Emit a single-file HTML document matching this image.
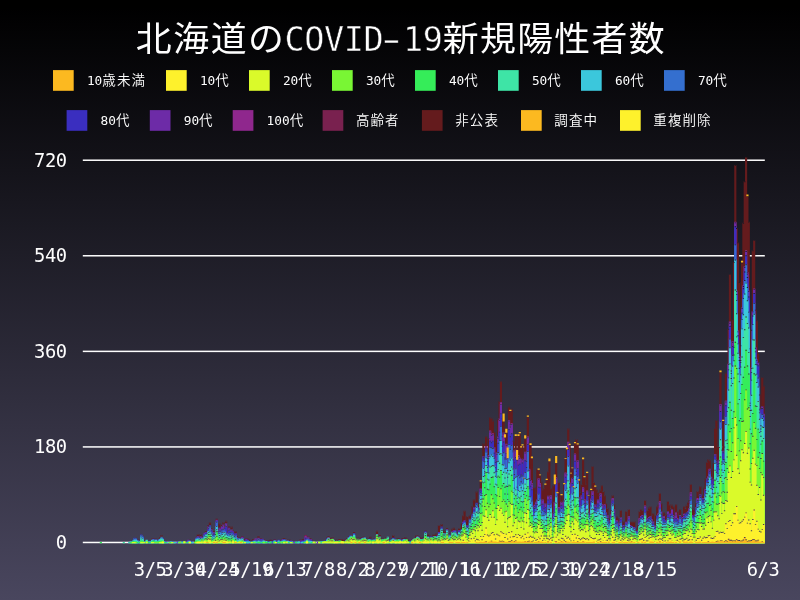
<!DOCTYPE html>
<html lang="ja"><head><meta charset="utf-8"><title>北海道のCOVID-19新規陽性者数</title>
<style>html,body{margin:0;padding:0;background:#000;}svg{display:block;will-change:transform;opacity:0.999}text{font-family:"DejaVu Sans Mono","Liberation Mono","Noto Sans CJK JP",monospace;fill:#fff}</style></head><body>
<svg width="800" height="600" viewBox="0 0 800 600">
<defs><linearGradient id="bg" x1="0" y1="0" x2="0" y2="1"><stop offset="0" stop-color="#000000"/><stop offset="1" stop-color="#4a475f"/></linearGradient><linearGradient id="bgu" gradientUnits="userSpaceOnUse" x1="0" y1="0" x2="0" y2="600"><stop offset="0" stop-color="#000000"/><stop offset="1" stop-color="#4a475f"/></linearGradient></defs>
<rect width="800" height="600" fill="url(#bg)"/>
<text transform="translate(135.8,50.8) scale(1.04,1)" font-size="34.5" letter-spacing="1.5">北海道の</text><text x="284.6" y="50.8" font-size="33.5" letter-spacing="-0.42" stroke="#070709" stroke-width="0.5">COVID</text><text transform="translate(375.4,51) scale(1.58,1)" font-size="33.5" stroke="#070709" stroke-width="0.3">-</text><text x="403.1" y="50.8" font-size="33.5" letter-spacing="-0.42" stroke="#070709" stroke-width="0.5">19</text><text transform="translate(442.7,50.8) scale(1.04,1)" font-size="34.5" letter-spacing="1.3">新規陽性者数</text>
<rect x="53" y="70.1" width="20.7" height="20.7" fill="#fdba21"/>
<text x="86.9" y="85.2"><tspan font-size="12.8">10</tspan><tspan font-size="13.5" font-weight="350" letter-spacing="1.1">歳未満</tspan></text>
<rect x="166" y="70.1" width="20.7" height="20.7" fill="#fff22d"/>
<text x="199.9" y="85.2"><tspan font-size="12.8">10</tspan><tspan font-size="13.5" font-weight="350" letter-spacing="1.1">代</tspan></text>
<rect x="249" y="70.1" width="20.7" height="20.7" fill="#dbfb2b"/>
<text x="282.9" y="85.2"><tspan font-size="12.8">20</tspan><tspan font-size="13.5" font-weight="350" letter-spacing="1.1">代</tspan></text>
<rect x="332" y="70.1" width="20.7" height="20.7" fill="#7af735"/>
<text x="365.9" y="85.2"><tspan font-size="12.8">30</tspan><tspan font-size="13.5" font-weight="350" letter-spacing="1.1">代</tspan></text>
<rect x="415" y="70.1" width="20.7" height="20.7" fill="#36ee5a"/>
<text x="448.9" y="85.2"><tspan font-size="12.8">40</tspan><tspan font-size="13.5" font-weight="350" letter-spacing="1.1">代</tspan></text>
<rect x="498" y="70.1" width="20.7" height="20.7" fill="#3fe5a7"/>
<text x="531.9" y="85.2"><tspan font-size="12.8">50</tspan><tspan font-size="13.5" font-weight="350" letter-spacing="1.1">代</tspan></text>
<rect x="581" y="70.1" width="20.7" height="20.7" fill="#3cc8dd"/>
<text x="614.9" y="85.2"><tspan font-size="12.8">60</tspan><tspan font-size="13.5" font-weight="350" letter-spacing="1.1">代</tspan></text>
<rect x="664" y="70.1" width="20.7" height="20.7" fill="#3570d0"/>
<text x="697.9" y="85.2"><tspan font-size="12.8">70</tspan><tspan font-size="13.5" font-weight="350" letter-spacing="1.1">代</tspan></text>
<rect x="66.6" y="110.1" width="20.7" height="20.7" fill="#3b2fc0"/>
<text x="100.5" y="125.2"><tspan font-size="12.8">80</tspan><tspan font-size="13.5" font-weight="350" letter-spacing="1.1">代</tspan></text>
<rect x="149.8" y="110.1" width="20.7" height="20.7" fill="#6e2ca8"/>
<text x="183.70000000000002" y="125.2"><tspan font-size="12.8">90</tspan><tspan font-size="13.5" font-weight="350" letter-spacing="1.1">代</tspan></text>
<rect x="232.7" y="110.1" width="20.7" height="20.7" fill="#90288e"/>
<text x="266.59999999999997" y="125.2"><tspan font-size="12.8">100</tspan><tspan font-size="13.5" font-weight="350" letter-spacing="1.1">代</tspan></text>
<rect x="322.6" y="110.1" width="20.7" height="20.7" fill="#7a2250"/>
<text x="355.90000000000003" y="125.2"><tspan font-size="13.5" font-weight="350" letter-spacing="1.1">高齢者</tspan></text>
<rect x="421.9" y="110.1" width="20.7" height="20.7" fill="#651c1e"/>
<text x="455.2" y="125.2"><tspan font-size="13.5" font-weight="350" letter-spacing="1.1">非公表</tspan></text>
<rect x="521" y="110.1" width="20.7" height="20.7" fill="#fdba21"/>
<text x="554.3" y="125.2"><tspan font-size="13.5" font-weight="350" letter-spacing="1.1">調査中</tspan></text>
<rect x="620" y="110.1" width="20.7" height="20.7" fill="#fff22d"/>
<text x="653.3" y="125.2"><tspan font-size="13.5" font-weight="350" letter-spacing="1.1">重複削除</tspan></text>
<rect x="82.8" y="159.47" width="682" height="1.5" fill="#fff"/>
<text x="66.6" y="166.55" font-size="18.8" letter-spacing="-0.48" text-anchor="end">720</text>
<rect x="82.8" y="255.02" width="682" height="1.5" fill="#fff"/>
<text x="66.6" y="262.1" font-size="18.8" letter-spacing="-0.48" text-anchor="end">540</text>
<rect x="82.8" y="350.62" width="682" height="1.5" fill="#fff"/>
<text x="66.6" y="357.7" font-size="18.8" letter-spacing="-0.48" text-anchor="end">360</text>
<rect x="82.8" y="446.17" width="682" height="1.5" fill="#fff"/>
<text x="66.6" y="453.25" font-size="18.8" letter-spacing="-0.48" text-anchor="end">180</text>
<rect x="82.8" y="541.72" width="682" height="1.5" fill="#fff"/>
<text x="66.6" y="548.8" font-size="18.8" letter-spacing="-0.48" text-anchor="end">0</text>
<g>
<path fill="#651c1e" d="M137.52 543.2V539.85H139.66V543.2zM142.9 543.2V540.38H145.05V543.2zM150.99 543.2V538.79H152.33V538.26H154.48V543.2zM155.03 543.2V538.79H157.17V543.2zM157.72 543.2V538.79H159.07V537.2H160.41V535.08H162.56V543.2zM188.7 543.2V539.85H190.85V543.2zM194.09 543.2V540.38H196.24V543.2zM196.78 543.2V534.55H198.93V543.2zM199.48 543.2V534.02H201.62V536.67H202.97V539.85H204.32V543.2zM204.87 543.2V531.36H207.01V533.48H207.56V525H208.91V522.35H211.05V528.18H212.4V533.48H212.95V531.36H214.29V530.83H215.64V518.64H217.79V530.3H218.34V523.41H220.48V528.18H221.03V525H222.38V522.35H224.52V525H225.07V520.76H227.22V530.83H227.77V526.59H229.91V543.2zM230.46 543.2V526.59H232.61V530.83H233.95V534.55H234.5V531.36H236.65V536.14H237.99V537.73H239.34V537.73H240.69V538.26H241.23V536.14H243.38V539.32H244.73V539.85H245.28V538.26H247.42V538.79H248.77V539.32H250.12V543.2zM250.66 543.2V540.38H252.01V539.32H254.16V543.2zM257.4 543.2V536.14H259.55V539.32H260.09V538.26H262.24V543.2zM262.79 543.2V539.85H264.93V543.2zM265.48 543.2V540.38H267.63V543.2zM268.18 543.2V540.38H269.52V539.85H271.67V543.2zM272.22 543.2V540.38H273.56V539.32H275.71V543.2zM278.95 543.2V540.38H281.1V543.2zM281.65 543.2V538.79H282.99V538.26H285.14V538.79H286.49V539.85H287.83V543.2zM288.38 543.2V539.85H290.53V543.2zM299.16 543.2V539.85H301.3V543.2zM301.85 543.2V539.32H304V543.2zM304.54 543.2V535.08H306.69V538.26H307.24V536.14H309.38V538.26H310.73V538.79H312.08V543.2zM326.1 543.2V537.73H327.44V536.14H329.59V539.32H330.14V537.73H331.48V537.2H333.63V543.2zM334.18 543.2V539.85H336.32V539.85H337.67V540.38H338.22V539.32H340.37V539.85H340.91V539.32H343.06V540.38H343.61V539.85H344.95V539.32H346.3V538.26H347.65V536.67H349.79V543.2zM350.34 543.2V535.08H352.49V536.67H353.04V531.89H355.18V537.73H356.53V538.79H357.08V537.73H359.22V538.26H359.77V537.73H361.12V537.2H362.47V536.67H364.61V543.2zM367.85 543.2V538.79H369.2V536.67H371.35V539.32H372.69V539.32H373.24V538.79H375.39V543.2zM375.94 543.2V530.83H378.08V535.61H378.63V535.08H380.78V537.73H382.12V543.2zM382.67 543.2V538.79H384.82V543.2zM385.36 543.2V537.2H387.51V543.2zM388.06 543.2V539.32H390.2V543.2zM390.75 543.2V538.79H392.1V535.08H394.25V543.2zM396.14 543.2V538.79H397.49V538.26H399.63V543.2zM400.18 543.2V539.85H401.53V538.26H403.67V538.79H404.22V537.2H406.37V538.79H407.72V539.85H409.06V543.2zM410.96 543.2V539.32H412.3V538.79H414.45V543.2zM415 543.2V535.61H417.14V535.61H418.49V536.67H419.84V537.73H420.39V537.2H422.53V537.73H423.88V543.2zM424.43 543.2V530.83H426.57V543.2zM427.12 543.2V534.55H429.27V535.61H430.61V543.2zM431.16 543.2V536.14H432.51V534.55H434.66V535.61H435.2V533.48H436.55V532.95H437.9V525H440.04V536.14H440.59V523.94H442.74V529.77H444.08V530.83H445.43V532.95H445.98V528.18H448.13V533.48H449.47V534.02H450.82V534.55H451.37V528.71H452.71V527.65H454.86V529.77H456.21V532.42H457.55V534.02H458.1V528.18H460.25V531.89H460.8V522.88H462.14V515.45H463.49V510.68H465.64V520.76H466.18V515.99H468.33V528.18H468.88V515.45H470.23V514.39H471.57V505.91H472.92V499.55H475.07V505.91H475.61V491.59H477.76V504.85H478.31V502.73H479.65V481.52H481V481.51H482.35V443.34H484.49V461.36H485.04V436.45H487.19V454.47H487.74V438.03H489.08V417.35H491.23V417.89H492.58V420.53H493.92V431.66H495.27V442.27H495.82V438.03H497.17V418.93H498.51V400.92H499.86V381.29H502.01V418.41H503.35V421.6H504.7V437.5H505.25V432.73H507.39V458.19H507.94V406.75H510.09V410.99H510.63V408.86H512.78V440.68H514.13V462.42H514.68V435.9H516.82V459.77H517.37V435.9H518.72V433.25H520.86V447.57H521.41V445.46H523.56V478.33H524.11V438.57H525.45V438.03H526.8V416.82H528.95V442.8H530.29V444.92H531.64V458.19H532.99V487.35H534.33V487.35H535.68V492.65H536.23V468.79H538.38V469.84H539.72V475.16H541.07V481.52H542.42V489.47H542.96V487.88H544.31V484.7H545.66V479.92H547V471.45H548.35V461.36H550.5V488.41H551.85V501.67H552.39V485.23H553.74V484.17H555.09V462.95H557.23V493.18H557.78V482.05H559.93V505.38H560.47V495.3H562.62V500.61H563.17V484.17H564.51V458.7H565.86V449.16H567.21V428.49H569.36V444.92H570.7V473.56H571.25V468.26H573.4V487.35H573.94V443.33H575.29V439.09H577.44V444.4H578.78V480.45H580.13V492.12H580.68V484.17H582.03V459.24H584.17V477.27H585.52V483.64H586.07V473.03H588.21V495.83H589.56V497.42H590.11V490.01H591.46V466.13H593.6V482.05H594.95V486.82H596.3V489.47H597.64V492.13H598.99V494.77H599.54V489.48H600.88V485.23H603.03V491.06H604.38V495.3H605.73V503.26H607.07V508.03H608.42V518.11H609.77V521.82H610.31V510.15H611.66V495.3H613.81V504.32H615.15V522.88H615.7V516.52H617.85V521.82H618.4V518.11H619.74V510.15H621.89V527.12H622.44V521.29H624.58V526.06H625.13V511.21H627.28V527.12H627.82V509.09H629.97V521.29H631.32V521.29H632.66V521.29H634.01V521.29H635.36V529.77H635.91V528.71H637.25V525H638.6V511.21H639.95V509.09H642.09V510.15H643.44V518.11H643.99V500.08H646.13V511.21H646.68V510.15H648.03V507.5H649.38V506.44H651.52V514.92H652.07V513.33H654.22V522.88H654.76V514.92H656.11V506.44H657.46V504.85H658.81V493.18H660.95V503.26H662.3V513.86H662.85V512.27H664.99V514.92H665.54V513.86H666.89V501.14H669.03V504.32H670.38V508.03H670.93V504.85H673.08V506.44H674.42V514.92H674.97V504.32H677.12V511.21H678.46V514.92H679.01V509.09H681.16V514.92H682.5V514.92H683.05V506.44H685.2V508.03H685.75V504.85H687.09V502.2H688.44V500.08H689.79V484.17H691.93V508.03H693.28V509.09H694.63V512.27H695.17V503.26H696.52V491.07H698.67V495.31H699.22V486.29H701.36V496.89H701.91V495.31H703.26V487.87H704.6V478.33H705.95V461.91H707.3V459.24H709.44V460.3H710.79V469.85H712.14V478.33H712.69V462.94H714.03V427.96H715.38V420H717.53V445.98H718.87V447.05H719.42V372.27H721.57V449.7H722.11V421.06H724.26V446.51H724.81V372.81H726.96V410.97H727.5V328.79H728.85V274.17H731V325.6H731.54V319.24H732.89V261.97H734.24V164.93H736.38V228.03H737.73V242.35H739.08V282.12H740.42V345.23H740.97V262.5H742.32V222.73H743.67V181.37H745.01V156.97H747.16V196.21H748.51V221.66H749.85V348.41H750.4V329.86H751.75V250.3H753.1V240.22H755.24V309.69H756.59V320.29H757.94V353.19H759.28V394.55H760.63V408.33H761.18V377.05H763.32V385.53H764.67V543.2z"/>
<path fill="#90288e" d="M146.94 543.2V541.44H149.09V543.2zM184.66 543.2V540.91H186.81V540.91H188.16V543.2zM200.82 543.2V537.2H202.97V543.2zM210.25 543.2V529.24H212.4V543.2zM216.99 543.2V530.83H219.14V543.2zM235.85 543.2V537.2H237.99V543.2zM254.71 543.2V538.26H256.85V543.2zM264.13 543.2V540.38H266.28V543.2zM299.16 543.2V540.38H301.3V543.2zM304.54 543.2V535.61H306.69V543.2zM309.93 543.2V539.32H312.08V543.2zM444.63 543.2V533.48H446.78V543.2zM479.65 543.2V488.41H481.8V493.18H483.15V543.2zM483.69 543.2V470.37H485.04V445.99H487.19V457.65H487.74V455H489.08V430.61H491.23V434.33H491.78V433.25H493.92V447.04H495.27V543.2zM495.82 543.2V452.35H497.17V436.43H498.51V418.42H499.86V401.97H502.01V435.38H502.55V432.2H504.7V457.12H505.25V443.87H507.39V469.32H507.94V420.01H510.09V424.24H510.63V423.18H512.78V450.23H514.13V473.03H514.68V449.69H516.82V475.15H517.37V455H519.52V457.65H520.86V474.09H521.41V458.71H523.56V487.35H524.11V451.82H526.25V459.77H526.8V436.44H528.95V468.79H530.29V479.92H531.64V483.12H532.99V543.2zM533.53 543.2V504.85H535.68V543.2zM536.23 543.2V499.55H537.58V478.33H539.72V483.11H541.07V543.2zM541.62 543.2V499.55H543.76V543.2zM549.7 543.2V495.3H551.85V543.2zM553.74 543.2V501.67H555.09V477.27H557.23V517.05H557.78V506.97H559.93V543.2zM560.47 543.2V501.67H562.62V511.74H563.97V543.2zM564.51 543.2V472.49H566.66V473.56H567.21V441.74H569.36V482.58H570.7V543.2zM571.25 543.2V477.81H573.4V492.12H573.94V453.41H576.09V470.38H576.64V460.31H578.78V497.42H580.13V543.2zM580.68 543.2V495.31H582.03V487.34H584.17V499.02H585.52V543.2zM586.07 543.2V490.53H588.21V543.2zM590.11 543.2V498.49H591.46V491.05H593.6V504.85H594.95V543.2zM595.5 543.2V506.44H597.64V543.2zM598.19 543.2V503.26H599.54V493.19H601.68V504.32H603.03V508.03H603.58V504.32H605.73V543.2zM606.27 543.2V514.92H608.42V543.2zM610.31 543.2V513.86H611.66V497.95H613.81V509.09H615.15V543.2zM615.7 543.2V520.23H617.85V525H618.4V521.82H620.54V543.2zM623.78 543.2V529.24H625.93V543.2zM627.82 543.2V515.99H629.97V543.2zM631.87 543.2V527.12H634.01V543.2zM638.6 543.2V518.11H639.95V515.99H642.09V543.2zM642.64 543.2V520.76H643.99V505.38H646.13V518.11H647.48V518.11H648.03V517.05H650.18V543.2zM650.72 543.2V519.17H652.87V543.2zM653.42 543.2V527.12H655.56V543.2zM657.46 543.2V513.33H658.81V501.14H660.95V543.2zM662.85 543.2V515.99H664.99V543.2zM669.58 543.2V513.86H671.73V543.2zM672.28 543.2V514.92H674.42V543.2zM674.97 543.2V512.27H677.12V518.11H678.46V519.17H679.01V514.92H681.16V543.2zM683.05 543.2V513.86H685.2V543.2zM687.09 543.2V511.21H688.44V508.03H689.79V492.12H691.93V543.2zM692.48 543.2V518.11H693.83V514.39H695.97V543.2zM696.52 543.2V497.96H698.67V500.08H700.01V543.2zM701.91 543.2V497.96H704.06V499.01H704.6V488.93H706.75V543.2zM707.3 543.2V476.21H708.64V468.79H710.79V476.75H712.14V487.87H712.69V478.85H714.03V453.95H716.18V543.2zM716.73 543.2V463.48H718.07V459.77H719.42V404.09H721.57V461.36H722.11V450.75H724.26V458.71H724.81V400.38H726.96V439.08H727.5V363.79H728.85V321.36H731V370.15H731.54V340.98H733.69V345.22H734.24V221.67H736.38V290.6H737.73V330.38H739.08V355.83H740.42V359.55H740.97V307.57H742.32V285.31H743.67V266.22H745.01V250.3H747.16V272.04H748.51V290.6H749.85V402.5H750.4V367.51H751.75V311.29H753.1V288.48H755.24V347.34H756.59V359.54H757.94V543.2zM758.48 543.2V407.8H760.63V543.2zM762.52 543.2V413.63H764.67V543.2z"/>
<path fill="#6e2ca8" d="M138.86 543.2V540.91H141.01V543.2zM164.46 543.2V540.91H166.6V543.2zM177.93 543.2V540.91H180.07V543.2zM184.66 543.2V541.44H186.81V541.44H187.35V539.85H189.5V543.2zM195.44 543.2V537.73H196.78V536.14H198.93V543.2zM199.48 543.2V536.14H201.62V543.2zM202.17 543.2V540.38H203.52V532.95H204.87V531.89H207.01V535.08H207.56V526.06H209.71V543.2zM210.25 543.2V529.77H212.4V534.02H212.95V531.89H215.09V532.42H215.64V519.7H217.79V531.36H218.34V527.65H220.48V528.71H221.03V526.06H222.38V524.47H224.52V527.65H225.07V522.88H227.22V532.42H227.77V527.65H229.91V529.24H231.26V529.24H232.61V531.36H233.95V535.61H234.5V532.95H236.65V537.73H237.99V543.2zM238.54 543.2V538.26H240.69V538.79H241.23V536.67H243.38V543.2zM243.93 543.2V540.38H245.28V538.79H247.42V543.2zM253.36 543.2V539.85H254.71V538.79H256.05V538.26H257.4V537.73H259.55V543.2zM260.09 543.2V538.79H262.24V538.79H263.59V543.2zM274.91 543.2V540.38H277.06V540.91H278.4V543.2zM280.3 543.2V540.38H281.65V539.32H283.79V543.2zM285.69 543.2V540.38H287.83V543.2zM289.73 543.2V540.38H291.87V543.2zM292.42 543.2V540.91H294.57V541.44H295.91V543.2zM296.46 543.2V540.91H298.61V543.2zM299.16 543.2V540.91H300.5V540.38H302.65V543.2zM303.2 543.2V540.38H304.54V536.67H306.69V538.79H307.24V536.67H309.38V543.2zM311.28 543.2V540.91H313.43V543.2zM316.67 543.2V541.97H318.81V543.2zM327.44 543.2V537.2H329.59V543.2zM344.95 543.2V539.85H347.1V543.2zM375.94 543.2V534.02H378.08V543.2zM393.45 543.2V538.79H395.59V543.2zM400.18 543.2V540.38H401.53V539.32H403.67V543.2zM416.35 543.2V536.14H418.49V537.2H419.84V538.79H421.19V543.2zM425.77 543.2V537.2H427.92V543.2zM428.47 543.2V537.2H430.61V543.2zM436.55 543.2V535.61H437.9V531.89H440.04V543.2zM445.98 543.2V529.24H448.13V543.2zM451.37 543.2V531.36H452.71V530.3H454.86V530.3H456.21V543.2zM458.1 543.2V530.3H460.25V535.61H461.6V543.2zM462.14 543.2V521.82H463.49V520.23H465.64V543.2zM466.18 543.2V525H468.33V543.2zM468.88 543.2V518.64H471.02V521.82H471.57V513.86H472.92V506.97H475.07V513.33H476.41V543.2zM476.96 543.2V509.62H478.31V506.97H479.65V488.77H481.8V493.35H482.35V456.07H484.49V471.26H485.04V446.7H487.19V458.01H487.74V455.88H489.08V431.49H491.23V435.22H491.78V434.31H493.92V447.39H495.27V461.89H495.82V453.76H497.17V437.67H498.51V420.18H499.86V403.92H502.01V436.44H502.55V433.62H504.7V458.53H505.25V444.76H507.39V470.03H507.94V420.54H510.09V426.54H510.63V423.88H512.78V451.46H514.13V474.09H514.68V450.4H516.82V476.21H517.37V455.88H519.52V458H520.86V475.5H521.41V459.24H523.56V487.7H524.11V452.53H526.25V460.83H526.8V437.15H528.95V469.85H530.29V480.1H531.64V483.82H532.99V505.91H534.33V505.91H534.88V501.67H536.23V499.72H537.58V478.86H539.72V483.64H541.07V504.32H541.62V499.72H543.76V508.03H544.31V503.26H546.46V515.99H547V495.84H549.15V503.79H549.7V495.83H551.85V528.71H552.39V512.8H553.74V502.2H555.09V478.16H557.23V517.58H557.78V508.03H559.93V515.45H560.47V502.2H562.62V512.8H563.17V500.61H564.51V473.38H566.66V474.44H567.21V443.33H569.36V483.28H570.7V501.67H571.25V477.98H573.4V492.3H573.94V453.94H576.09V470.73H576.64V460.84H578.78V497.6H580.13V511.74H580.68V495.48H582.03V487.7H584.17V499.72H585.52V502.73H586.07V491.42H588.21V511.74H589.56V513.86H590.11V498.67H591.46V491.41H593.6V505.38H594.15V504.32H596.3V507.5H596.84V499.55H598.99V504.32H599.54V493.89H601.68V504.85H603.03V508.56H603.58V504.85H605.73V512.27H607.07V515.45H608.42V520.23H609.77V530.83H610.31V514.92H611.66V498.84H613.81V509.62H615.15V528.18H615.7V520.76H617.85V525.53H618.4V522.35H619.74V517.05H621.89V543.2zM622.44 543.2V525H624.58V529.77H625.13V521.82H627.28V530.3H627.82V516.52H629.97V525H631.32V543.2zM631.87 543.2V527.65H633.21V527.12H635.36V543.2zM635.91 543.2V530.83H637.25V530.3H638.6V518.64H639.95V516.52H641.29V514.92H643.44V521.29H643.99V505.91H646.13V519.7H646.68V518.64H648.03V517.58H649.38V515.99H651.52V520.23H652.87V521.29H654.22V543.2zM654.76 543.2V525H656.91V543.2zM657.46 543.2V513.86H658.81V502.2H660.95V511.21H662.3V521.82H662.85V516.52H664.99V520.23H665.54V519.7H666.89V511.21H669.03V513.33H670.38V514.39H670.93V509.09H673.08V515.99H674.42V525H674.97V514.39H677.12V518.64H678.46V519.7H679.01V515.45H681.16V522.35H681.7V517.05H683.05V514.92H685.2V543.2zM687.09 543.2V511.74H688.44V508.56H689.79V493.36H691.93V514.92H693.28V519.17H694.63V543.2zM695.17 543.2V506.97H696.52V499.02H698.67V500.61H699.22V494.25H701.36V505.38H701.91V498.14H704.06V499.37H704.6V489.11H705.95V478.34H707.3V476.38H708.64V469.32H710.79V476.92H712.14V488.23H712.69V479.03H714.03V454.12H716.18V460.3H717.53V463.84H718.07V460.3H719.42V404.79H721.57V461.54H722.11V450.93H724.26V459.06H724.81V401.62H726.96V439.44H727.5V364.14H728.85V322.78H731V370.5H731.54V341.87H733.69V345.75H734.24V222.38H736.38V290.96H737.73V331.44H739.08V356.89H740.42V360.08H740.97V307.93H742.32V286.02H743.67V266.75H745.01V251H747.16V273.63H748.51V290.96H749.85V402.68H750.4V368.22H751.75V311.46H753.1V289.19H755.24V347.87H756.59V359.89H757.94V362.2H759.28V408.16H760.63V425.3H761.18V406.22H763.32V414.16H764.67V543.2z"/>
<path fill="#3b2fc0" d="M130.78 543.2V540.91H132.93V543.2zM133.47 543.2V537.73H135.62V538.26H136.97V539.85H138.32V543.2zM140.21 543.2V534.55H142.36V536.14H143.7V540.91H145.05V543.2zM152.33 543.2V538.79H154.48V540.91H155.03V539.32H157.17V543.2zM161.76 543.2V538.26H163.91V543.2zM176.58 543.2V541.44H178.73V543.2zM187.35 543.2V540.38H189.5V543.2zM190.05 543.2V540.91H192.2V543.2zM196.78 543.2V536.67H198.93V537.73H200.28V537.73H201.62V543.2zM203.52 543.2V534.02H204.87V532.42H207.01V543.2zM207.56 543.2V528.18H208.91V525H211.05V530.3H212.4V534.55H212.95V533.48H215.09V543.2zM215.64 543.2V520.76H217.79V533.48H218.34V530.3H219.68V529.77H221.03V529.24H222.38V528.71H223.72V528.18H225.07V526.06H227.22V534.02H227.77V529.77H229.91V531.89H230.46V531.36H232.61V532.42H233.95V536.14H234.5V533.48H236.65V538.79H237.99V543.2zM241.23 543.2V537.73H243.38V540.38H244.73V543.2zM245.28 543.2V539.85H247.42V539.85H248.77V543.2zM250.66 543.2V540.91H252.01V540.38H254.16V543.2zM256.05 543.2V539.85H258.2V543.2zM260.09 543.2V539.32H262.24V539.32H263.59V543.2zM264.13 543.2V540.91H266.28V543.2zM266.83 543.2V540.91H268.97V543.2zM270.87 543.2V540.91H273.02V540.91H273.56V539.85H275.71V540.91H277.06V543.2zM277.6 543.2V539.85H279.75V541.44H281.1V543.2zM282.99 543.2V539.32H285.14V543.2zM289.73 543.2V540.91H291.87V543.2zM295.12 543.2V540.91H297.26V543.2zM299.16 543.2V541.44H301.3V543.2zM301.85 543.2V540.38H304V540.91H304.54V537.73H306.69V539.32H308.04V543.2zM308.59 543.2V539.32H310.73V539.85H312.08V543.2zM323.4 543.2V540.38H325.55V540.38H326.1V538.26H328.24V543.2zM349 543.2V535.61H351.14V543.2zM353.04 543.2V532.95H355.18V543.2zM361.12 543.2V537.73H363.26V543.2zM369.2 543.2V538.79H371.35V543.2zM373.24 543.2V539.32H374.59V538.26H376.73V543.2zM378.63 543.2V536.14H380.78V543.2zM389.41 543.2V539.85H391.55V543.2zM392.1 543.2V537.73H394.25V543.2zM398.83 543.2V539.32H400.98V543.2zM404.22 543.2V538.79H406.37V543.2zM410.96 543.2V539.85H413.1V543.2zM415 543.2V537.73H417.14V543.2zM423.08 543.2V538.26H424.43V531.36H426.57V538.26H427.12V536.14H429.27V537.73H429.81V536.14H431.96V543.2zM435.2 543.2V536.14H437.35V543.2zM437.9 543.2V532.42H440.04V536.67H440.59V526.59H442.74V543.2zM444.63 543.2V534.02H446.78V543.2zM450.02 543.2V535.61H452.17V543.2zM452.71 543.2V531.36H454.06V530.83H456.21V543.2zM456.75 543.2V535.61H458.1V530.83H460.25V543.2zM460.8 543.2V529.24H462.14V522.88H463.49V521.29H465.64V543.2zM466.18 543.2V525.53H468.33V531.89H469.68V543.2zM471.57 543.2V514.39H472.92V509.62H475.07V513.86H475.61V502.73H477.76V510.15H478.31V507.5H479.65V490.54H481.8V494.94H482.35V457.3H484.49V473.56H485.04V448.29H487.19V461.19H487.74V458.18H489.08V440.68H491.23V442.28H491.78V440.68H493.92V452.69H495.27V467.37H495.82V461.36H497.17V442.8H498.51V431.67H499.86V413.46H502.01V445.63H502.55V441.57H504.7V467.9H505.25V452.88H507.39V476.75H507.94V429.2H510.09V436.26H510.63V433.25H512.78V459.42H514.13V477.8H514.68V457.12H516.82V486.64H517.37V464.72H518.72V463.66H520.86V481.34H521.41V462.6H523.56V494.07H524.11V460.31H526.25V467.02H526.8V444.04H528.95V477.98H530.29V485.76H531.64V489.3H532.99V507.5H534.33V508.03H534.88V504.32H536.23V503.96H537.58V486.81H539.72V487.35H541.07V506.44H541.62V503.79H543.76V511.21H544.31V506.97H546.46V517.05H547V499.55H549.15V509.09H549.7V499.19H551.85V529.77H552.39V517.05H553.74V506.44H555.09V483.46H557.23V520.23H557.78V509.62H559.93V517.05H560.47V504.85H562.62V515.45H563.17V506.44H564.51V476.73H566.66V480.45H567.21V448.99H569.36V486.82H570.7V504.85H571.25V483.11H573.4V496.54H573.94V460.83H576.09V474.45H576.64V467.91H578.78V500.61H580.13V513.86H580.68V499.2H582.03V492.12H584.17V502.9H585.52V504.85H586.07V494.77H588.21V513.86H589.56V516.52H590.11V501.32H591.46V495.12H593.6V509.09H594.15V506.97H596.3V510.68H596.84V503.62H598.99V505.38H599.54V496.72H601.68V508.03H603.03V511.74H603.58V505.38H605.73V513.86H607.07V518.11H608.42V521.82H609.77V531.36H610.31V515.99H611.66V500.43H613.81V513.33H615.15V529.77H615.7V521.82H617.85V526.59H618.4V525H619.74V519.17H621.89V529.24H622.44V526.06H624.58V530.3H625.13V523.41H627.28V530.83H627.82V519.17H629.97V526.06H631.32V526.06H632.66V528.71H633.21V527.65H635.36V532.42H635.91V531.36H638.05V531.36H638.6V520.76H639.95V517.05H641.29V515.99H643.44V522.35H643.99V508.56H646.13V521.29H646.68V520.23H648.03V518.11H649.38V517.58H651.52V523.41H652.87V523.41H654.22V543.2zM654.76 543.2V527.12H656.11V514.92H658.26V516.52H658.81V507.5H660.95V513.86H662.3V522.88H662.85V518.11H664.99V521.29H666.34V521.82H666.89V514.39H669.03V517.58H669.58V514.92H670.93V513.86H673.08V518.11H674.42V526.06H674.97V518.11H677.12V519.7H678.46V521.29H679.01V515.99H681.16V523.41H681.7V518.11H683.05V517.05H684.4V513.33H685.75V512.27H687.89V512.8H688.44V510.15H689.79V496.36H691.93V516.52H693.28V520.23H693.83V514.92H695.17V508.56H696.52V500.08H698.67V502.03H699.22V494.78H701.36V506.44H701.91V499.37H704.06V501.66H704.6V489.99H705.95V479.58H707.3V478.86H708.64V470.73H710.79V478.87H712.14V489.11H712.69V480.44H714.03V455.54H716.18V462.42H717.53V465.96H718.07V462.95H719.42V410.98H721.57V463.84H722.11V452.34H724.26V460.65H724.81V405.33H726.96V442.97H727.5V369.45H728.85V325.96H731V373.15H731.54V345.93H733.69V347.17H734.24V226.27H736.38V293.96H737.73V335.33H739.08V360.08H740.42V362.2H740.97V312.7H742.32V288.31H743.67V271.52H745.01V255.25H747.16V276.99H748.51V296.62H749.85V404.97H750.4V371.93H751.75V315.53H753.1V293.07H755.24V351.41H756.59V364.31H757.94V365.39H759.28V409.39H760.63V428.48H761.18V407.98H763.32V415.75H764.67V543.2z"/>
<path fill="#3570d0" d="M133.47 543.2V538.26H135.62V538.79H136.97V543.2zM137.52 543.2V540.38H139.66V543.2zM140.21 543.2V535.08H142.36V536.67H143.7V543.2zM144.25 543.2V541.44H146.4V543.2zM148.29 543.2V540.91H150.44V543.2zM152.33 543.2V539.32H154.48V543.2zM156.37 543.2V540.91H157.72V539.32H159.07V538.79H160.41V536.67H162.56V538.79H163.91V543.2zM164.46 543.2V541.44H166.6V543.2zM168.5 543.2V541.44H169.84V540.91H171.99V541.44H173.34V541.44H174.69V543.2zM176.58 543.2V541.97H178.73V543.2zM180.62 543.2V540.91H182.77V541.44H184.11V543.2zM187.35 543.2V540.91H188.7V540.38H190.85V541.44H192.2V541.44H193.54V543.2zM195.44 543.2V538.26H196.78V537.2H198.93V538.26H200.28V543.2zM200.82 543.2V537.73H202.97V543.2zM203.52 543.2V535.08H204.87V534.02H207.01V535.61H207.56V530.83H208.91V526.59H211.05V531.89H212.4V536.67H212.95V535.61H214.29V534.02H215.64V521.82H217.79V535.08H218.34V530.83H220.48V530.83H221.83V531.89H222.38V529.24H224.52V530.83H225.87V532.95H227.22V535.08H227.77V532.95H229.91V534.02H230.46V532.42H232.61V534.02H233.95V543.2zM234.5 543.2V535.08H236.65V539.85H237.19V538.26H239.34V543.2zM243.93 543.2V540.91H246.08V540.91H246.62V540.38H248.77V540.91H250.12V541.44H251.46V543.2zM253.36 543.2V540.38H255.51V540.38H256.85V541.44H257.4V538.79H259.55V540.38H260.89V540.38H261.44V539.85H263.59V543.2zM268.18 543.2V541.44H269.52V540.91H271.67V541.44H273.02V541.44H274.36V543.2zM276.26 543.2V541.44H278.4V543.2zM281.65 543.2V539.85H283.79V539.85H284.34V539.32H286.49V540.91H287.03V540.38H289.18V540.91H290.53V543.2zM293.77 543.2V541.97H295.91V543.2zM296.46 543.2V541.44H297.81V540.91H299.96V543.2zM300.5 543.2V541.44H302.65V543.2zM304.54 543.2V539.85H306.69V543.2zM307.24 543.2V538.79H309.38V540.38H310.73V543.2zM319.36 543.2V540.91H321.51V543.2zM326.1 543.2V539.32H328.24V543.2zM328.79 543.2V539.85H330.94V543.2zM332.83 543.2V539.85H334.98V543.2zM335.53 543.2V540.38H337.67V543.2zM347.65 543.2V537.2H349V536.14H350.34V535.61H352.49V537.2H353.04V533.48H355.18V543.2zM355.73 543.2V540.38H357.88V543.2zM359.77 543.2V538.79H361.12V538.26H363.26V543.2zM363.81 543.2V537.2H365.96V543.2zM366.51 543.2V539.85H368.65V543.2zM369.2 543.2V539.32H371.35V539.85H372.69V543.2zM374.59 543.2V539.32H376.73V543.2zM377.28 543.2V537.73H379.43V543.2zM385.36 543.2V538.79H387.51V543.2zM388.06 543.2V541.44H390.2V543.2zM390.75 543.2V539.32H392.1V538.26H394.25V539.32H395.59V543.2zM400.18 543.2V540.91H401.53V539.85H403.67V543.2zM404.22 543.2V539.32H406.37V543.2zM408.26 543.2V541.44H409.61V540.91H411.76V543.2zM415 543.2V538.26H417.14V543.2zM421.73 543.2V538.79H423.88V543.2zM428.47 543.2V539.32H430.61V543.2zM432.51 543.2V536.14H434.66V543.2zM437.9 543.2V532.95H440.04V543.2zM441.94 543.2V533.48H444.08V543.2zM444.63 543.2V535.08H445.98V529.77H448.13V543.2zM448.67 543.2V534.55H450.82V543.2zM452.71 543.2V532.42H454.06V531.36H456.21V533.48H457.55V543.2zM462.14 543.2V523.94H463.49V522.35H465.64V528.18H466.98V543.2zM467.53 543.2V532.95H468.88V519.17H471.02V522.35H471.57V515.45H472.92V511.74H475.07V514.39H475.61V503.79H477.76V510.68H478.31V508.56H479.65V492.3H481.8V498.48H482.35V460.66H484.49V475.32H485.04V451.64H487.19V467.02H487.74V465.6H489.08V446.87H491.23V447.23H492.58V448.1H493.92V457.82H495.27V471.43H495.82V470.91H497.17V451.99H498.51V439.8H499.86V426.19H502.01V454.82H502.55V452.35H504.7V477.62H505.25V458.72H507.39V486.12H507.94V444.04H510.09V448.81H510.63V444.92H512.78V468.61H514.13V487.7H514.68V468.43H516.82V493.71H517.37V474.97H519.52V477.27H520.86V487.34H521.41V475.5H523.56V501.14H524.11V471.98H526.25V479.04H526.8V451.11H528.95V488.41H530.29V496.36H531.64V500.61H532.99V514.92H533.53V511.74H534.88V507.5H537.03V509.09H537.58V493.71H539.72V498.49H541.07V512.27H541.62V509.8H543.76V514.92H544.31V512.27H546.46V520.23H547V503.79H549.15V514.92H549.7V503.61H551.85V531.89H552.39V518.11H553.74V511.74H555.09V491.42H557.23V521.82H557.78V511.74H559.93V519.7H560.47V508.03H562.62V517.05H563.17V509.62H564.51V483.1H566.66V487.7H567.21V456.06H569.36V494.07H570.7V506.97H571.25V486.47H573.4V499.55H573.94V468.43H576.09V478.86H576.64V475.86H578.78V506.08H580.13V515.99H580.68V505.2H582.03V499.37H584.17V506.97H585.52V509.62H586.07V499.9H588.21V515.45H589.56V518.11H590.11V505.56H591.46V499.72H593.6V512.27H594.15V510.15H596.3V511.74H596.84V507.51H598.19V507.5H599.54V502.2H601.68V509.09H603.03V514.92H603.58V508.56H605.73V515.45H607.07V520.23H608.42V523.41H609.77V533.48H610.31V517.58H611.66V503.25H613.81V515.45H615.15V531.36H615.7V523.41H617.85V527.65H619.2V529.77H619.74V521.82H621.89V531.36H622.44V528.18H624.58V530.83H625.13V524.47H627.28V531.89H627.82V520.23H629.97V527.65H630.52V526.59H632.66V530.83H633.21V528.18H635.36V532.95H635.91V532.42H638.05V543.2zM638.6 543.2V522.88H639.95V518.11H642.09V518.11H643.44V525.53H643.99V512.27H646.13V524.47H647.48V543.2zM648.03 543.2V520.76H649.38V519.17H651.52V525.53H652.07V525H654.22V528.18H655.56V528.71H656.11V518.64H657.46V517.58H658.81V508.56H660.95V516.52H662.3V523.94H662.85V521.82H664.99V522.35H666.34V522.35H666.89V517.05H669.03V521.29H669.58V517.58H670.93V514.92H673.08V521.29H674.42V526.59H674.97V521.29H677.12V523.94H677.66V522.35H679.01V518.11H681.16V525H681.7V522.35H683.05V518.11H685.2V518.11H685.75V514.92H687.89V515.45H688.44V510.68H689.79V499.55H691.93V517.58H693.28V520.76H693.83V515.99H695.17V513.33H696.52V502.56H698.67V503.97H699.22V497.07H701.36V508.56H701.91V502.55H704.06V505.2H704.6V492.82H705.95V481.88H708.1V482.04H708.64V473.39H710.79V483.64H712.14V492.83H712.69V483.98H714.03V458.89H716.18V471.79H717.53V472.85H718.07V468.79H719.42V421.23H721.57V469.49H722.11V459.06H724.26V464.19H724.81V415.94H726.96V449.16H727.5V377.4H728.85V338.51H731V378.1H731.54V354.77H732.89V354.59H734.24V244.47H736.38V300.15H737.73V343.46H739.08V367.86H739.62V366.62H740.97V318.89H742.32V298.21H743.67V280.01H745.01V264.26H747.16V287.07H748.51V311.64H749.85V410.1H750.4V379.71H751.75V324.19H753.1V302.97H755.24V357.6H756.59V373.68H757.94V377.58H759.28V412.4H760.63V430.96H761.18V414.17H763.32V419.82H764.67V543.2z"/>
<path fill="#3cc8dd" d="M128.09 543.2V541.97H129.43V541.44H131.58V543.2zM132.13 543.2V540.38H133.47V539.85H135.62V539.85H136.97V540.38H138.32V540.91H139.66V543.2zM140.21 543.2V536.67H142.36V538.26H143.7V541.44H145.05V543.2zM145.6 543.2V539.85H147.75V543.2zM148.29 543.2V541.44H150.44V541.44H150.99V539.85H153.13V539.85H154.48V543.2zM155.03 543.2V539.85H157.17V543.2zM157.72 543.2V540.38H159.07V539.32H160.41V537.73H162.56V539.32H163.91V541.44H165.26V543.2zM165.8 543.2V541.97H167.95V543.2zM173.88 543.2V541.97H176.03V543.2zM180.62 543.2V541.97H182.77V543.2zM186.01 543.2V541.97H187.35V541.44H188.7V540.91H190.85V543.2zM191.4 543.2V541.97H193.54V543.2zM195.44 543.2V539.32H196.78V538.79H198.93V538.79H199.48V538.26H201.62V543.2zM203.52 543.2V536.67H204.87V534.55H207.01V536.14H207.56V531.36H209.71V531.36H211.05V533.48H212.4V537.73H212.95V536.67H215.09V536.67H215.64V526.06H217.79V536.14H218.34V532.95H220.48V535.08H221.03V534.02H222.38V532.42H223.72V531.89H225.87V534.55H227.22V535.61H228.57V536.14H229.91V536.14H230.46V535.08H232.61V535.61H233.95V538.26H234.5V536.67H236.65V540.91H237.19V539.32H238.54V538.79H240.69V539.85H241.23V538.26H243.38V540.91H244.73V543.2zM245.28 543.2V541.44H247.42V541.44H248.77V541.44H250.12V541.97H251.46V543.2zM252.01 543.2V541.44H254.16V543.2zM258.75 543.2V541.44H260.89V541.97H261.44V541.44H262.79V540.38H264.93V541.44H266.28V543.2zM273.56 543.2V540.38H275.71V543.2zM277.6 543.2V540.38H279.75V541.97H280.3V540.91H282.44V543.2zM282.99 543.2V540.38H285.14V543.2zM287.03 543.2V540.91H289.18V541.44H290.53V541.44H291.87V541.44H293.22V543.2zM296.46 543.2V541.97H298.61V543.2zM300.5 543.2V541.97H301.85V541.44H304V541.44H305.34V543.2zM305.89 543.2V539.85H308.04V540.38H309.38V540.91H310.73V540.91H312.08V541.44H313.43V543.2zM320.71 543.2V541.44H322.06V540.91H324.2V543.2zM326.1 543.2V539.85H327.44V537.73H329.59V543.2zM331.48 543.2V538.79H333.63V543.2zM338.22 543.2V540.38H340.37V543.2zM344.95 543.2V540.38H347.1V543.2zM347.65 543.2V537.73H349.79V543.2zM353.04 543.2V535.08H355.18V543.2zM357.08 543.2V538.79H359.22V543.2zM362.47 543.2V537.73H364.61V538.26H365.96V543.2zM367.85 543.2V539.32H370V543.2zM370.55 543.2V540.91H372.69V543.2zM373.24 543.2V539.85H375.39V543.2zM377.28 543.2V538.79H379.43V543.2zM379.98 543.2V539.85H382.12V543.2zM386.71 543.2V536.67H388.86V543.2zM389.41 543.2V540.38H391.55V543.2zM393.45 543.2V540.38H395.59V543.2zM397.49 543.2V539.32H399.63V543.2zM401.53 543.2V540.38H402.88V539.32H405.02V543.2zM412.3 543.2V539.32H414.45V543.2zM416.35 543.2V536.67H418.49V537.73H419.84V543.2zM420.39 543.2V539.32H422.53V543.2zM423.08 543.2V538.79H424.43V532.42H426.57V543.2zM428.47 543.2V539.85H430.61V543.2zM432.51 543.2V536.67H434.66V543.2zM435.2 543.2V537.2H436.55V536.14H437.9V534.02H440.04V537.2H440.59V528.71H442.74V534.02H443.29V532.95H445.43V536.14H445.98V530.3H448.13V537.2H448.67V536.14H450.82V536.14H452.17V543.2zM452.71 543.2V533.48H454.86V543.2zM455.41 543.2V534.55H457.55V536.14H458.1V531.89H460.25V543.2zM460.8 543.2V529.77H462.14V525H463.49V523.41H465.64V543.2zM466.18 543.2V527.12H468.33V533.48H468.88V522.35H471.02V522.88H471.57V517.58H472.92V512.8H475.07V519.7H475.61V506.97H477.76V512.8H478.31V510.68H479.65V494.78H481.8V501.49H482.35V467.91H484.49V481.69H485.04V457.3H487.19V472.15H488.54V472.5H489.08V456.42H490.43V454.48H492.58V456.06H493.92V465.6H495.27V475.85H496.62V476.74H497.17V460.83H498.51V453.76H499.86V440.15H502.01V464.37H503.35V464.55H504.7V486.81H505.25V467.73H507.39V493.72H507.94V462.25H509.29V459.59H510.63V457.65H512.78V480.1H514.13V493.71H514.68V476.74H516.82V497.95H517.37V490.18H518.72V484.87H520.86V495.83H521.41V483.46H523.56V506.97H524.11V478.16H526.25V487.88H526.8V470.55H528.95V496.36H530.29V502.73H531.64V505.91H532.99V521.29H533.53V514.92H534.88V511.21H537.03V514.92H537.58V500.07H539.72V505.03H541.07V515.45H541.62V515.27H543.76V521.82H544.31V514.39H546.46V525H547V508.74H549.15V520.23H549.7V507.32H551.85V533.48H552.39V520.23H553.74V515.99H555.09V496.36H557.23V523.94H557.78V514.39H559.93V521.29H560.47V511.74H562.62V543.2zM563.17 543.2V512.8H564.51V489.81H566.66V492.3H567.21V465.61H569.36V498.49H570.7V509.62H571.25V493.54H573.4V504.49H573.94V475.15H576.09V486.99H576.64V482.76H578.78V510.5H580.13V519.17H580.68V507.68H582.03V504.14H584.17V510.68H585.52V512.8H586.07V503.79H588.21V516.52H589.56V521.82H590.11V508.92H591.46V502.19H593.6V517.58H594.15V512.27H596.3V512.8H596.84V510.86H598.99V513.33H599.54V506.26H601.68V511.21H603.03V519.17H603.58V514.92H605.73V517.58H607.07V523.94H608.42V525.53H609.77V543.2zM610.31 543.2V519.17H611.66V505.37H613.81V517.58H615.15V532.42H616.5V543.2zM617.05 543.2V530.3H619.2V530.83H619.74V525.53H621.89V543.2zM622.44 543.2V529.24H624.58V532.42H625.13V526.06H627.28V532.42H627.82V523.41H629.97V530.3H630.52V527.12H632.66V531.89H633.21V529.77H635.36V533.48H635.91V532.95H637.25V532.42H638.6V524.47H639.95V521.82H641.29V519.17H643.44V528.71H643.99V514.92H646.13V526.59H646.68V522.35H648.83V523.41H649.38V521.82H651.52V526.06H652.87V526.06H654.22V530.83H654.76V529.77H656.11V520.76H658.26V520.76H658.81V512.8H660.95V520.23H662.3V527.12H662.85V523.94H664.99V523.94H665.54V523.41H667.69V543.2zM668.23 543.2V523.41H669.58V521.29H670.93V517.58H673.08V522.88H674.42V529.24H674.97V524.47H677.12V526.06H677.66V524.47H679.01V522.88H681.16V526.06H681.7V524.47H683.05V519.7H685.2V521.29H685.75V517.58H687.09V516.52H688.44V513.86H689.79V504.14H691.93V518.64H693.28V523.94H693.83V521.82H695.17V514.92H696.52V506.98H697.87V506.27H699.22V499.73H701.36V510.15H701.91V503.79H704.06V508.21H704.6V496.36H705.95V485.23H708.1V486.64H708.64V476.57H710.79V488.06H712.14V496.54H712.69V486.99H714.03V462.78H716.18V478.51H716.73V475.86H718.07V474.98H719.42V428.48H721.57V475.15H722.11V462.77H724.26V470.02H724.81V424.07H726.96V456.59H727.5V389.6H728.85V347.35H731V385.35H731.54V365.55H732.89V360.25H734.24V259.49H736.38V313.24H737.73V352.83H739.08V381.29H739.62V374.39H740.97V328.43H742.32V314.3H743.67V293.62H745.01V282.65H747.16V300.32H748.51V327.55H749.85V416.11H750.4V394.73H751.75V339.4H753.1V313.76H755.24V364.14H756.59V381.99H757.94V386.6H759.28V418.77H760.63V435.73H761.18V418.06H763.32V427.07H764.67V543.2z"/>
<path fill="#3fe5a7" d="M122.7 543.2V541.97H124.85V543.2zM130.78 543.2V541.44H132.93V543.2zM133.47 543.2V540.91H135.62V540.91H136.97V541.44H138.32V543.2zM138.86 543.2V541.44H140.21V538.79H142.36V539.85H143.7V543.2zM145.6 543.2V540.38H147.75V543.2zM149.64 543.2V541.97H150.99V540.91H153.13V543.2zM153.68 543.2V541.44H155.03V540.91H157.17V543.2zM159.07 543.2V540.38H160.41V539.32H162.56V539.85H163.91V541.97H165.26V543.2zM169.84 543.2V541.44H171.99V543.2zM172.54 543.2V541.97H174.69V543.2zM177.93 543.2V541.44H180.07V543.2zM181.97 543.2V541.97H184.11V543.2zM190.05 543.2V541.97H192.2V543.2zM195.44 543.2V539.85H196.78V539.32H198.93V539.32H200.28V540.38H200.82V538.79H202.97V543.2zM203.52 543.2V538.26H204.87V536.14H207.01V536.67H207.56V531.89H209.71V534.02H211.05V536.14H212.4V539.32H212.95V538.26H214.29V537.2H215.64V529.24H217.79V537.73H218.34V535.08H220.48V535.61H221.83V536.67H222.38V535.08H223.72V534.55H225.87V536.14H227.22V537.2H227.77V536.67H229.91V537.73H230.46V535.61H232.61V537.2H233.95V539.32H235.3V543.2zM235.85 543.2V541.44H237.19V540.91H238.54V539.85H240.69V543.2zM241.23 543.2V539.85H243.38V541.44H244.73V541.44H246.08V543.2zM246.62 543.2V541.97H248.77V543.2zM253.36 543.2V540.91H255.51V541.44H256.85V541.97H257.4V540.91H259.55V543.2zM262.79 543.2V540.91H264.93V543.2zM265.48 543.2V540.91H267.63V543.2zM268.18 543.2V541.97H270.32V543.2zM273.56 543.2V540.91H275.71V543.2zM277.6 543.2V541.44H279.75V543.2zM281.65 543.2V540.91H283.79V540.91H285.14V543.2zM287.03 543.2V541.97H289.18V543.2zM297.81 543.2V541.44H299.96V543.2zM304.54 543.2V541.44H306.69V543.2zM308.59 543.2V541.44H310.73V541.97H312.08V543.2zM319.36 543.2V541.44H321.51V541.97H322.85V543.2zM332.83 543.2V540.38H334.98V543.2zM343.61 543.2V541.44H345.75V543.2zM347.65 543.2V538.79H349V537.2H350.34V536.14H352.49V537.73H353.04V535.61H355.18V543.2zM361.12 543.2V538.79H362.47V538.26H364.61V543.2zM367.85 543.2V539.85H370V543.2zM371.89 543.2V539.85H374.04V543.2zM374.59 543.2V539.85H375.94V534.55H378.08V543.2zM379.98 543.2V540.38H381.32V539.32H383.47V539.32H384.82V543.2zM385.36 543.2V539.32H386.71V537.2H388.86V543.2zM390.75 543.2V539.85H392.1V539.32H394.25V543.2zM394.79 543.2V539.85H396.94V543.2zM397.49 543.2V539.85H399.63V539.85H400.98V543.2zM409.61 543.2V541.97H411.76V543.2zM413.65 543.2V538.26H415.8V539.32H416.35V537.2H418.49V538.26H419.84V539.32H421.19V543.2zM423.08 543.2V539.32H424.43V532.95H426.57V538.79H427.12V536.67H429.27V540.38H429.81V537.2H431.96V538.26H433.31V543.2zM433.86 543.2V536.14H436V537.73H436.55V537.2H437.9V535.08H440.04V538.26H440.59V529.77H442.74V534.55H444.08V543.2zM445.98 543.2V531.89H448.13V538.26H448.67V537.2H450.02V536.67H451.37V531.89H453.51V534.55H454.06V532.42H456.21V535.61H457.55V536.67H458.1V533.48H460.25V543.2zM460.8 543.2V530.83H462.14V526.59H463.49V524.47H465.64V530.3H466.98V530.83H468.33V534.02H468.88V525.53H470.23V524.47H471.57V519.17H472.92V517.58H475.07V523.94H475.61V511.74H477.76V516.52H478.31V512.27H479.65V499.2H481.8V505.55H482.35V476.04H484.49V487.34H485.04V465.08H487.19V478.69H488.54V479.56H489.08V466.67H490.43V465.79H491.78V465.07H493.92V472.32H495.27V483.63H496.62V484.52H497.17V468.96H498.51V462.78H499.86V453.23H502.01V473.91H502.55V471.8H504.7V493.53H505.25V472.51H507.39V499.2H507.94V473.56H509.29V470.02H510.63V466.49H512.78V491.94H514.13V498.31H514.68V489.46H516.82V501.49H517.37V496.71H518.72V490.88H520.86V501.13H521.41V490.35H523.56V512.45H524.11V483.64H526.25V495.3H526.8V478.86H528.95V498.84H530.29V507.86H531.64V510.69H532.99V523.94H533.53V518.64H534.88V518.11H537.03V519.17H537.58V505.73H539.72V510.51H541.07V519.17H542.42V519.87H543.76V525.53H544.31V519.7H546.46V528.18H547V511.92H549.15V523.41H549.7V512.45H551.85V534.55H552.39V525H553.74V518.64H555.09V502.73H557.23V526.06H557.78V521.82H559.93V524.47H560.47V517.05H562.62V521.29H563.17V517.58H564.51V498.83H566.66V501.14H567.21V480.45H569.36V506.26H570.7V515.99H571.25V500.26H573.4V512.45H573.94V488.23H576.09V497.42H576.64V497.25H578.78V515.8H580.13V521.82H580.68V512.81H582.03V512.27H584.17V514.75H585.52V515.99H586.07V508.74H588.21V519.7H589.56V522.35H590.11V513.69H591.46V508.56H593.6V519.7H594.15V515.99H596.3V515.99H596.84V515.46H598.99V519.7H599.54V514.04H601.68V514.39H603.03V522.88H603.58V517.05H605.73V522.35H607.07V527.65H608.42V527.65H609.77V537.2H610.31V523.41H611.66V511.21H613.81V523.94H615.15V534.02H615.7V526.59H617.85V533.48H618.4V532.42H619.74V526.59H621.89V532.95H622.44V531.36H624.58V534.55H625.13V526.59H627.28V534.02H627.82V527.65H629.97V532.42H630.52V530.3H632.66V535.08H633.21V530.3H635.36V534.02H636.71V535.08H637.25V534.55H638.6V526.59H639.95V523.41H641.29V522.88H643.44V530.83H643.99V515.45H646.13V529.24H646.68V523.41H648.83V527.12H649.38V524.47H651.52V528.18H652.87V528.71H654.22V531.89H654.76V531.36H656.11V522.88H658.26V523.41H658.81V517.05H660.95V522.88H662.3V529.24H662.85V526.59H664.99V526.59H665.54V525.53H666.89V519.17H669.03V523.94H670.38V525H670.93V522.35H673.08V527.12H674.42V530.83H674.97V526.59H677.12V527.65H677.66V526.59H679.01V525.53H681.16V528.18H681.7V527.65H683.05V520.76H685.2V524.47H685.75V520.23H687.09V518.11H688.44V516.52H689.79V506.79H691.93V519.7H693.28V527.12H693.83V525H695.17V516.52H696.52V510.86H698.67V511.75H699.22V504.67H701.36V516.52H701.91V508.21H704.06V511.56H704.6V500.6H705.95V493.36H707.3V490.71H708.64V484.88H710.79V496.9H712.14V501.31H712.69V493.35H714.03V469.85H716.18V486.82H716.73V481.16H718.87V483.11H719.42V439.26H721.57V481.16H722.11V471.96H724.26V477.8H724.81V440.33H726.96V468.08H727.5V407.27H728.85V363.44H731V409.74H731.54V382.88H732.89V377.58H734.24V289.55H736.38V336.39H737.73V373.51H739.08V398.96H739.62V393.13H740.97V356.54H742.32V336.92H743.67V329.32H745.01V316.59H747.16V323.13H748.51V351.94H749.85V428.66H750.4V409.76H751.75V367.68H753.1V339.56H755.24V374.57H756.59V406.21H757.14V400.92H759.28V432.2H760.63V443.68H761.18V426.54H763.32V438.21H764.67V543.2z"/>
<path fill="#36ee5a" d="M99.8 543.2V541.97H101.95V543.2zM129.43 543.2V541.97H131.58V543.2zM132.13 543.2V540.91H134.28V541.44H135.62V541.44H136.97V541.97H138.32V543.2zM138.86 543.2V541.97H140.21V540.38H142.36V540.91H143.7V543.2zM144.25 543.2V541.97H145.6V540.91H147.75V541.97H149.09V541.97H150.44V543.2zM150.99 543.2V541.44H152.33V540.38H154.48V541.97H155.03V541.44H157.17V541.44H157.72V540.91H159.87V541.44H160.41V540.38H162.56V543.2zM164.46 543.2V541.97H166.6V543.2zM169.84 543.2V541.97H171.99V543.2zM184.66 543.2V541.97H186.81V543.2zM187.35 543.2V541.97H189.5V543.2zM194.09 543.2V541.44H195.44V540.38H197.58V540.38H198.93V543.2zM200.82 543.2V539.32H202.97V543.2zM203.52 543.2V538.79H205.67V543.2zM206.21 543.2V538.79H207.56V534.02H209.71V534.55H211.05V538.79H212.4V543.2zM212.95 543.2V539.85H214.29V538.79H215.64V531.36H217.79V538.79H218.34V537.2H220.48V538.26H221.03V537.2H222.38V536.14H224.52V537.2H225.87V537.2H227.22V538.79H227.77V538.26H229.91V538.79H230.46V537.73H232.61V538.79H233.95V540.38H234.5V538.79H236.65V543.2zM242.58 543.2V541.97H244.73V543.2zM250.66 543.2V541.44H252.81V543.2zM257.4 543.2V541.97H259.55V541.97H260.89V543.2zM261.44 543.2V541.97H263.59V543.2zM264.13 543.2V541.97H266.28V541.97H267.63V543.2zM269.52 543.2V541.44H271.67V543.2zM273.56 543.2V541.44H275.71V543.2zM277.6 543.2V541.97H279.75V543.2zM280.3 543.2V541.44H282.44V541.97H283.79V543.2zM284.34 543.2V540.91H286.49V543.2zM288.38 543.2V541.97H290.53V543.2zM295.12 543.2V541.44H297.26V543.2zM303.2 543.2V541.97H305.34V543.2zM311.28 543.2V541.97H313.43V543.2zM328.79 543.2V540.38H330.14V539.32H332.28V543.2zM332.83 543.2V540.91H334.98V540.91H336.32V540.91H337.67V543.2zM338.22 543.2V540.91H339.57V540.38H341.71V543.2zM346.3 543.2V539.32H348.45V539.32H349V538.26H350.34V536.67H352.49V543.2zM353.04 543.2V536.67H355.18V538.26H356.53V540.91H357.88V543.2zM359.77 543.2V539.85H361.12V539.32H363.26V543.2zM365.16 543.2V539.32H367.31V540.38H368.65V540.91H369.2V539.85H371.35V543.2zM371.89 543.2V540.38H374.04V540.38H375.39V543.2zM375.94 543.2V535.08H378.08V539.32H378.63V536.67H380.78V543.2zM381.32 543.2V539.85H383.47V539.85H384.02V538.79H386.16V543.2zM386.71 543.2V538.79H388.86V543.2zM389.41 543.2V540.91H390.75V540.38H392.9V543.2zM393.45 543.2V540.91H395.59V543.2zM396.14 543.2V539.32H398.29V540.38H399.63V543.2zM402.88 543.2V539.85H405.02V539.85H405.57V539.32H407.72V540.91H409.06V543.2zM415 543.2V539.85H416.35V537.73H418.49V543.2zM419.04 543.2V540.38H421.19V540.38H421.73V539.32H423.88V543.2zM424.43 543.2V535.08H426.57V539.32H427.12V538.26H429.27V540.91H430.61V543.2zM431.16 543.2V539.32H432.51V537.2H433.86V536.67H436V538.26H436.55V537.73H437.9V537.2H440.04V539.32H440.59V531.89H442.74V536.67H443.29V534.55H445.43V537.73H445.98V534.02H448.13V543.2zM448.67 543.2V537.73H450.02V537.2H451.37V534.55H453.51V536.67H454.06V535.61H456.21V536.14H457.55V537.2H458.1V534.02H460.25V537.2H460.8V531.36H462.14V527.12H463.49V526.59H465.64V531.36H466.98V534.02H468.33V535.08H468.88V527.65H470.23V526.06H471.57V522.88H472.92V520.23H475.07V526.06H475.61V517.58H477.76V520.23H478.31V518.64H479.65V503.61H481.8V512.45H482.35V482.4H484.49V495.12H485.04V472.15H487.19V488.76H488.54V489.46H489.08V483.64H490.43V477.1H491.78V476.56H493.92V486.28H495.27V493.88H496.62V495.3H497.17V475.68H499.31V476.74H499.86V470.03H502.01V485.4H502.55V483.11H504.7V500.96H505.25V485.76H507.39V505.73H507.94V484.7H510.09V485.4H510.63V474.8H512.78V503.78H514.13V508.39H514.68V495.3H516.82V507.68H517.37V503.08H518.72V497.6H520.86V506.79H521.41V501.49H523.56V517.22H524.11V491.07H526.25V503.96H526.8V486.29H528.95V509.8H530.29V512.27H531.64V515.29H532.99V526.06H533.53V522.35H535.68V522.35H537.03V522.88H537.58V511.39H539.72V514.39H541.07V521.82H542.42V523.94H543.76V526.59H544.31V525H546.46V531.89H547V516.87H549.15V526.59H549.7V517.75H551.85V536.14H552.39V526.59H553.74V523.41H555.09V508.39H557.23V528.71H557.78V524.47H559.93V528.18H560.47V520.76H562.62V526.06H563.17V522.35H564.51V506.61H566.66V508.03H567.21V490.53H569.36V514.22H570.7V522.88H571.25V508.92H573.4V516.52H573.94V497.25H576.09V505.55H576.64V503.97H578.78V519.34H580.13V523.94H580.68V517.76H582.03V517.4H584.17V517.93H585.52V520.76H586.07V513.51H588.21V521.29H589.56V526.06H590.11V516.34H591.46V513.15H593.6V522.88H594.15V520.23H596.3V525.53H596.84V522H598.99V525H599.54V520.41H600.88V517.58H603.03V527.12H603.58V523.94H605.73V526.06H607.07V529.77H608.42V530.3H609.77V538.26H610.31V525H611.66V515.98H613.81V527.12H615.15V534.55H615.7V529.24H617.85V534.55H618.4V534.02H619.74V529.77H621.89V536.14H622.44V531.89H624.58V535.61H625.13V528.71H627.28V536.14H627.82V532.95H629.97V533.48H630.52V531.36H632.66V535.61H633.21V532.42H635.36V535.08H636.71V536.67H637.25V535.08H638.6V527.65H639.95V527.12H641.29V524.47H643.44V532.95H643.99V522.35H646.13V532.42H646.68V525.53H648.83V530.3H649.38V527.65H651.52V532.42H652.07V531.36H654.22V534.55H654.76V532.42H656.11V526.59H658.26V528.18H658.81V522.35H660.95V526.59H662.3V531.89H663.65V531.89H664.19V529.77H665.54V526.59H666.89V523.94H669.03V525H670.38V526.06H670.93V525H673.08V529.24H674.42V535.08H674.97V530.83H677.12V531.89H677.66V528.18H679.81V528.18H681.16V531.89H681.7V529.77H683.05V527.12H684.4V526.59H685.75V525H687.09V523.94H688.44V521.82H689.79V511.39H691.93V522.35H693.28V531.36H693.83V529.24H695.17V522.35H696.52V515.1H698.67V517.94H699.22V509.09H701.36V519.17H701.91V514.21H704.06V518.81H704.6V506.79H705.95V502.91H707.3V502.73H708.64V495.48H710.79V504.15H712.14V508.38H712.69V501.66H714.03V479.75H716.18V496.54H716.73V492.65H718.87V494.95H719.42V456.59H721.57V492.47H722.11V482.93H724.26V491.77H724.81V462.07H726.96V479.21H727.5V424.42H728.85V401.8H731V427.95H731.54V417.88H732.89V411.34H734.24V341.87H736.38V368.21H737.73V403.38H739.08V420.35H739.62V417.88H740.97V383.94H742.32V376.87H743.67V366.8H745.01V349.82H747.16V365.55H748.51V373.51H749.85V443.33H750.4V433.26H751.75V412.93H753.1V373.33H755.24V405.5H756.59V438.91H757.14V428.67H759.28V452.35H760.63V458H761.18V440.51H763.32V460.65H764.67V543.2z"/>
<path fill="#7af735" d="M130.78 543.2V541.97H132.93V543.2zM134.82 543.2V541.97H136.97V543.2zM140.21 543.2V541.44H142.36V541.44H143.7V543.2zM155.03 543.2V541.97H157.17V541.97H158.52V541.97H159.87V543.2zM160.41 543.2V541.44H161.76V540.91H163.91V543.2zM168.5 543.2V541.97H170.64V543.2zM177.93 543.2V541.97H179.27V541.44H181.42V543.2zM183.31 543.2V540.91H185.46V543.2zM194.09 543.2V541.97H195.44V541.44H197.58V543.2zM198.13 543.2V540.91H200.28V541.44H200.82V539.85H202.97V541.44H204.32V543.2zM204.87 543.2V538.26H207.01V540.91H207.56V536.67H208.91V536.14H211.05V540.38H212.4V540.91H212.95V540.38H214.29V539.32H215.64V536.14H217.79V539.32H219.14V539.85H219.68V538.79H221.83V538.79H223.18V538.79H223.72V538.26H225.87V539.32H227.22V540.38H228.57V543.2zM229.11 543.2V540.38H231.26V540.38H231.81V539.85H233.95V541.44H235.3V543.2zM235.85 543.2V541.97H237.99V543.2zM238.54 543.2V540.91H240.69V540.91H241.23V540.38H243.38V543.2zM253.36 543.2V541.97H255.51V543.2zM262.79 543.2V541.97H264.93V543.2zM273.56 543.2V541.97H275.71V543.2zM280.3 543.2V541.97H282.44V543.2zM282.99 543.2V541.44H285.14V541.97H286.49V543.2zM291.07 543.2V541.97H293.22V543.2zM304.54 543.2V541.97H305.89V540.38H308.04V541.97H309.38V543.2zM313.97 543.2V541.97H316.12V543.2zM318.01 543.2V541.44H320.16V541.97H321.51V543.2zM322.06 543.2V541.44H323.4V540.91H325.55V540.91H326.9V540.91H327.44V538.79H329.59V543.2zM330.14 543.2V539.85H331.48V539.32H333.63V541.44H334.98V543.2zM336.87 543.2V540.91H339.02V543.2zM342.26 543.2V540.91H344.41V541.97H345.75V543.2zM346.3 543.2V539.85H348.45V539.85H349V539.32H350.34V537.2H352.49V538.26H353.04V537.73H355.18V539.32H356.53V541.44H357.08V539.32H359.22V539.85H360.57V540.38H361.12V539.85H362.47V538.79H364.61V538.79H365.96V539.85H367.31V541.44H368.65V541.44H369.2V540.38H371.35V541.44H371.89V540.91H374.04V543.2zM374.59 543.2V540.38H375.94V536.14H378.08V539.85H378.63V537.73H380.78V541.44H381.32V540.91H382.67V540.38H384.02V539.85H386.16V539.85H387.51V543.2zM388.06 543.2V541.97H390.2V543.2zM390.75 543.2V540.91H392.9V543.2zM394.79 543.2V540.91H396.94V540.91H398.29V540.91H398.83V540.38H400.98V543.2zM401.53 543.2V540.91H403.67V540.91H405.02V543.2zM405.57 543.2V539.85H407.72V541.44H409.06V541.97H410.41V543.2zM410.96 543.2V540.38H412.3V539.85H413.65V538.79H415.8V540.91H416.35V538.26H418.49V538.79H419.84V540.91H421.19V540.91H421.73V540.38H423.88V543.2zM424.43 543.2V537.2H426.57V540.91H427.12V538.79H429.27V543.2zM429.81 543.2V537.73H431.96V539.85H432.51V539.32H433.86V538.26H436V540.38H436.55V538.79H438.7V539.32H440.04V539.85H440.59V536.14H442.74V538.79H443.29V538.26H445.43V538.26H445.98V534.55H448.13V538.79H449.47V538.79H450.82V543.2zM451.37 543.2V535.61H453.51V537.73H454.06V536.14H456.21V537.2H457.55V538.26H458.1V535.61H460.25V538.26H460.8V534.02H462.14V532.42H463.49V528.71H465.64V533.48H466.98V539.32H467.53V537.2H468.88V531.89H470.23V529.24H471.57V528.71H472.92V526.59H475.07V530.3H475.61V524.47H477.76V525H478.31V521.82H479.65V513.16H481.8V521.99H482.35V498.49H484.49V506.08H485.04V494.07H487.19V502.73H488.54V506.26H489.08V503.79H490.43V494.25H492.58V498.3H493.92V502.55H495.27V507.67H496.62V508.03H497.17V487.17H499.31V496.19H499.86V488.23H502.01V501.14H502.55V499.38H504.7V511.39H505.25V503.62H507.39V518.29H507.94V501.14H510.09V502.73H510.63V490.71H512.78V514.39H514.13V514.75H514.68V505.37H516.82V516.87H517.37V511.92H518.72V509.27H520.86V517.57H521.41V510.68H523.56V521.46H524.11V497.96H526.25V512.98H526.8V499.72H528.95V518.29H530.29V521.99H531.64V522.88H532.99V531.36H533.53V526.06H535.68V528.18H536.23V526.59H537.58V519.87H539.72V520.4H541.07V525H542.42V528.01H543.76V530.83H545.11V531.36H546.46V535.61H547V524.29H549.15V528.18H549.7V521.99H551.85V537.2H552.39V530.83H553.74V526.06H555.09V515.99H557.23V530.83H557.78V527.65H559.93V530.3H560.47V524.47H562.62V530.3H563.17V525.53H564.51V515.45H565.86V514.75H567.21V504.49H569.36V520.41H570.7V526.59H571.25V516.52H573.4V523.58H573.94V506.62H576.09V511.74H577.44V513.34H578.78V525.53H580.13V527.12H580.68V523.23H582.83V524.82H583.37V523.76H585.52V523.94H586.07V519.17H588.21V524.47H589.56V528.71H590.11V520.76H591.46V518.81H593.6V527.65H594.95V528.18H596.3V530.83H596.84V525.89H598.99V530.3H599.54V525.71H600.88V524.47H603.03V532.95H603.58V526.06H605.73V528.18H607.07V533.48H608.42V534.55H609.77V543.2zM610.31 543.2V530.83H611.66V523.93H613.81V529.77H615.15V537.2H615.7V531.36H617.85V536.14H619.2V536.67H619.74V533.48H621.89V538.26H622.44V534.55H624.58V536.67H625.13V532.42H627.28V537.2H627.82V536.67H629.17V536.14H630.52V534.02H632.66V538.26H633.21V535.61H635.36V536.67H636.71V539.32H637.25V536.14H638.6V531.36H639.95V529.24H641.29V527.65H643.44V533.48H643.99V525.53H646.13V534.55H646.68V531.36H648.83V533.48H649.38V530.3H651.52V534.55H652.07V534.02H654.22V536.14H655.56V536.14H656.11V530.3H658.26V531.89H658.81V527.65H660.95V529.24H662.3V536.14H662.85V535.08H664.19V532.42H665.54V530.3H666.89V529.77H668.23V527.12H670.38V530.83H670.93V529.77H673.08V532.95H674.42V536.14H675.77V536.14H676.32V532.95H677.66V530.3H679.81V531.36H681.16V536.67H681.7V534.02H683.05V529.24H685.2V529.77H685.75V528.18H687.89V529.24H688.44V525.53H689.79V520.41H691.93V529.24H693.28V532.95H694.63V532.95H695.17V526.59H696.52V522H698.67V522.35H699.22V515.1H701.36V522.35H702.71V523.05H703.26V522.52H704.6V512.27H705.95V511.39H708.1V515.99H708.64V505.03H710.79V510.16H712.14V516.16H712.69V511.56H714.03V492.48H716.18V503.61H717.53V504.14H718.07V503.08H719.42V477.09H721.57V501.84H722.11V490.88H724.26V502.73H724.81V477.1H726.96V491.77H727.5V449.52H728.85V431.32H731V451.11H731.54V442.27H732.89V427.42H734.24V365.56H736.38V424.6H737.73V438.21H739.08V450.4H739.62V440.33H740.97V421.06H742.32V420.53H743.67V399.32H745.01V389.42H747.16V408.5H747.71V407.27H749.85V468.61H750.4V463.14H751.75V435.73H753.1V421.94H755.24V427.77H756.59V464.9H757.14V456.77H759.28V467.9H760.63V472.15H761.18V453.06H763.32V476.92H764.67V543.2z"/>
<path fill="#dbfb2b" d="M132.13 543.2V541.97H134.28V541.97H135.62V543.2zM140.21 543.2V541.97H142.36V541.97H143.7V541.97H145.05V543.2zM145.6 543.2V541.44H147.75V543.2zM150.99 543.2V541.97H153.13V541.97H154.48V543.2zM159.07 543.2V541.97H161.22V541.97H161.76V541.44H163.91V543.2zM171.19 543.2V541.97H173.34V543.2zM183.31 543.2V541.44H185.46V543.2zM188.7 543.2V541.44H190.85V543.2zM195.44 543.2V541.97H196.78V541.44H198.93V541.44H200.28V543.2zM200.82 543.2V541.44H202.97V541.97H203.52V540.38H205.67V541.44H207.01V543.2zM207.56 543.2V538.26H209.71V538.79H211.05V541.97H211.6V541.44H213.75V543.2zM214.29 543.2V539.85H216.44V540.38H217.79V540.91H218.34V540.38H219.68V539.32H221.83V540.91H222.38V539.85H224.52V539.85H225.87V539.85H227.22V541.44H227.77V540.91H229.91V541.44H231.26V543.2zM231.81 543.2V540.38H233.95V543.2zM234.5 543.2V540.91H236.65V543.2zM237.19 543.2V541.97H238.54V541.44H240.69V543.2zM241.23 543.2V541.97H243.38V543.2zM243.93 543.2V541.97H246.08V543.2zM250.66 543.2V541.97H252.81V543.2zM274.91 543.2V541.97H277.06V543.2zM282.99 543.2V541.97H285.14V543.2zM285.69 543.2V541.44H287.83V543.2zM289.73 543.2V541.97H291.87V543.2zM305.89 543.2V540.91H308.04V543.2zM312.63 543.2V541.44H314.77V543.2zM318.01 543.2V541.97H320.16V543.2zM322.06 543.2V541.97H323.4V541.44H325.55V541.44H326.9V541.97H327.44V540.91H329.59V541.97H330.14V540.38H332.28V540.38H333.63V541.97H334.18V541.44H336.32V541.44H337.67V541.97H339.02V541.97H339.57V541.44H340.91V540.91H343.06V541.44H344.41V543.2zM344.95 543.2V540.91H347.1V541.44H347.65V540.38H349.79V540.91H350.34V538.26H352.49V539.32H353.04V538.79H355.18V539.85H356.53V543.2zM357.08 543.2V541.44H358.42V540.91H360.57V540.91H361.12V540.38H363.26V540.38H363.81V539.85H365.96V540.38H367.31V541.97H368.65V541.97H369.2V541.44H371.35V543.2zM371.89 543.2V541.44H373.24V540.91H375.39V541.97H375.94V538.26H378.08V540.91H378.63V539.32H380.78V541.97H381.32V541.44H382.67V540.91H384.02V540.38H386.16V540.38H386.71V539.85H388.86V543.2zM390.75 543.2V541.44H392.1V539.85H394.25V541.44H395.59V541.44H396.94V541.44H398.29V543.2zM398.83 543.2V540.91H400.98V543.2zM401.53 543.2V541.44H403.67V541.97H404.22V540.38H406.37V540.91H407.72V541.97H409.06V543.2zM410.96 543.2V541.44H412.3V540.91H413.65V540.38H415.8V541.44H416.35V538.79H418.49V540.38H419.84V541.44H421.19V541.44H421.73V540.91H423.08V540.38H424.43V538.26H426.57V541.44H427.12V540.38H429.27V541.44H429.81V539.32H431.96V540.91H433.31V541.44H433.86V540.38H436V540.91H436.55V540.38H438.7V541.44H439.24V540.38H440.59V538.79H442.74V539.32H444.08V540.91H444.63V538.79H445.98V537.73H448.13V539.85H448.67V539.32H450.82V540.38H451.37V538.26H453.51V539.32H454.06V538.79H456.21V539.32H456.75V538.79H458.1V537.73H460.25V539.32H460.8V535.61H462.14V534.55H463.49V532.95H465.64V536.67H466.98V540.91H467.53V537.73H468.88V534.55H470.23V531.36H472.37V532.95H472.92V529.24H475.07V536.14H475.61V527.65H477.76V530.3H478.31V526.59H479.65V525H481.8V529.77H482.35V515.45H484.49V515.8H485.04V509.27H487.19V517.22H488.54V519.87H489.08V514.04H491.23V516.7H491.78V510.33H493.92V516.87H495.27V523.93H495.82V519.34H497.17V505.02H499.31V509.8H499.86V507.86H502.01V512.63H503.35V514.93H504.7V521.82H505.25V510.69H507.39V526.24H507.94V517.05H509.29V516.34H510.63V503.96H512.78V525.35H513.33V522.35H514.68V518.1H516.82V528.18H517.37V520.58H519.52V521.29H520.86V526.94H521.41V520.58H523.56V528.53H524.11V512.45H526.25V522.35H526.8V509.09H528.95V525.71H529.49V525.18H531.64V527.13H532.99V536.67H533.53V532.42H534.88V531.36H537.03V531.89H537.58V524.11H539.72V528.18H541.07V528.18H542.42V532.25H543.76V535.61H545.11V535.61H546.46V537.73H547V530.3H549.15V535.61H549.7V526.59H551.85V539.85H552.39V536.67H553.74V532.42H555.09V523.94H557.23V534.55H557.78V532.42H559.93V532.42H560.47V528.18H562.62V534.02H563.17V528.18H564.51V523.23H565.86V520.05H567.21V513.86H569.36V525.89H570.7V531.36H571.25V521.29H573.4V529.06H573.94V518.46H576.09V519.7H577.44V521.47H578.78V528.36H580.13V530.3H580.68V529.07H582.83V529.59H583.37V527.65H585.52V531.36H586.07V524.29H588.21V530.3H589.56V535.61H590.11V525H592.25V526.24H593.6V529.77H594.95V531.36H596.3V534.02H596.84V531.89H598.99V534.02H599.54V530.48H601.68V531.36H603.03V535.08H603.58V531.36H605.73V531.89H607.07V535.08H608.42V543.2zM608.97 543.2V540.38H610.31V534.55H611.66V528H613.81V532.42H615.15V539.32H615.7V535.61H617.85V538.26H619.2V539.85H619.74V534.55H621.89V540.38H622.44V536.67H624.58V537.73H625.13V536.67H627.28V538.79H627.82V538.26H629.97V539.32H630.52V535.61H632.66V538.79H633.21V537.73H635.36V538.26H636.71V540.91H638.05V540.91H638.6V534.02H639.95V532.95H641.29V531.36H643.44V534.55H643.99V528.71H646.13V536.14H646.68V535.08H648.83V537.73H649.38V534.02H651.52V536.67H652.07V536.14H654.22V536.67H655.56V538.79H656.11V535.61H657.46V535.08H658.81V532.42H660.95V534.55H662.3V537.73H662.85V537.2H664.99V537.2H665.54V535.08H666.89V534.55H668.23V530.83H670.38V532.95H671.73V534.55H672.28V533.48H674.42V537.2H675.77V537.2H676.32V535.61H678.46V536.14H679.01V535.08H681.16V538.26H681.7V537.73H683.05V532.95H685.2V532.95H685.75V530.3H687.89V535.08H688.44V531.36H689.79V528.54H691.93V532.95H693.28V536.67H694.63V536.67H695.17V531.36H696.52V528.89H698.67V529.25H699.22V522.52H701.36V526.06H702.71V528.71H703.26V528.53H704.6V524.82H705.95V517.4H708.1V521.99H708.64V515.28H710.79V521.47H712.14V527.83H712.69V519.69H714.03V511.39H715.38V511.39H717.53V515.28H718.87V518.28H719.42V495.65H721.57V513.15H722.11V503.08H724.26V510.33H724.81V500.08H726.96V500.78H727.5V471.79H728.85V465.43H731V477.09H731.54V471.08H732.89V459.42H734.24V417.17H736.38V454.83H737.73V468.26H739.08V472.85H739.62V460.3H740.97V449.34H743.12V452.35H743.67V442.98H745.01V431.14H747.16V452.87H747.71V447.58H749.85V481.7H751.2V484.52H751.75V457.83H753.1V449.87H755.24V463.66H756.59V484.87H757.94V494.07H758.48V486.99H760.63V499.55H761.18V474.27H763.32V494.77H764.67V543.2z"/>
<path fill="#fff22d" d="M161.76 543.2V541.97H163.91V543.2zM188.7 543.2V541.97H190.85V543.2zM196.78 543.2V541.97H198.93V541.97H200.28V541.97H201.62V543.2zM203.52 543.2V541.44H205.67V543.2zM208.91 543.2V541.97H211.05V543.2zM212.95 543.2V541.44H215.09V543.2zM222.38 543.2V541.44H224.52V541.44H225.87V541.97H227.22V541.97H228.57V543.2zM231.81 543.2V541.44H233.95V543.2zM305.89 543.2V541.97H308.04V543.2zM334.18 543.2V541.97H336.32V541.97H337.67V543.2zM340.91 543.2V541.97H343.06V541.97H344.41V543.2zM350.34 543.2V540.91H352.49V543.2zM354.38 543.2V541.44H356.53V543.2zM371.89 543.2V541.97H374.04V543.2zM377.28 543.2V541.97H379.43V543.2zM384.02 543.2V541.97H386.16V543.2zM389.41 543.2V541.97H391.55V543.2zM394.79 543.2V541.97H396.94V543.2zM397.49 543.2V541.97H399.63V541.97H400.18V541.44H402.33V541.97H403.67V543.2zM404.22 543.2V541.97H406.37V543.2zM412.3 543.2V541.97H414.45V543.2zM416.35 543.2V541.44H418.49V541.97H419.84V543.2zM423.08 543.2V541.97H425.23V541.97H426.57V541.97H427.92V541.97H429.27V543.2zM431.16 543.2V541.97H433.31V543.2zM433.86 543.2V541.44H436V541.44H437.35V543.2zM437.9 543.2V541.97H440.04V543.2zM440.59 543.2V540.38H442.74V541.44H444.08V541.97H444.63V541.44H446.78V541.44H448.13V541.97H449.47V543.2zM450.02 543.2V541.44H452.17V541.44H453.51V543.2zM454.06 543.2V541.44H455.41V540.38H457.55V540.91H458.9V540.91H460.25V541.97H461.6V543.2zM462.14 543.2V539.85H464.29V540.91H465.64V541.97H466.98V543.2zM467.53 543.2V540.38H469.68V540.91H470.23V538.26H472.37V541.97H472.92V537.73H475.07V540.38H475.61V538.79H477.76V539.32H479.11V540.38H479.65V535.96H481.8V539.32H482.35V535.96H483.69V534.19H485.04V527.48H487.19V534.55H488.54V535.61H489.08V534.72H490.43V532.78H491.78V532.07H493.92V534.37H495.27V538.61H495.82V533.83H497.96V534.72H499.31V535.43H499.86V531.36H502.01V532.42H503.35V533.13H504.7V537.02H505.25V533.67H507.39V538.61H507.94V532.07H510.09V536.67H510.63V531.36H512.78V536.31H513.33V535.96H514.68V534.37H516.82V537.2H517.37V534.19H519.52V535.08H520.86V537.37H521.41V535.78H523.56V538.43H524.11V533.84H526.25V537.2H526.8V532.42H528.95V536.85H529.49V535.78H531.64V536.85H532.99V540.38H533.53V537.73H535.68V539.85H536.23V539.14H537.58V536.67H539.72V538.26H540.27V535.61H542.42V540.2H542.96V538.26H545.11V540.38H546.46V543.2zM547 543.2V538.26H549.15V539.32H549.7V537.73H551.85V541.97H553.19V543.2zM553.74 543.2V540.91H555.09V536.67H557.23V541.97H557.78V539.32H559.93V540.38H560.47V537.73H562.62V538.26H563.97V539.85H564.51V535.78H566.66V537.73H567.21V536.84H569.36V538.61H570.7V540.38H571.25V534.19H573.4V540.02H573.94V533.84H576.09V537.55H576.64V534.9H578.78V538.08H580.13V539.32H580.68V538.26H582.03V537.37H584.17V538.08H585.52V538.79H586.07V537.91H588.21V539.32H589.56V540.91H590.11V537.02H592.25V537.9H593.6V538.26H594.15V537.73H596.3V540.91H596.84V539.67H598.19V539.32H599.54V538.61H601.68V540.91H602.23V540.38H603.58V537.2H605.73V540.38H606.27V539.85H607.62V538.26H609.77V541.97H610.31V541.44H611.66V536.84H613.81V539.85H615.15V541.44H615.7V540.91H617.85V541.97H618.4V540.91H619.74V539.85H621.89V540.91H622.44V539.32H624.58V543.2zM625.13 543.2V541.44H626.48V539.85H628.62V540.38H629.97V543.2zM630.52 543.2V540.38H632.66V541.44H634.01V541.44H635.36V541.44H636.71V543.2zM638.6 543.2V539.32H639.95V538.79H641.29V538.26H643.44V539.85H643.99V537.2H646.13V540.38H647.48V540.38H648.83V541.97H649.38V537.2H651.52V540.38H652.87V540.91H654.22V540.91H655.56V541.44H656.91V541.44H657.46V539.32H658.81V538.26H660.95V538.79H662.3V539.85H663.65V540.91H664.19V540.38H666.34V541.44H666.89V540.38H668.23V538.26H670.38V538.26H671.73V540.38H673.08V541.44H674.42V541.97H674.97V540.38H676.32V539.85H678.46V540.91H679.01V538.79H681.16V541.44H681.7V540.38H683.05V539.32H684.4V538.79H685.75V537.73H687.89V539.85H688.44V539.32H689.79V536.14H691.93V539.32H693.28V541.44H693.83V540.91H695.17V539.85H696.52V538.08H697.87V537.91H699.22V536.49H701.36V539.85H701.91V537.73H703.26V536.49H705.4V537.37H705.95V537.02H707.3V535.25H708.64V534.9H710.79V537.55H712.14V538.08H712.69V537.55H714.03V535.96H715.38V531.18H716.73V530.83H718.87V532.6H719.42V531.71H721.57V532.07H722.11V531.71H724.26V532.95H724.81V523.23H726.96V528.18H727.5V520.93H728.85V520.05H731V525.18H731.54V522.35H732.89V513.33H735.04V513.33H735.58V505.91H737.73V519.7H739.08V522.7H739.62V522.35H740.97V520.76H742.32V519.34H743.67V516.7H745.01V512.45H747.16V522.7H747.71V519.52H749.85V523.23H751.2V530.3H751.75V518.99H753.1V509.62H755.24V523.94H755.79V520.76H757.94V528.71H759.28V530.83H760.63V531.54H761.18V528.89H762.52V524.11H764.67V543.2z"/>
<path fill="#fdba21" d="M206.21 543.2V541.97H208.36V543.2zM212.95 543.2V541.97H215.09V543.2zM215.64 543.2V541.97H217.79V543.2zM222.38 543.2V541.97H224.52V541.97H225.87V543.2zM234.5 543.2V541.97H236.65V543.2zM239.89 543.2V541.97H242.03V543.2zM350.34 543.2V541.97H352.49V543.2zM354.38 543.2V541.97H356.53V543.2zM358.42 543.2V541.97H360.57V543.2zM363.81 543.2V541.97H365.96V543.2zM382.67 543.2V541.97H384.82V543.2zM410.96 543.2V541.97H413.1V543.2zM419.04 543.2V541.97H421.19V543.2zM440.59 543.2V541.97H442.74V541.97H444.08V543.2zM448.67 543.2V541.97H450.82V541.97H452.17V541.97H453.51V543.2zM455.41 543.2V541.97H457.55V541.97H458.9V541.97H460.25V543.2zM460.8 543.2V541.97H462.94V541.97H464.29V541.97H465.64V543.2zM466.18 543.2V541.97H468.33V543.2zM475.61 543.2V541.97H477.76V543.2zM478.31 543.2V541.97H479.65V541.79H481.8V542H482.35V541.97H483.69V541.44H485.04V541.26H487.19V543.2zM487.74 543.2V541.79H489.08V541.61H490.43V540.73H492.58V541.44H493.92V541.61H495.27V541.61H496.62V542H497.17V541.97H498.51V540.73H500.66V541.26H501.21V540.73H503.35V541.26H504.7V541.97H505.25V541.79H507.39V541.79H507.94V541.08H510.09V541.26H510.63V540.2H512.78V541.61H513.33V541.26H514.68V540.55H516.82V541.79H517.37V541.61H519.52V541.61H520.86V541.97H521.41V541.44H523.56V541.61H524.11V540.91H526.25V541.79H526.8V541.08H528.15V540.73H530.29V541.44H530.84V541.26H532.99V543.2zM533.53 543.2V541.97H535.68V541.97H536.23V541.79H537.58V540.91H539.72V541.97H540.27V541.44H542.42V542H543.76V543.2zM544.31 543.2V541.97H546.46V543.2zM547 543.2V540.91H549.15V543.2zM549.7 543.2V541.97H551.85V543.2zM555.09 543.2V541.08H557.23V543.2zM557.78 543.2V541.97H559.93V541.97H560.47V540.91H562.62V541.44H563.97V543.2zM564.51 543.2V541.08H566.66V541.61H568.01V541.61H569.36V541.97H570.7V543.2zM571.25 543.2V541.97H572.6V541.61H574.74V541.97H576.09V541.97H576.64V541.26H578.78V542H579.33V541.97H581.48V542H582.03V540.91H584.17V541.79H585.52V543.2zM586.07 543.2V542H587.41V541.97H589.56V541.97H590.91V541.97H592.25V541.97H592.8V541.44H594.95V543.2zM596.84 543.2V541.97H598.99V543.2zM599.54 543.2V541.26H601.68V541.97H603.03V541.97H604.38V541.97H605.73V541.97H607.07V543.2zM607.62 543.2V541.44H609.77V543.2zM611.66 543.2V542H613.01V541.97H615.15V543.2zM618.4 543.2V541.97H620.54V541.97H621.89V543.2zM622.44 543.2V541.97H624.58V541.97H625.93V541.97H627.28V541.97H628.62V543.2zM629.17 543.2V541.97H630.52V540.91H632.66V543.2zM633.21 543.2V541.97H635.36V543.2zM637.25 543.2V541.97H639.4V543.2zM641.29 543.2V541.44H643.44V543.2zM643.99 543.2V541.97H646.13V543.2zM649.38 543.2V541.44H651.52V541.44H652.87V541.97H654.22V543.2zM656.11 543.2V541.97H658.26V543.2zM658.81 543.2V540.91H660.95V543.2zM661.5 543.2V541.97H663.65V543.2zM665.54 543.2V541.97H667.69V543.2zM668.23 543.2V541.97H669.58V541.44H671.73V541.97H673.08V541.97H674.42V543.2zM674.97 543.2V541.97H677.12V543.2zM679.01 543.2V541.44H681.16V543.2zM683.05 543.2V541.44H685.2V541.97H685.75V541.44H687.89V543.2zM688.44 543.2V541.97H689.79V541.61H691.93V541.97H693.28V543.2zM695.17 543.2V541.97H697.32V541.97H697.87V541.79H699.22V541.61H701.36V543.2zM701.91 543.2V542H704.06V542H704.6V541.97H706.75V541.97H707.3V541.08H709.44V541.97H710.79V542H711.34V541.61H713.49V542H714.03V541.97H715.38V541.08H716.73V540.73H718.87V541.61H719.42V540.55H721.57V540.55H722.91V541.61H723.46V541.26H724.81V540.2H726.96V541.08H727.5V538.79H729.65V539.85H731V539.85H732.34V540.38H733.69V540.55H734.24V540.38H735.58V538.96H737.73V540.2H738.28V540.02H740.42V540.73H740.97V540.38H742.32V539.49H743.67V537.02H745.81V539.32H747.16V541.08H747.71V540.38H749.85V540.38H750.4V540.02H751.75V538.96H753.89V539.14H755.24V540.38H756.59V540.38H757.14V539.67H759.28V542H759.83V541.61H761.18V541.26H763.32V541.97H764.67V543.2z"/>
<path fill="url(#bgu)" d="M159.47 537.2h1.35v0.45h-1.35zM160.81 535.08h1.35v0.45h-1.35zM197.18 534.55h1.35v0.45h-1.35zM199.88 534.02h1.35v0.9h-1.35zM206.61 533.48h1.35v0.45h-1.35zM209.31 522.35h1.35v0.9h-1.35zM214.69 530.83h1.35v0.45h-1.35zM218.74 523.41h1.35v0.9h-1.35zM222.78 522.35h1.35v0.9h-1.35zM224.12 525h1.35v0.9h-1.35zM225.47 520.76h1.35v0.9h-1.35zM226.82 530.83h1.35v0.45h-1.35zM230.86 526.59h1.35v0.9h-1.35zM234.9 531.36h1.35v0.45h-1.35zM248.37 539.32h1.35v0.45h-1.35zM257.8 536.14h1.35v0.45h-1.35zM330.54 537.73h1.35v0.45h-1.35zM331.88 537.2h1.35v0.45h-1.35zM341.31 539.32h1.35v0.45h-1.35zM344.01 539.85h1.35v0.45h-1.35zM356.13 538.79h1.35v0.45h-1.35zM358.82 538.26h1.35v0.45h-1.35zM369.6 536.67h1.35v0.9h-1.35zM376.33 530.83h1.35v0.9h-1.35zM377.68 535.61h1.35v0.9h-1.35zM380.38 537.73h1.35v0.9h-1.35zM385.76 537.2h1.35v0.45h-1.35zM388.46 539.32h1.35v0.9h-1.35zM392.5 535.08h1.35v0.9h-1.35zM404.62 537.2h1.35v0.45h-1.35zM415.4 535.61h1.35v0.9h-1.35zM420.79 537.2h1.35v0.9h-1.35zM427.52 534.55h1.35v0.45h-1.35zM428.87 535.61h1.35v0.45h-1.35zM431.56 536.14h1.35v0.9h-1.35zM432.91 534.55h1.35v0.45h-1.35zM435.6 533.48h1.35v0.9h-1.35zM436.95 532.95h1.35v0.9h-1.35zM438.3 525h1.35v0.9h-1.35zM440.99 523.94h1.35v0.9h-1.35zM442.34 529.77h1.35v0.9h-1.35zM443.69 530.83h1.35v0.9h-1.35zM447.73 533.48h1.35v0.9h-1.35zM451.77 528.71h1.35v0.9h-1.35zM453.11 527.65h1.35v0.9h-1.35zM457.15 534.02h1.35v0.45h-1.35zM458.5 528.18h1.35v0.9h-1.35zM459.85 531.89h1.35v0.9h-1.35zM461.2 522.88h1.35v0.9h-1.35zM462.54 515.45h1.35v0.9h-1.35zM463.89 510.68h1.35v0.9h-1.35zM465.24 520.76h1.35v0.9h-1.35zM466.58 515.99h1.35v0.9h-1.35zM467.93 528.18h1.35v0.9h-1.35zM469.28 515.45h1.35v0.9h-1.35zM470.62 514.39h1.35v0.9h-1.35zM471.97 505.91h1.35v0.9h-1.35zM473.32 499.55h1.35v0.9h-1.35zM474.67 505.91h1.35v0.9h-1.35zM476.01 491.59h1.35v0.9h-1.35zM477.36 504.85h1.35v0.9h-1.35zM478.71 502.73h1.35v0.9h-1.35zM480.05 481.52h1.35v0.9h-1.35zM481.4 481.51h1.35v0.9h-1.35zM482.75 443.34h1.35v0.9h-1.35zM484.09 461.36h1.35v0.9h-1.35zM485.44 436.45h1.35v0.9h-1.35zM486.79 454.47h1.35v0.9h-1.35zM488.14 438.03h1.35v0.9h-1.35zM489.48 417.35h1.35v0.9h-1.35zM490.83 417.89h1.35v0.9h-1.35zM492.18 420.53h1.35v0.9h-1.35zM493.52 431.66h1.35v0.9h-1.35zM494.87 442.27h1.35v0.9h-1.35zM496.22 438.03h1.35v0.9h-1.35zM497.56 418.93h1.35v0.9h-1.35zM498.91 400.92h1.35v0.9h-1.35zM500.26 381.29h1.35v0.9h-1.35zM501.61 418.41h1.35v0.9h-1.35zM502.95 421.6h1.35v0.9h-1.35zM504.3 437.5h1.35v0.9h-1.35zM505.65 432.73h1.35v0.9h-1.35zM506.99 458.19h1.35v0.9h-1.35zM508.34 406.75h1.35v0.9h-1.35zM509.69 410.99h1.35v0.9h-1.35zM511.03 408.86h1.35v0.9h-1.35zM512.38 440.68h1.35v0.9h-1.35zM513.73 462.42h1.35v0.9h-1.35zM515.08 435.9h1.35v0.9h-1.35zM516.42 459.77h1.35v0.9h-1.35zM517.77 435.9h1.35v0.9h-1.35zM519.12 433.25h1.35v0.9h-1.35zM520.46 447.57h1.35v0.9h-1.35zM521.81 445.46h1.35v0.9h-1.35zM523.16 478.33h1.35v0.9h-1.35zM524.5 438.57h1.35v0.9h-1.35zM525.85 438.03h1.35v0.9h-1.35zM527.2 416.82h1.35v0.9h-1.35zM528.55 442.8h1.35v0.9h-1.35zM529.89 444.92h1.35v0.9h-1.35zM531.24 458.19h1.35v0.9h-1.35zM532.59 487.35h1.35v0.9h-1.35zM533.93 487.35h1.35v0.9h-1.35zM535.28 492.65h1.35v0.9h-1.35zM536.63 468.79h1.35v0.9h-1.35zM537.98 469.84h1.35v0.9h-1.35zM539.32 475.16h1.35v0.9h-1.35zM540.67 481.52h1.35v0.9h-1.35zM542.02 489.47h1.35v0.9h-1.35zM543.36 487.88h1.35v0.9h-1.35zM544.71 484.7h1.35v0.9h-1.35zM546.06 479.92h1.35v0.9h-1.35zM547.4 471.45h1.35v0.9h-1.35zM548.75 461.36h1.35v0.9h-1.35zM550.1 488.41h1.35v0.9h-1.35zM551.45 501.67h1.35v0.9h-1.35zM552.79 485.23h1.35v0.9h-1.35zM554.14 484.17h1.35v0.9h-1.35zM555.49 462.95h1.35v0.9h-1.35zM556.83 493.18h1.35v0.9h-1.35zM558.18 482.05h1.35v0.9h-1.35zM559.53 505.38h1.35v0.9h-1.35zM560.87 495.3h1.35v0.9h-1.35zM562.22 500.61h1.35v0.9h-1.35zM563.57 484.17h1.35v0.9h-1.35zM564.91 458.7h1.35v0.9h-1.35zM566.26 449.16h1.35v0.9h-1.35zM567.61 428.49h1.35v0.9h-1.35zM568.96 444.92h1.35v0.9h-1.35zM570.3 473.56h1.35v0.9h-1.35zM571.65 468.26h1.35v0.9h-1.35zM573 487.35h1.35v0.9h-1.35zM574.34 443.33h1.35v0.9h-1.35zM575.69 439.09h1.35v0.9h-1.35zM577.04 444.4h1.35v0.9h-1.35zM578.38 480.45h1.35v0.9h-1.35zM579.73 492.12h1.35v0.9h-1.35zM581.08 484.17h1.35v0.9h-1.35zM582.43 459.24h1.35v0.9h-1.35zM583.77 477.27h1.35v0.9h-1.35zM585.12 483.64h1.35v0.9h-1.35zM586.47 473.03h1.35v0.9h-1.35zM587.81 495.83h1.35v0.9h-1.35zM589.16 497.42h1.35v0.9h-1.35zM590.51 490.01h1.35v0.9h-1.35zM591.86 466.13h1.35v0.9h-1.35zM593.2 482.05h1.35v0.9h-1.35zM594.55 486.82h1.35v0.9h-1.35zM595.9 489.47h1.35v0.9h-1.35zM597.24 492.13h1.35v0.9h-1.35zM598.59 494.77h1.35v0.9h-1.35zM599.94 489.48h1.35v0.9h-1.35zM601.28 485.23h1.35v0.9h-1.35zM602.63 491.06h1.35v0.9h-1.35zM603.98 495.3h1.35v0.9h-1.35zM605.33 503.26h1.35v0.9h-1.35zM606.67 508.03h1.35v0.9h-1.35zM608.02 518.11h1.35v0.9h-1.35zM609.37 521.82h1.35v0.9h-1.35zM610.71 510.15h1.35v0.9h-1.35zM612.06 495.3h1.35v0.9h-1.35zM613.41 504.32h1.35v0.9h-1.35zM614.75 522.88h1.35v0.9h-1.35zM616.1 516.52h1.35v0.9h-1.35zM617.45 521.82h1.35v0.9h-1.35zM618.8 518.11h1.35v0.9h-1.35zM620.14 510.15h1.35v0.9h-1.35zM621.49 527.12h1.35v0.9h-1.35zM622.84 521.29h1.35v0.9h-1.35zM624.18 526.06h1.35v0.9h-1.35zM625.53 511.21h1.35v0.9h-1.35zM626.88 527.12h1.35v0.9h-1.35zM628.22 509.09h1.35v0.9h-1.35zM629.57 521.29h1.35v0.9h-1.35zM630.92 521.29h1.35v0.9h-1.35zM632.26 521.29h1.35v0.9h-1.35zM633.61 521.29h1.35v0.9h-1.35zM634.96 529.77h1.35v0.9h-1.35zM636.31 528.71h1.35v0.9h-1.35zM637.65 525h1.35v0.9h-1.35zM639 511.21h1.35v0.9h-1.35zM640.35 509.09h1.35v0.9h-1.35zM641.69 510.15h1.35v0.9h-1.35zM643.04 518.11h1.35v0.9h-1.35zM644.39 500.08h1.35v0.9h-1.35zM645.74 511.21h1.35v0.9h-1.35zM647.08 510.15h1.35v0.9h-1.35zM648.43 507.5h1.35v0.9h-1.35zM649.78 506.44h1.35v0.9h-1.35zM651.12 514.92h1.35v0.9h-1.35zM652.47 513.33h1.35v0.9h-1.35zM653.82 522.88h1.35v0.9h-1.35zM655.16 514.92h1.35v0.9h-1.35zM656.51 506.44h1.35v0.9h-1.35zM657.86 504.85h1.35v0.9h-1.35zM659.21 493.18h1.35v0.9h-1.35zM660.55 503.26h1.35v0.9h-1.35zM661.9 513.86h1.35v0.9h-1.35zM663.25 512.27h1.35v0.9h-1.35zM664.59 514.92h1.35v0.9h-1.35zM665.94 513.86h1.35v0.9h-1.35zM667.29 501.14h1.35v0.9h-1.35zM668.63 504.32h1.35v0.9h-1.35zM669.98 508.03h1.35v0.9h-1.35zM671.33 504.85h1.35v0.9h-1.35zM672.68 506.44h1.35v0.9h-1.35zM674.02 514.92h1.35v0.9h-1.35zM675.37 504.32h1.35v0.9h-1.35zM676.72 511.21h1.35v0.9h-1.35zM678.06 514.92h1.35v0.9h-1.35zM679.41 509.09h1.35v0.9h-1.35zM680.76 514.92h1.35v0.9h-1.35zM682.1 514.92h1.35v0.9h-1.35zM683.45 506.44h1.35v0.9h-1.35zM684.8 508.03h1.35v0.9h-1.35zM686.14 504.85h1.35v0.9h-1.35zM687.49 502.2h1.35v0.9h-1.35zM688.84 500.08h1.35v0.9h-1.35zM690.19 484.17h1.35v0.9h-1.35zM691.53 508.03h1.35v0.9h-1.35zM692.88 509.09h1.35v0.9h-1.35zM694.23 512.27h1.35v0.9h-1.35zM695.57 503.26h1.35v0.9h-1.35zM696.92 491.07h1.35v0.9h-1.35zM698.27 495.31h1.35v0.9h-1.35zM699.62 486.29h1.35v0.9h-1.35zM700.96 496.89h1.35v0.9h-1.35zM702.31 495.31h1.35v0.9h-1.35zM703.66 487.87h1.35v0.9h-1.35zM705 478.33h1.35v0.9h-1.35zM706.35 461.91h1.35v0.9h-1.35zM707.7 459.24h1.35v0.9h-1.35zM709.04 460.3h1.35v0.9h-1.35zM710.39 469.85h1.35v0.9h-1.35zM711.74 478.33h1.35v0.9h-1.35zM713.09 462.94h1.35v0.9h-1.35zM714.43 427.96h1.35v0.9h-1.35zM715.78 420h1.35v0.9h-1.35zM717.13 445.98h1.35v0.9h-1.35zM718.47 447.05h1.35v0.9h-1.35zM719.82 372.27h1.35v0.9h-1.35zM721.17 449.7h1.35v0.9h-1.35zM722.51 421.06h1.35v0.9h-1.35zM723.86 446.51h1.35v0.9h-1.35zM725.21 372.81h1.35v0.9h-1.35zM726.56 410.97h1.35v0.9h-1.35zM727.9 328.79h1.35v0.9h-1.35zM729.25 274.17h1.35v0.9h-1.35zM730.6 325.6h1.35v0.9h-1.35zM731.94 319.24h1.35v0.9h-1.35zM733.29 261.97h1.35v0.9h-1.35zM734.64 164.93h1.35v0.9h-1.35zM735.98 228.03h1.35v0.9h-1.35zM737.33 242.35h1.35v0.9h-1.35zM738.68 282.12h1.35v0.9h-1.35zM740.02 345.23h1.35v0.9h-1.35zM741.37 262.5h1.35v0.9h-1.35zM742.72 222.73h1.35v0.9h-1.35zM744.07 181.37h1.35v0.9h-1.35zM745.41 156.97h1.35v0.9h-1.35zM746.76 196.21h1.35v0.9h-1.35zM748.11 221.66h1.35v0.9h-1.35zM749.45 348.41h1.35v0.9h-1.35zM750.8 329.86h1.35v0.9h-1.35zM752.15 250.3h1.35v0.9h-1.35zM753.5 240.22h1.35v0.9h-1.35zM754.84 309.69h1.35v0.9h-1.35zM756.19 320.29h1.35v0.9h-1.35zM757.54 353.19h1.35v0.9h-1.35zM758.88 394.55h1.35v0.9h-1.35zM760.23 408.33h1.35v0.9h-1.35zM761.58 377.05h1.35v0.9h-1.35zM762.92 385.53h1.35v0.9h-1.35zM496.22 452.35h1.35v0.45h-1.35zM497.56 436.43h1.35v0.45h-1.35zM498.91 418.42h1.35v0.45h-1.35zM500.26 401.97h1.35v0.45h-1.35zM502.95 432.2h1.35v0.45h-1.35zM504.3 457.12h1.35v0.45h-1.35zM509.69 424.24h1.35v0.9h-1.35zM512.38 450.23h1.35v0.45h-1.35zM520.46 474.09h1.35v0.45h-1.35zM567.61 441.74h1.35v0.45h-1.35zM645.74 518.11h1.35v0.45h-1.35zM675.37 512.27h1.35v0.9h-1.35zM690.19 492.12h1.35v0.45h-1.35zM725.21 400.38h1.35v0.45h-1.35zM729.25 321.36h1.35v0.45h-1.35zM746.76 272.04h1.35v0.45h-1.35zM199.88 536.14h1.35v0.45h-1.35zM207.96 526.06h1.35v0.9h-1.35zM213.35 531.89h1.35v0.45h-1.35zM214.69 532.42h1.35v0.45h-1.35zM217.39 531.36h1.35v0.9h-1.35zM218.74 527.65h1.35v0.9h-1.35zM221.43 526.06h1.35v0.9h-1.35zM222.78 524.47h1.35v0.9h-1.35zM225.47 522.88h1.35v0.9h-1.35zM226.82 532.42h1.35v0.45h-1.35zM228.17 527.65h1.35v0.9h-1.35zM229.51 529.24h1.35v0.9h-1.35zM230.86 529.24h1.35v0.9h-1.35zM255.11 538.79h1.35v0.45h-1.35zM256.45 538.26h1.35v0.45h-1.35zM292.82 540.91h1.35v0.45h-1.35zM307.64 536.67h1.35v0.9h-1.35zM459.85 535.61h1.35v0.45h-1.35zM473.32 506.97h1.35v0.9h-1.35zM480.05 488.77h1.35v0.45h-1.35zM481.4 493.35h1.35v0.45h-1.35zM482.75 456.07h1.35v0.45h-1.35zM484.09 471.26h1.35v0.9h-1.35zM485.44 446.7h1.35v0.45h-1.35zM486.79 458.01h1.35v0.9h-1.35zM488.14 455.88h1.35v0.9h-1.35zM489.48 431.49h1.35v0.9h-1.35zM490.83 435.22h1.35v0.9h-1.35zM492.18 434.31h1.35v0.9h-1.35zM493.52 447.39h1.35v0.9h-1.35zM494.87 461.89h1.35v0.9h-1.35zM496.22 453.76h1.35v0.9h-1.35zM497.56 437.67h1.35v0.9h-1.35zM498.91 420.18h1.35v0.9h-1.35zM500.26 403.92h1.35v0.9h-1.35zM501.61 436.44h1.35v0.9h-1.35zM502.95 433.62h1.35v0.9h-1.35zM504.3 458.53h1.35v0.9h-1.35zM505.65 444.76h1.35v0.9h-1.35zM506.99 470.03h1.35v0.9h-1.35zM508.34 420.54h1.35v0.9h-1.35zM509.69 426.54h1.35v0.9h-1.35zM511.03 423.88h1.35v0.9h-1.35zM512.38 451.46h1.35v0.9h-1.35zM513.73 474.09h1.35v0.9h-1.35zM515.08 450.4h1.35v0.9h-1.35zM516.42 476.21h1.35v0.9h-1.35zM517.77 455.88h1.35v0.9h-1.35zM519.12 458h1.35v0.9h-1.35zM520.46 475.5h1.35v0.9h-1.35zM521.81 459.24h1.35v0.9h-1.35zM523.16 487.7h1.35v0.9h-1.35zM524.5 452.53h1.35v0.9h-1.35zM525.85 460.83h1.35v0.9h-1.35zM527.2 437.15h1.35v0.9h-1.35zM528.55 469.85h1.35v0.9h-1.35zM529.89 480.1h1.35v0.9h-1.35zM531.24 483.82h1.35v0.9h-1.35zM532.59 505.91h1.35v0.45h-1.35zM533.93 505.91h1.35v0.9h-1.35zM535.28 501.67h1.35v0.9h-1.35zM536.63 499.72h1.35v0.9h-1.35zM537.98 478.86h1.35v0.9h-1.35zM539.32 483.64h1.35v0.9h-1.35zM540.67 504.32h1.35v0.9h-1.35zM542.02 499.72h1.35v0.9h-1.35zM543.36 508.03h1.35v0.9h-1.35zM544.71 503.26h1.35v0.9h-1.35zM547.4 495.84h1.35v0.9h-1.35zM548.75 503.79h1.35v0.9h-1.35zM550.1 495.83h1.35v0.9h-1.35zM552.79 512.8h1.35v0.9h-1.35zM554.14 502.2h1.35v0.9h-1.35zM555.49 478.16h1.35v0.9h-1.35zM556.83 517.58h1.35v0.9h-1.35zM558.18 508.03h1.35v0.45h-1.35zM559.53 515.45h1.35v0.45h-1.35zM560.87 502.2h1.35v0.9h-1.35zM562.22 512.8h1.35v0.9h-1.35zM563.57 500.61h1.35v0.9h-1.35zM564.91 473.38h1.35v0.9h-1.35zM566.26 474.44h1.35v0.9h-1.35zM567.61 443.33h1.35v0.9h-1.35zM568.96 483.28h1.35v0.9h-1.35zM570.3 501.67h1.35v0.9h-1.35zM571.65 477.98h1.35v0.9h-1.35zM573 492.3h1.35v0.9h-1.35zM574.34 453.94h1.35v0.9h-1.35zM575.69 470.73h1.35v0.9h-1.35zM577.04 460.84h1.35v0.9h-1.35zM578.38 497.6h1.35v0.9h-1.35zM579.73 511.74h1.35v0.9h-1.35zM581.08 495.48h1.35v0.9h-1.35zM582.43 487.7h1.35v0.9h-1.35zM583.77 499.72h1.35v0.9h-1.35zM585.12 502.73h1.35v0.9h-1.35zM586.47 491.42h1.35v0.9h-1.35zM587.81 511.74h1.35v0.9h-1.35zM589.16 513.86h1.35v0.9h-1.35zM590.51 498.67h1.35v0.9h-1.35zM591.86 491.41h1.35v0.9h-1.35zM593.2 505.38h1.35v0.9h-1.35zM594.55 504.32h1.35v0.9h-1.35zM595.9 507.5h1.35v0.9h-1.35zM597.24 499.55h1.35v0.9h-1.35zM599.94 493.89h1.35v0.9h-1.35zM601.28 504.85h1.35v0.9h-1.35zM602.63 508.56h1.35v0.9h-1.35zM605.33 512.27h1.35v0.45h-1.35zM606.67 515.45h1.35v0.9h-1.35zM608.02 520.23h1.35v0.45h-1.35zM612.06 498.84h1.35v0.45h-1.35zM613.41 509.62h1.35v0.9h-1.35zM614.75 528.18h1.35v0.45h-1.35zM618.8 522.35h1.35v0.9h-1.35zM620.14 517.05h1.35v0.9h-1.35zM625.53 521.82h1.35v0.45h-1.35zM628.22 516.52h1.35v0.9h-1.35zM639 518.64h1.35v0.9h-1.35zM644.39 505.91h1.35v0.9h-1.35zM645.74 519.7h1.35v0.45h-1.35zM647.08 518.64h1.35v0.45h-1.35zM649.78 515.99h1.35v0.45h-1.35zM651.12 520.23h1.35v0.9h-1.35zM652.47 521.29h1.35v0.9h-1.35zM655.16 525h1.35v0.9h-1.35zM657.86 513.86h1.35v0.9h-1.35zM659.21 502.2h1.35v0.9h-1.35zM660.55 511.21h1.35v0.9h-1.35zM663.25 516.52h1.35v0.45h-1.35zM665.94 519.7h1.35v0.9h-1.35zM667.29 511.21h1.35v0.9h-1.35zM668.63 513.33h1.35v0.9h-1.35zM671.33 509.09h1.35v0.9h-1.35zM672.68 515.99h1.35v0.9h-1.35zM675.37 514.39h1.35v0.9h-1.35zM678.06 519.7h1.35v0.45h-1.35zM683.45 514.92h1.35v0.9h-1.35zM688.84 508.56h1.35v0.45h-1.35zM690.19 493.36h1.35v0.9h-1.35zM691.53 514.92h1.35v0.45h-1.35zM695.57 506.97h1.35v0.45h-1.35zM698.27 500.61h1.35v0.45h-1.35zM702.31 498.14h1.35v0.45h-1.35zM703.66 499.37h1.35v0.9h-1.35zM706.35 478.34h1.35v0.45h-1.35zM707.7 476.38h1.35v0.9h-1.35zM709.04 469.32h1.35v0.45h-1.35zM710.39 476.92h1.35v0.45h-1.35zM713.09 479.03h1.35v0.45h-1.35zM714.43 454.12h1.35v0.45h-1.35zM715.78 460.3h1.35v0.9h-1.35zM717.13 463.84h1.35v0.9h-1.35zM718.47 460.3h1.35v0.9h-1.35zM719.82 404.79h1.35v0.9h-1.35zM721.17 461.54h1.35v0.9h-1.35zM722.51 450.93h1.35v0.45h-1.35zM723.86 459.06h1.35v0.45h-1.35zM725.21 401.62h1.35v0.9h-1.35zM726.56 439.44h1.35v0.9h-1.35zM727.9 364.14h1.35v0.9h-1.35zM729.25 322.78h1.35v0.9h-1.35zM730.6 370.5h1.35v0.9h-1.35zM731.94 341.87h1.35v0.9h-1.35zM733.29 345.75h1.35v0.45h-1.35zM734.64 222.38h1.35v0.9h-1.35zM735.98 290.96h1.35v0.9h-1.35zM737.33 331.44h1.35v0.9h-1.35zM738.68 356.89h1.35v0.9h-1.35zM740.02 360.08h1.35v0.9h-1.35zM741.37 307.93h1.35v0.9h-1.35zM742.72 286.02h1.35v0.9h-1.35zM744.07 266.75h1.35v0.9h-1.35zM745.41 251h1.35v0.9h-1.35zM746.76 273.63h1.35v0.9h-1.35zM748.11 290.96h1.35v0.9h-1.35zM749.45 402.68h1.35v0.9h-1.35zM750.8 368.22h1.35v0.9h-1.35zM752.15 311.46h1.35v0.9h-1.35zM753.5 289.19h1.35v0.9h-1.35zM754.84 347.87h1.35v0.9h-1.35zM756.19 359.89h1.35v0.9h-1.35zM757.54 362.2h1.35v0.9h-1.35zM758.88 408.16h1.35v0.45h-1.35zM760.23 425.3h1.35v0.9h-1.35zM761.58 406.22h1.35v0.45h-1.35zM762.92 414.16h1.35v0.45h-1.35zM205.27 532.42h1.35v0.45h-1.35zM207.96 528.18h1.35v0.9h-1.35zM209.31 525h1.35v0.45h-1.35zM210.65 530.3h1.35v0.45h-1.35zM212 534.55h1.35v0.9h-1.35zM213.35 533.48h1.35v0.9h-1.35zM217.39 533.48h1.35v0.45h-1.35zM221.43 529.24h1.35v0.9h-1.35zM224.12 528.18h1.35v0.9h-1.35zM225.47 526.06h1.35v0.9h-1.35zM228.17 529.77h1.35v0.9h-1.35zM229.51 531.89h1.35v0.9h-1.35zM232.21 532.42h1.35v0.45h-1.35zM233.55 536.14h1.35v0.9h-1.35zM234.9 533.48h1.35v0.45h-1.35zM256.45 539.85h1.35v0.45h-1.35zM267.23 540.91h1.35v0.45h-1.35zM304.94 537.73h1.35v0.9h-1.35zM428.87 537.73h1.35v0.45h-1.35zM440.99 526.59h1.35v0.9h-1.35zM466.58 525.53h1.35v0.45h-1.35zM473.32 509.62h1.35v0.9h-1.35zM480.05 490.54h1.35v0.45h-1.35zM481.4 494.94h1.35v0.9h-1.35zM482.75 457.3h1.35v0.9h-1.35zM484.09 473.56h1.35v0.45h-1.35zM485.44 448.29h1.35v0.9h-1.35zM486.79 461.19h1.35v0.9h-1.35zM488.14 458.18h1.35v0.9h-1.35zM489.48 440.68h1.35v0.9h-1.35zM490.83 442.28h1.35v0.9h-1.35zM492.18 440.68h1.35v0.9h-1.35zM493.52 452.69h1.35v0.9h-1.35zM494.87 467.37h1.35v0.9h-1.35zM496.22 461.36h1.35v0.9h-1.35zM497.56 442.8h1.35v0.9h-1.35zM498.91 431.67h1.35v0.9h-1.35zM500.26 413.46h1.35v0.9h-1.35zM501.61 445.63h1.35v0.9h-1.35zM502.95 441.57h1.35v0.9h-1.35zM504.3 467.9h1.35v0.9h-1.35zM505.65 452.88h1.35v0.9h-1.35zM506.99 476.75h1.35v0.9h-1.35zM508.34 429.2h1.35v0.9h-1.35zM509.69 436.26h1.35v0.9h-1.35zM511.03 433.25h1.35v0.9h-1.35zM512.38 459.42h1.35v0.9h-1.35zM513.73 477.8h1.35v0.9h-1.35zM515.08 457.12h1.35v0.9h-1.35zM516.42 486.64h1.35v0.9h-1.35zM517.77 464.72h1.35v0.9h-1.35zM519.12 463.66h1.35v0.9h-1.35zM520.46 481.34h1.35v0.9h-1.35zM521.81 462.6h1.35v0.9h-1.35zM523.16 494.07h1.35v0.9h-1.35zM524.5 460.31h1.35v0.9h-1.35zM525.85 467.02h1.35v0.9h-1.35zM527.2 444.04h1.35v0.9h-1.35zM528.55 477.98h1.35v0.9h-1.35zM529.89 485.76h1.35v0.9h-1.35zM531.24 489.3h1.35v0.9h-1.35zM532.59 507.5h1.35v0.9h-1.35zM533.93 508.03h1.35v0.9h-1.35zM535.28 504.32h1.35v0.9h-1.35zM536.63 503.96h1.35v0.9h-1.35zM537.98 486.81h1.35v0.9h-1.35zM539.32 487.35h1.35v0.9h-1.35zM540.67 506.44h1.35v0.9h-1.35zM542.02 503.79h1.35v0.9h-1.35zM543.36 511.21h1.35v0.9h-1.35zM544.71 506.97h1.35v0.9h-1.35zM546.06 517.05h1.35v0.9h-1.35zM547.4 499.55h1.35v0.9h-1.35zM548.75 509.09h1.35v0.9h-1.35zM550.1 499.19h1.35v0.9h-1.35zM551.45 529.77h1.35v0.9h-1.35zM554.14 506.44h1.35v0.9h-1.35zM555.49 483.46h1.35v0.9h-1.35zM556.83 520.23h1.35v0.45h-1.35zM558.18 509.62h1.35v0.9h-1.35zM559.53 517.05h1.35v0.9h-1.35zM560.87 504.85h1.35v0.9h-1.35zM562.22 515.45h1.35v0.45h-1.35zM563.57 506.44h1.35v0.9h-1.35zM564.91 476.73h1.35v0.9h-1.35zM566.26 480.45h1.35v0.9h-1.35zM567.61 448.99h1.35v0.9h-1.35zM568.96 486.82h1.35v0.9h-1.35zM570.3 504.85h1.35v0.9h-1.35zM571.65 483.11h1.35v0.9h-1.35zM573 496.54h1.35v0.9h-1.35zM574.34 460.83h1.35v0.9h-1.35zM575.69 474.45h1.35v0.9h-1.35zM577.04 467.91h1.35v0.9h-1.35zM578.38 500.61h1.35v0.9h-1.35zM579.73 513.86h1.35v0.9h-1.35zM581.08 499.2h1.35v0.9h-1.35zM582.43 492.12h1.35v0.9h-1.35zM583.77 502.9h1.35v0.9h-1.35zM585.12 504.85h1.35v0.9h-1.35zM586.47 494.77h1.35v0.9h-1.35zM587.81 513.86h1.35v0.45h-1.35zM589.16 516.52h1.35v0.45h-1.35zM590.51 501.32h1.35v0.9h-1.35zM591.86 495.12h1.35v0.9h-1.35zM593.2 509.09h1.35v0.9h-1.35zM594.55 506.97h1.35v0.9h-1.35zM597.24 503.62h1.35v0.9h-1.35zM598.59 505.38h1.35v0.9h-1.35zM599.94 496.72h1.35v0.9h-1.35zM602.63 511.74h1.35v0.9h-1.35zM603.98 505.38h1.35v0.9h-1.35zM605.33 513.86h1.35v0.45h-1.35zM606.67 518.11h1.35v0.9h-1.35zM608.02 521.82h1.35v0.45h-1.35zM609.37 531.36h1.35v0.9h-1.35zM610.71 515.99h1.35v0.45h-1.35zM612.06 500.43h1.35v0.9h-1.35zM613.41 513.33h1.35v0.9h-1.35zM614.75 529.77h1.35v0.45h-1.35zM616.1 521.82h1.35v0.45h-1.35zM618.8 525h1.35v0.9h-1.35zM620.14 519.17h1.35v0.9h-1.35zM621.49 529.24h1.35v0.9h-1.35zM622.84 526.06h1.35v0.9h-1.35zM629.57 526.06h1.35v0.45h-1.35zM632.26 528.71h1.35v0.9h-1.35zM639 520.76h1.35v0.9h-1.35zM641.69 515.99h1.35v0.9h-1.35zM643.04 522.35h1.35v0.9h-1.35zM644.39 508.56h1.35v0.9h-1.35zM645.74 521.29h1.35v0.9h-1.35zM647.08 520.23h1.35v0.9h-1.35zM648.43 518.11h1.35v0.9h-1.35zM649.78 517.58h1.35v0.45h-1.35zM651.12 523.41h1.35v0.9h-1.35zM652.47 523.41h1.35v0.45h-1.35zM655.16 527.12h1.35v0.45h-1.35zM656.51 514.92h1.35v0.9h-1.35zM660.55 513.86h1.35v0.9h-1.35zM663.25 518.11h1.35v0.9h-1.35zM667.29 514.39h1.35v0.9h-1.35zM668.63 517.58h1.35v0.9h-1.35zM669.98 514.92h1.35v0.9h-1.35zM672.68 518.11h1.35v0.9h-1.35zM675.37 518.11h1.35v0.9h-1.35zM676.72 519.7h1.35v0.9h-1.35zM679.41 515.99h1.35v0.9h-1.35zM680.76 523.41h1.35v0.45h-1.35zM682.1 518.11h1.35v0.9h-1.35zM684.8 513.33h1.35v0.9h-1.35zM686.14 512.27h1.35v0.9h-1.35zM687.49 512.8h1.35v0.9h-1.35zM690.19 496.36h1.35v0.9h-1.35zM695.57 508.56h1.35v0.9h-1.35zM696.92 500.08h1.35v0.9h-1.35zM698.27 502.03h1.35v0.45h-1.35zM699.62 494.78h1.35v0.9h-1.35zM700.96 506.44h1.35v0.9h-1.35zM702.31 499.37h1.35v0.9h-1.35zM703.66 501.66h1.35v0.9h-1.35zM705 489.99h1.35v0.9h-1.35zM706.35 479.58h1.35v0.9h-1.35zM707.7 478.86h1.35v0.9h-1.35zM709.04 470.73h1.35v0.9h-1.35zM710.39 478.87h1.35v0.9h-1.35zM711.74 489.11h1.35v0.9h-1.35zM713.09 480.44h1.35v0.9h-1.35zM714.43 455.54h1.35v0.9h-1.35zM715.78 462.42h1.35v0.9h-1.35zM717.13 465.96h1.35v0.9h-1.35zM718.47 462.95h1.35v0.9h-1.35zM719.82 410.98h1.35v0.9h-1.35zM721.17 463.84h1.35v0.9h-1.35zM722.51 452.34h1.35v0.9h-1.35zM723.86 460.65h1.35v0.9h-1.35zM725.21 405.33h1.35v0.9h-1.35zM726.56 442.97h1.35v0.9h-1.35zM727.9 369.45h1.35v0.9h-1.35zM729.25 325.96h1.35v0.9h-1.35zM730.6 373.15h1.35v0.9h-1.35zM731.94 345.93h1.35v0.9h-1.35zM733.29 347.17h1.35v0.9h-1.35zM734.64 226.27h1.35v0.9h-1.35zM735.98 293.96h1.35v0.9h-1.35zM737.33 335.33h1.35v0.9h-1.35zM738.68 360.08h1.35v0.9h-1.35zM740.02 362.2h1.35v0.9h-1.35zM741.37 312.7h1.35v0.9h-1.35zM742.72 288.31h1.35v0.9h-1.35zM744.07 271.52h1.35v0.9h-1.35zM745.41 255.25h1.35v0.9h-1.35zM746.76 276.99h1.35v0.9h-1.35zM748.11 296.62h1.35v0.9h-1.35zM749.45 404.97h1.35v0.9h-1.35zM750.8 371.93h1.35v0.9h-1.35zM752.15 315.53h1.35v0.9h-1.35zM753.5 293.07h1.35v0.9h-1.35zM754.84 351.41h1.35v0.9h-1.35zM756.19 364.31h1.35v0.9h-1.35zM757.54 365.39h1.35v0.9h-1.35zM758.88 409.39h1.35v0.9h-1.35zM760.23 428.48h1.35v0.9h-1.35zM761.58 407.98h1.35v0.9h-1.35zM762.92 415.75h1.35v0.9h-1.35zM133.88 538.26h1.35v0.45h-1.35zM140.61 535.08h1.35v0.45h-1.35zM141.96 536.67h1.35v0.45h-1.35zM197.18 537.2h1.35v0.45h-1.35zM203.92 535.08h1.35v0.45h-1.35zM209.31 526.59h1.35v0.9h-1.35zM210.65 531.89h1.35v0.45h-1.35zM214.69 534.02h1.35v0.9h-1.35zM216.04 521.82h1.35v0.9h-1.35zM218.74 530.83h1.35v0.9h-1.35zM220.08 530.83h1.35v0.9h-1.35zM221.43 531.89h1.35v0.9h-1.35zM222.78 529.24h1.35v0.9h-1.35zM225.47 532.95h1.35v0.45h-1.35zM228.17 532.95h1.35v0.9h-1.35zM229.51 534.02h1.35v0.9h-1.35zM230.86 532.42h1.35v0.9h-1.35zM232.21 534.02h1.35v0.45h-1.35zM234.9 535.08h1.35v0.45h-1.35zM257.8 538.79h1.35v0.9h-1.35zM260.49 540.38h1.35v0.45h-1.35zM261.84 539.85h1.35v0.45h-1.35zM284.74 539.32h1.35v0.45h-1.35zM304.94 539.85h1.35v0.45h-1.35zM307.64 538.79h1.35v0.45h-1.35zM353.44 533.48h1.35v0.45h-1.35zM449.07 534.55h1.35v0.45h-1.35zM465.24 528.18h1.35v0.9h-1.35zM469.28 519.17h1.35v0.9h-1.35zM471.97 515.45h1.35v0.9h-1.35zM474.67 514.39h1.35v0.9h-1.35zM476.01 503.79h1.35v0.9h-1.35zM477.36 510.68h1.35v0.9h-1.35zM478.71 508.56h1.35v0.9h-1.35zM480.05 492.3h1.35v0.9h-1.35zM481.4 498.48h1.35v0.9h-1.35zM482.75 460.66h1.35v0.9h-1.35zM484.09 475.32h1.35v0.9h-1.35zM485.44 451.64h1.35v0.9h-1.35zM486.79 467.02h1.35v0.9h-1.35zM488.14 465.6h1.35v0.9h-1.35zM489.48 446.87h1.35v0.9h-1.35zM490.83 447.23h1.35v0.9h-1.35zM492.18 448.1h1.35v0.9h-1.35zM493.52 457.82h1.35v0.9h-1.35zM494.87 471.43h1.35v0.9h-1.35zM496.22 470.91h1.35v0.9h-1.35zM497.56 451.99h1.35v0.9h-1.35zM498.91 439.8h1.35v0.9h-1.35zM500.26 426.19h1.35v0.9h-1.35zM501.61 454.82h1.35v0.9h-1.35zM502.95 452.35h1.35v0.9h-1.35zM504.3 477.62h1.35v0.9h-1.35zM505.65 458.72h1.35v0.9h-1.35zM506.99 486.12h1.35v0.9h-1.35zM508.34 444.04h1.35v0.9h-1.35zM509.69 448.81h1.35v0.9h-1.35zM511.03 444.92h1.35v0.9h-1.35zM512.38 468.61h1.35v0.9h-1.35zM513.73 487.7h1.35v0.9h-1.35zM515.08 468.43h1.35v0.9h-1.35zM516.42 493.71h1.35v0.9h-1.35zM517.77 474.97h1.35v0.9h-1.35zM519.12 477.27h1.35v0.9h-1.35zM520.46 487.34h1.35v0.9h-1.35zM521.81 475.5h1.35v0.9h-1.35zM523.16 501.14h1.35v0.9h-1.35zM524.5 471.98h1.35v0.9h-1.35zM525.85 479.04h1.35v0.9h-1.35zM527.2 451.11h1.35v0.9h-1.35zM528.55 488.41h1.35v0.9h-1.35zM529.89 496.36h1.35v0.9h-1.35zM531.24 500.61h1.35v0.9h-1.35zM532.59 514.92h1.35v0.9h-1.35zM533.93 511.74h1.35v0.9h-1.35zM535.28 507.5h1.35v0.9h-1.35zM536.63 509.09h1.35v0.9h-1.35zM537.98 493.71h1.35v0.9h-1.35zM539.32 498.49h1.35v0.9h-1.35zM540.67 512.27h1.35v0.9h-1.35zM542.02 509.8h1.35v0.9h-1.35zM543.36 514.92h1.35v0.9h-1.35zM544.71 512.27h1.35v0.9h-1.35zM546.06 520.23h1.35v0.9h-1.35zM547.4 503.79h1.35v0.9h-1.35zM548.75 514.92h1.35v0.9h-1.35zM550.1 503.61h1.35v0.9h-1.35zM551.45 531.89h1.35v0.45h-1.35zM552.79 518.11h1.35v0.9h-1.35zM554.14 511.74h1.35v0.9h-1.35zM555.49 491.42h1.35v0.9h-1.35zM556.83 521.82h1.35v0.9h-1.35zM558.18 511.74h1.35v0.9h-1.35zM559.53 519.7h1.35v0.45h-1.35zM560.87 508.03h1.35v0.9h-1.35zM562.22 517.05h1.35v0.9h-1.35zM563.57 509.62h1.35v0.9h-1.35zM564.91 483.1h1.35v0.9h-1.35zM566.26 487.7h1.35v0.9h-1.35zM567.61 456.06h1.35v0.9h-1.35zM568.96 494.07h1.35v0.9h-1.35zM570.3 506.97h1.35v0.9h-1.35zM571.65 486.47h1.35v0.9h-1.35zM573 499.55h1.35v0.9h-1.35zM574.34 468.43h1.35v0.9h-1.35zM575.69 478.86h1.35v0.9h-1.35zM577.04 475.86h1.35v0.9h-1.35zM578.38 506.08h1.35v0.9h-1.35zM579.73 515.99h1.35v0.9h-1.35zM581.08 505.2h1.35v0.9h-1.35zM582.43 499.37h1.35v0.9h-1.35zM583.77 506.97h1.35v0.9h-1.35zM585.12 509.62h1.35v0.9h-1.35zM586.47 499.9h1.35v0.9h-1.35zM589.16 518.11h1.35v0.9h-1.35zM590.51 505.56h1.35v0.9h-1.35zM591.86 499.72h1.35v0.9h-1.35zM593.2 512.27h1.35v0.9h-1.35zM594.55 510.15h1.35v0.9h-1.35zM597.24 507.51h1.35v0.9h-1.35zM598.59 507.5h1.35v0.9h-1.35zM599.94 502.2h1.35v0.9h-1.35zM601.28 509.09h1.35v0.9h-1.35zM602.63 514.92h1.35v0.9h-1.35zM603.98 508.56h1.35v0.9h-1.35zM605.33 515.45h1.35v0.9h-1.35zM606.67 520.23h1.35v0.9h-1.35zM608.02 523.41h1.35v0.9h-1.35zM609.37 533.48h1.35v0.9h-1.35zM610.71 517.58h1.35v0.45h-1.35zM612.06 503.25h1.35v0.9h-1.35zM613.41 515.45h1.35v0.9h-1.35zM616.1 523.41h1.35v0.9h-1.35zM617.45 527.65h1.35v0.9h-1.35zM620.14 521.82h1.35v0.9h-1.35zM621.49 531.36h1.35v0.45h-1.35zM624.18 530.83h1.35v0.45h-1.35zM625.53 524.47h1.35v0.45h-1.35zM628.22 520.23h1.35v0.9h-1.35zM629.57 527.65h1.35v0.9h-1.35zM633.61 528.18h1.35v0.45h-1.35zM639 522.88h1.35v0.45h-1.35zM640.35 518.11h1.35v0.9h-1.35zM643.04 525.53h1.35v0.9h-1.35zM644.39 512.27h1.35v0.9h-1.35zM645.74 524.47h1.35v0.9h-1.35zM648.43 520.76h1.35v0.9h-1.35zM649.78 519.17h1.35v0.9h-1.35zM653.82 528.18h1.35v0.9h-1.35zM656.51 518.64h1.35v0.9h-1.35zM657.86 517.58h1.35v0.9h-1.35zM659.21 508.56h1.35v0.9h-1.35zM660.55 516.52h1.35v0.9h-1.35zM661.9 523.94h1.35v0.9h-1.35zM663.25 521.82h1.35v0.9h-1.35zM664.59 522.35h1.35v0.45h-1.35zM667.29 517.05h1.35v0.9h-1.35zM668.63 521.29h1.35v0.9h-1.35zM669.98 517.58h1.35v0.9h-1.35zM671.33 514.92h1.35v0.9h-1.35zM672.68 521.29h1.35v0.45h-1.35zM674.02 526.59h1.35v0.9h-1.35zM675.37 521.29h1.35v0.9h-1.35zM676.72 523.94h1.35v0.9h-1.35zM678.06 522.35h1.35v0.9h-1.35zM679.41 518.11h1.35v0.9h-1.35zM682.1 522.35h1.35v0.9h-1.35zM683.45 518.11h1.35v0.45h-1.35zM684.8 518.11h1.35v0.9h-1.35zM686.14 514.92h1.35v0.9h-1.35zM688.84 510.68h1.35v0.9h-1.35zM690.19 499.55h1.35v0.9h-1.35zM692.88 520.76h1.35v0.9h-1.35zM694.23 515.99h1.35v0.9h-1.35zM695.57 513.33h1.35v0.45h-1.35zM696.92 502.56h1.35v0.9h-1.35zM698.27 503.97h1.35v0.9h-1.35zM699.62 497.07h1.35v0.9h-1.35zM700.96 508.56h1.35v0.45h-1.35zM702.31 502.55h1.35v0.45h-1.35zM703.66 505.2h1.35v0.9h-1.35zM705 492.82h1.35v0.9h-1.35zM706.35 481.88h1.35v0.9h-1.35zM707.7 482.04h1.35v0.9h-1.35zM709.04 473.39h1.35v0.9h-1.35zM710.39 483.64h1.35v0.9h-1.35zM711.74 492.83h1.35v0.9h-1.35zM713.09 483.98h1.35v0.9h-1.35zM714.43 458.89h1.35v0.9h-1.35zM715.78 471.79h1.35v0.9h-1.35zM717.13 472.85h1.35v0.9h-1.35zM718.47 468.79h1.35v0.9h-1.35zM719.82 421.23h1.35v0.9h-1.35zM721.17 469.49h1.35v0.9h-1.35zM722.51 459.06h1.35v0.9h-1.35zM723.86 464.19h1.35v0.9h-1.35zM725.21 415.94h1.35v0.9h-1.35zM726.56 449.16h1.35v0.9h-1.35zM727.9 377.4h1.35v0.9h-1.35zM729.25 338.51h1.35v0.9h-1.35zM730.6 378.1h1.35v0.9h-1.35zM731.94 354.77h1.35v0.9h-1.35zM733.29 354.59h1.35v0.9h-1.35zM734.64 244.47h1.35v0.9h-1.35zM735.98 300.15h1.35v0.9h-1.35zM737.33 343.46h1.35v0.9h-1.35zM738.68 367.86h1.35v0.9h-1.35zM740.02 366.62h1.35v0.9h-1.35zM741.37 318.89h1.35v0.9h-1.35zM742.72 298.21h1.35v0.9h-1.35zM744.07 280.01h1.35v0.9h-1.35zM745.41 264.26h1.35v0.9h-1.35zM746.76 287.07h1.35v0.9h-1.35zM748.11 311.64h1.35v0.9h-1.35zM749.45 410.1h1.35v0.9h-1.35zM750.8 379.71h1.35v0.9h-1.35zM752.15 324.19h1.35v0.9h-1.35zM753.5 302.97h1.35v0.9h-1.35zM754.84 357.6h1.35v0.9h-1.35zM756.19 373.68h1.35v0.9h-1.35zM757.54 377.58h1.35v0.9h-1.35zM758.88 412.4h1.35v0.9h-1.35zM760.23 430.96h1.35v0.9h-1.35zM761.58 414.17h1.35v0.9h-1.35zM762.92 419.82h1.35v0.9h-1.35zM137.92 540.91h1.35v0.45h-1.35zM140.61 536.67h1.35v0.9h-1.35zM141.96 538.26h1.35v0.45h-1.35zM160.81 537.73h1.35v0.45h-1.35zM199.88 538.26h1.35v0.9h-1.35zM203.92 536.67h1.35v0.45h-1.35zM205.27 534.55h1.35v0.45h-1.35zM209.31 531.36h1.35v0.9h-1.35zM210.65 533.48h1.35v0.9h-1.35zM212 537.73h1.35v0.45h-1.35zM213.35 536.67h1.35v0.45h-1.35zM216.04 526.06h1.35v0.9h-1.35zM217.39 536.14h1.35v0.45h-1.35zM218.74 532.95h1.35v0.9h-1.35zM221.43 534.02h1.35v0.9h-1.35zM222.78 532.42h1.35v0.9h-1.35zM224.12 531.89h1.35v0.9h-1.35zM225.47 534.55h1.35v0.45h-1.35zM226.82 535.61h1.35v0.45h-1.35zM229.51 536.14h1.35v0.45h-1.35zM232.21 535.61h1.35v0.45h-1.35zM234.9 536.67h1.35v0.9h-1.35zM237.59 539.32h1.35v0.45h-1.35zM241.63 538.26h1.35v0.45h-1.35zM307.64 540.38h1.35v0.45h-1.35zM443.69 532.95h1.35v0.45h-1.35zM445.03 536.14h1.35v0.45h-1.35zM446.38 530.3h1.35v0.45h-1.35zM458.5 531.89h1.35v0.45h-1.35zM462.54 525h1.35v0.45h-1.35zM466.58 527.12h1.35v0.9h-1.35zM469.28 522.35h1.35v0.9h-1.35zM470.62 522.88h1.35v0.45h-1.35zM471.97 517.58h1.35v0.45h-1.35zM473.32 512.8h1.35v0.9h-1.35zM474.67 519.7h1.35v0.9h-1.35zM476.01 506.97h1.35v0.9h-1.35zM477.36 512.8h1.35v0.9h-1.35zM478.71 510.68h1.35v0.45h-1.35zM480.05 494.78h1.35v0.9h-1.35zM481.4 501.49h1.35v0.9h-1.35zM482.75 467.91h1.35v0.9h-1.35zM484.09 481.69h1.35v0.9h-1.35zM485.44 457.3h1.35v0.9h-1.35zM486.79 472.15h1.35v0.9h-1.35zM488.14 472.5h1.35v0.9h-1.35zM489.48 456.42h1.35v0.9h-1.35zM490.83 454.48h1.35v0.9h-1.35zM492.18 456.06h1.35v0.9h-1.35zM493.52 465.6h1.35v0.9h-1.35zM494.87 475.85h1.35v0.9h-1.35zM496.22 476.74h1.35v0.9h-1.35zM497.56 460.83h1.35v0.9h-1.35zM498.91 453.76h1.35v0.9h-1.35zM500.26 440.15h1.35v0.9h-1.35zM501.61 464.37h1.35v0.9h-1.35zM502.95 464.55h1.35v0.9h-1.35zM504.3 486.81h1.35v0.9h-1.35zM505.65 467.73h1.35v0.9h-1.35zM506.99 493.72h1.35v0.9h-1.35zM508.34 462.25h1.35v0.9h-1.35zM509.69 459.59h1.35v0.9h-1.35zM511.03 457.65h1.35v0.9h-1.35zM512.38 480.1h1.35v0.9h-1.35zM513.73 493.71h1.35v0.9h-1.35zM515.08 476.74h1.35v0.9h-1.35zM516.42 497.95h1.35v0.9h-1.35zM517.77 490.18h1.35v0.9h-1.35zM519.12 484.87h1.35v0.9h-1.35zM520.46 495.83h1.35v0.9h-1.35zM521.81 483.46h1.35v0.9h-1.35zM523.16 506.97h1.35v0.9h-1.35zM524.5 478.16h1.35v0.9h-1.35zM525.85 487.88h1.35v0.9h-1.35zM527.2 470.55h1.35v0.9h-1.35zM528.55 496.36h1.35v0.9h-1.35zM529.89 502.73h1.35v0.9h-1.35zM531.24 505.91h1.35v0.9h-1.35zM532.59 521.29h1.35v0.9h-1.35zM533.93 514.92h1.35v0.9h-1.35zM535.28 511.21h1.35v0.9h-1.35zM536.63 514.92h1.35v0.9h-1.35zM537.98 500.07h1.35v0.9h-1.35zM539.32 505.03h1.35v0.9h-1.35zM540.67 515.45h1.35v0.9h-1.35zM542.02 515.27h1.35v0.9h-1.35zM543.36 521.82h1.35v0.9h-1.35zM544.71 514.39h1.35v0.9h-1.35zM546.06 525h1.35v0.9h-1.35zM547.4 508.74h1.35v0.9h-1.35zM548.75 520.23h1.35v0.9h-1.35zM550.1 507.32h1.35v0.9h-1.35zM552.79 520.23h1.35v0.9h-1.35zM554.14 515.99h1.35v0.9h-1.35zM555.49 496.36h1.35v0.9h-1.35zM556.83 523.94h1.35v0.9h-1.35zM558.18 514.39h1.35v0.9h-1.35zM559.53 521.29h1.35v0.9h-1.35zM560.87 511.74h1.35v0.9h-1.35zM563.57 512.8h1.35v0.9h-1.35zM564.91 489.81h1.35v0.9h-1.35zM566.26 492.3h1.35v0.9h-1.35zM567.61 465.61h1.35v0.9h-1.35zM568.96 498.49h1.35v0.9h-1.35zM570.3 509.62h1.35v0.9h-1.35zM571.65 493.54h1.35v0.9h-1.35zM573 504.49h1.35v0.9h-1.35zM574.34 475.15h1.35v0.9h-1.35zM575.69 486.99h1.35v0.9h-1.35zM577.04 482.76h1.35v0.9h-1.35zM578.38 510.5h1.35v0.9h-1.35zM579.73 519.17h1.35v0.9h-1.35zM581.08 507.68h1.35v0.9h-1.35zM582.43 504.14h1.35v0.9h-1.35zM583.77 510.68h1.35v0.9h-1.35zM585.12 512.8h1.35v0.9h-1.35zM586.47 503.79h1.35v0.9h-1.35zM587.81 516.52h1.35v0.9h-1.35zM590.51 508.92h1.35v0.9h-1.35zM591.86 502.19h1.35v0.9h-1.35zM593.2 517.58h1.35v0.9h-1.35zM594.55 512.27h1.35v0.9h-1.35zM595.9 512.8h1.35v0.9h-1.35zM597.24 510.86h1.35v0.9h-1.35zM598.59 513.33h1.35v0.9h-1.35zM599.94 506.26h1.35v0.9h-1.35zM601.28 511.21h1.35v0.9h-1.35zM602.63 519.17h1.35v0.9h-1.35zM603.98 514.92h1.35v0.9h-1.35zM605.33 517.58h1.35v0.9h-1.35zM606.67 523.94h1.35v0.9h-1.35zM608.02 525.53h1.35v0.9h-1.35zM610.71 519.17h1.35v0.9h-1.35zM612.06 505.37h1.35v0.9h-1.35zM613.41 517.58h1.35v0.9h-1.35zM614.75 532.42h1.35v0.45h-1.35zM617.45 530.3h1.35v0.9h-1.35zM618.8 530.83h1.35v0.45h-1.35zM622.84 529.24h1.35v0.9h-1.35zM624.18 532.42h1.35v0.9h-1.35zM626.88 532.42h1.35v0.45h-1.35zM628.22 523.41h1.35v0.9h-1.35zM629.57 530.3h1.35v0.9h-1.35zM630.92 527.12h1.35v0.9h-1.35zM632.26 531.89h1.35v0.9h-1.35zM636.31 532.95h1.35v0.9h-1.35zM637.65 532.42h1.35v0.9h-1.35zM639 524.47h1.35v0.9h-1.35zM640.35 521.82h1.35v0.45h-1.35zM641.69 519.17h1.35v0.9h-1.35zM643.04 528.71h1.35v0.9h-1.35zM645.74 526.59h1.35v0.9h-1.35zM648.43 523.41h1.35v0.9h-1.35zM649.78 521.82h1.35v0.9h-1.35zM651.12 526.06h1.35v0.9h-1.35zM652.47 526.06h1.35v0.9h-1.35zM655.16 529.77h1.35v0.45h-1.35zM656.51 520.76h1.35v0.9h-1.35zM657.86 520.76h1.35v0.9h-1.35zM659.21 512.8h1.35v0.9h-1.35zM660.55 520.23h1.35v0.9h-1.35zM661.9 527.12h1.35v0.9h-1.35zM663.25 523.94h1.35v0.9h-1.35zM664.59 523.94h1.35v0.9h-1.35zM665.94 523.41h1.35v0.9h-1.35zM669.98 521.29h1.35v0.9h-1.35zM671.33 517.58h1.35v0.9h-1.35zM672.68 522.88h1.35v0.9h-1.35zM674.02 529.24h1.35v0.45h-1.35zM675.37 524.47h1.35v0.9h-1.35zM676.72 526.06h1.35v0.45h-1.35zM678.06 524.47h1.35v0.9h-1.35zM679.41 522.88h1.35v0.9h-1.35zM680.76 526.06h1.35v0.9h-1.35zM682.1 524.47h1.35v0.9h-1.35zM684.8 521.29h1.35v0.9h-1.35zM686.14 517.58h1.35v0.9h-1.35zM687.49 516.52h1.35v0.45h-1.35zM688.84 513.86h1.35v0.9h-1.35zM690.19 504.14h1.35v0.9h-1.35zM692.88 523.94h1.35v0.9h-1.35zM694.23 521.82h1.35v0.9h-1.35zM695.57 514.92h1.35v0.45h-1.35zM696.92 506.98h1.35v0.9h-1.35zM698.27 506.27h1.35v0.9h-1.35zM699.62 499.73h1.35v0.9h-1.35zM700.96 510.15h1.35v0.9h-1.35zM702.31 503.79h1.35v0.9h-1.35zM703.66 508.21h1.35v0.9h-1.35zM705 496.36h1.35v0.9h-1.35zM706.35 485.23h1.35v0.9h-1.35zM707.7 486.64h1.35v0.9h-1.35zM709.04 476.57h1.35v0.9h-1.35zM710.39 488.06h1.35v0.9h-1.35zM711.74 496.54h1.35v0.9h-1.35zM713.09 486.99h1.35v0.9h-1.35zM714.43 462.78h1.35v0.9h-1.35zM715.78 478.51h1.35v0.9h-1.35zM717.13 475.86h1.35v0.9h-1.35zM718.47 474.98h1.35v0.9h-1.35zM719.82 428.48h1.35v0.9h-1.35zM721.17 475.15h1.35v0.9h-1.35zM722.51 462.77h1.35v0.9h-1.35zM723.86 470.02h1.35v0.9h-1.35zM725.21 424.07h1.35v0.9h-1.35zM726.56 456.59h1.35v0.9h-1.35zM727.9 389.6h1.35v0.9h-1.35zM729.25 347.35h1.35v0.9h-1.35zM730.6 385.35h1.35v0.9h-1.35zM731.94 365.55h1.35v0.9h-1.35zM733.29 360.25h1.35v0.9h-1.35zM734.64 259.49h1.35v0.9h-1.35zM735.98 313.24h1.35v0.9h-1.35zM737.33 352.83h1.35v0.9h-1.35zM738.68 381.29h1.35v0.9h-1.35zM740.02 374.39h1.35v0.9h-1.35zM741.37 328.43h1.35v0.9h-1.35zM742.72 314.3h1.35v0.9h-1.35zM744.07 293.62h1.35v0.9h-1.35zM745.41 282.65h1.35v0.9h-1.35zM746.76 300.32h1.35v0.9h-1.35zM748.11 327.55h1.35v0.9h-1.35zM749.45 416.11h1.35v0.9h-1.35zM750.8 394.73h1.35v0.9h-1.35zM752.15 339.4h1.35v0.9h-1.35zM753.5 313.76h1.35v0.9h-1.35zM754.84 364.14h1.35v0.9h-1.35zM756.19 381.99h1.35v0.9h-1.35zM757.54 386.6h1.35v0.9h-1.35zM758.88 418.77h1.35v0.9h-1.35zM760.23 435.73h1.35v0.9h-1.35zM761.58 418.06h1.35v0.9h-1.35zM762.92 427.07h1.35v0.9h-1.35zM140.61 538.79h1.35v0.45h-1.35zM198.53 539.32h1.35v0.45h-1.35zM205.27 536.14h1.35v0.9h-1.35zM206.61 536.67h1.35v0.9h-1.35zM207.96 531.89h1.35v0.9h-1.35zM210.65 536.14h1.35v0.9h-1.35zM212 539.32h1.35v0.45h-1.35zM213.35 538.26h1.35v0.45h-1.35zM214.69 537.2h1.35v0.45h-1.35zM216.04 529.24h1.35v0.9h-1.35zM218.74 535.08h1.35v0.9h-1.35zM220.08 535.61h1.35v0.9h-1.35zM224.12 534.55h1.35v0.9h-1.35zM226.82 537.2h1.35v0.45h-1.35zM228.17 536.67h1.35v0.45h-1.35zM230.86 535.61h1.35v0.9h-1.35zM232.21 537.2h1.35v0.45h-1.35zM387.11 537.2h1.35v0.45h-1.35zM424.83 532.95h1.35v0.9h-1.35zM427.52 536.67h1.35v0.45h-1.35zM438.3 535.08h1.35v0.9h-1.35zM440.99 529.77h1.35v0.9h-1.35zM442.34 534.55h1.35v0.9h-1.35zM446.38 531.89h1.35v0.9h-1.35zM451.77 531.89h1.35v0.9h-1.35zM453.11 534.55h1.35v0.9h-1.35zM454.46 532.42h1.35v0.9h-1.35zM463.89 524.47h1.35v0.9h-1.35zM466.58 530.83h1.35v0.9h-1.35zM469.28 525.53h1.35v0.9h-1.35zM470.62 524.47h1.35v0.45h-1.35zM471.97 519.17h1.35v0.9h-1.35zM473.32 517.58h1.35v0.9h-1.35zM474.67 523.94h1.35v0.9h-1.35zM476.01 511.74h1.35v0.9h-1.35zM477.36 516.52h1.35v0.9h-1.35zM478.71 512.27h1.35v0.9h-1.35zM480.05 499.2h1.35v0.9h-1.35zM481.4 505.55h1.35v0.9h-1.35zM482.75 476.04h1.35v0.9h-1.35zM484.09 487.34h1.35v0.9h-1.35zM485.44 465.08h1.35v0.9h-1.35zM486.79 478.69h1.35v0.9h-1.35zM488.14 479.56h1.35v0.9h-1.35zM489.48 466.67h1.35v0.9h-1.35zM490.83 465.79h1.35v0.9h-1.35zM492.18 465.07h1.35v0.9h-1.35zM493.52 472.32h1.35v0.9h-1.35zM494.87 483.63h1.35v0.9h-1.35zM496.22 484.52h1.35v0.9h-1.35zM497.56 468.96h1.35v0.9h-1.35zM498.91 462.78h1.35v0.9h-1.35zM500.26 453.23h1.35v0.9h-1.35zM501.61 473.91h1.35v0.9h-1.35zM502.95 471.8h1.35v0.9h-1.35zM504.3 493.53h1.35v0.9h-1.35zM505.65 472.51h1.35v0.9h-1.35zM506.99 499.2h1.35v0.9h-1.35zM508.34 473.56h1.35v0.9h-1.35zM509.69 470.02h1.35v0.9h-1.35zM511.03 466.49h1.35v0.9h-1.35zM512.38 491.94h1.35v0.9h-1.35zM513.73 498.31h1.35v0.9h-1.35zM515.08 489.46h1.35v0.9h-1.35zM516.42 501.49h1.35v0.9h-1.35zM517.77 496.71h1.35v0.9h-1.35zM519.12 490.88h1.35v0.9h-1.35zM520.46 501.13h1.35v0.9h-1.35zM521.81 490.35h1.35v0.9h-1.35zM523.16 512.45h1.35v0.9h-1.35zM524.5 483.64h1.35v0.9h-1.35zM525.85 495.3h1.35v0.9h-1.35zM527.2 478.86h1.35v0.9h-1.35zM528.55 498.84h1.35v0.9h-1.35zM529.89 507.86h1.35v0.9h-1.35zM531.24 510.69h1.35v0.9h-1.35zM532.59 523.94h1.35v0.9h-1.35zM533.93 518.64h1.35v0.9h-1.35zM535.28 518.11h1.35v0.9h-1.35zM536.63 519.17h1.35v0.9h-1.35zM537.98 505.73h1.35v0.9h-1.35zM539.32 510.51h1.35v0.9h-1.35zM540.67 519.17h1.35v0.9h-1.35zM542.02 519.87h1.35v0.9h-1.35zM544.71 519.7h1.35v0.9h-1.35zM546.06 528.18h1.35v0.9h-1.35zM547.4 511.92h1.35v0.9h-1.35zM548.75 523.41h1.35v0.9h-1.35zM550.1 512.45h1.35v0.9h-1.35zM551.45 534.55h1.35v0.45h-1.35zM552.79 525h1.35v0.45h-1.35zM554.14 518.64h1.35v0.9h-1.35zM555.49 502.73h1.35v0.9h-1.35zM556.83 526.06h1.35v0.9h-1.35zM558.18 521.82h1.35v0.9h-1.35zM559.53 524.47h1.35v0.9h-1.35zM560.87 517.05h1.35v0.9h-1.35zM562.22 521.29h1.35v0.9h-1.35zM563.57 517.58h1.35v0.9h-1.35zM564.91 498.83h1.35v0.9h-1.35zM566.26 501.14h1.35v0.9h-1.35zM567.61 480.45h1.35v0.9h-1.35zM568.96 506.26h1.35v0.9h-1.35zM570.3 515.99h1.35v0.9h-1.35zM571.65 500.26h1.35v0.9h-1.35zM573 512.45h1.35v0.9h-1.35zM574.34 488.23h1.35v0.9h-1.35zM575.69 497.42h1.35v0.9h-1.35zM577.04 497.25h1.35v0.9h-1.35zM578.38 515.8h1.35v0.9h-1.35zM579.73 521.82h1.35v0.9h-1.35zM581.08 512.81h1.35v0.9h-1.35zM582.43 512.27h1.35v0.9h-1.35zM583.77 514.75h1.35v0.9h-1.35zM585.12 515.99h1.35v0.9h-1.35zM586.47 508.74h1.35v0.9h-1.35zM587.81 519.7h1.35v0.45h-1.35zM589.16 522.35h1.35v0.9h-1.35zM590.51 513.69h1.35v0.9h-1.35zM591.86 508.56h1.35v0.9h-1.35zM593.2 519.7h1.35v0.9h-1.35zM594.55 515.99h1.35v0.9h-1.35zM595.9 515.99h1.35v0.9h-1.35zM597.24 515.46h1.35v0.9h-1.35zM598.59 519.7h1.35v0.9h-1.35zM599.94 514.04h1.35v0.9h-1.35zM601.28 514.39h1.35v0.9h-1.35zM602.63 522.88h1.35v0.9h-1.35zM603.98 517.05h1.35v0.9h-1.35zM605.33 522.35h1.35v0.9h-1.35zM606.67 527.65h1.35v0.9h-1.35zM608.02 527.65h1.35v0.9h-1.35zM610.71 523.41h1.35v0.45h-1.35zM612.06 511.21h1.35v0.9h-1.35zM613.41 523.94h1.35v0.9h-1.35zM616.1 526.59h1.35v0.9h-1.35zM618.8 532.42h1.35v0.45h-1.35zM620.14 526.59h1.35v0.9h-1.35zM621.49 532.95h1.35v0.9h-1.35zM625.53 526.59h1.35v0.9h-1.35zM626.88 534.02h1.35v0.9h-1.35zM628.22 527.65h1.35v0.9h-1.35zM633.61 530.3h1.35v0.9h-1.35zM636.31 535.08h1.35v0.45h-1.35zM640.35 523.41h1.35v0.9h-1.35zM641.69 522.88h1.35v0.45h-1.35zM643.04 530.83h1.35v0.9h-1.35zM644.39 515.45h1.35v0.9h-1.35zM645.74 529.24h1.35v0.9h-1.35zM647.08 523.41h1.35v0.9h-1.35zM648.43 527.12h1.35v0.9h-1.35zM649.78 524.47h1.35v0.9h-1.35zM651.12 528.18h1.35v0.9h-1.35zM652.47 528.71h1.35v0.9h-1.35zM653.82 531.89h1.35v0.9h-1.35zM656.51 522.88h1.35v0.9h-1.35zM657.86 523.41h1.35v0.9h-1.35zM659.21 517.05h1.35v0.9h-1.35zM660.55 522.88h1.35v0.9h-1.35zM661.9 529.24h1.35v0.9h-1.35zM663.25 526.59h1.35v0.9h-1.35zM664.59 526.59h1.35v0.9h-1.35zM667.29 519.17h1.35v0.9h-1.35zM671.33 522.35h1.35v0.9h-1.35zM672.68 527.12h1.35v0.9h-1.35zM674.02 530.83h1.35v0.9h-1.35zM675.37 526.59h1.35v0.9h-1.35zM676.72 527.65h1.35v0.9h-1.35zM678.06 526.59h1.35v0.45h-1.35zM679.41 525.53h1.35v0.9h-1.35zM680.76 528.18h1.35v0.9h-1.35zM682.1 527.65h1.35v0.9h-1.35zM683.45 520.76h1.35v0.9h-1.35zM684.8 524.47h1.35v0.9h-1.35zM686.14 520.23h1.35v0.9h-1.35zM687.49 518.11h1.35v0.9h-1.35zM688.84 516.52h1.35v0.9h-1.35zM690.19 506.79h1.35v0.9h-1.35zM691.53 519.7h1.35v0.9h-1.35zM692.88 527.12h1.35v0.9h-1.35zM694.23 525h1.35v0.9h-1.35zM695.57 516.52h1.35v0.9h-1.35zM696.92 510.86h1.35v0.9h-1.35zM698.27 511.75h1.35v0.9h-1.35zM699.62 504.67h1.35v0.9h-1.35zM700.96 516.52h1.35v0.9h-1.35zM702.31 508.21h1.35v0.9h-1.35zM703.66 511.56h1.35v0.9h-1.35zM705 500.6h1.35v0.9h-1.35zM706.35 493.36h1.35v0.9h-1.35zM707.7 490.71h1.35v0.9h-1.35zM709.04 484.88h1.35v0.9h-1.35zM710.39 496.9h1.35v0.9h-1.35zM711.74 501.31h1.35v0.9h-1.35zM713.09 493.35h1.35v0.9h-1.35zM714.43 469.85h1.35v0.9h-1.35zM715.78 486.82h1.35v0.9h-1.35zM717.13 481.16h1.35v0.9h-1.35zM718.47 483.11h1.35v0.9h-1.35zM719.82 439.26h1.35v0.9h-1.35zM721.17 481.16h1.35v0.9h-1.35zM722.51 471.96h1.35v0.9h-1.35zM723.86 477.8h1.35v0.9h-1.35zM725.21 440.33h1.35v0.9h-1.35zM726.56 468.08h1.35v0.9h-1.35zM727.9 407.27h1.35v0.9h-1.35zM729.25 363.44h1.35v0.9h-1.35zM730.6 409.74h1.35v0.9h-1.35zM731.94 382.88h1.35v0.9h-1.35zM733.29 377.58h1.35v0.9h-1.35zM734.64 289.55h1.35v0.9h-1.35zM735.98 336.39h1.35v0.9h-1.35zM737.33 373.51h1.35v0.9h-1.35zM738.68 398.96h1.35v0.9h-1.35zM740.02 393.13h1.35v0.9h-1.35zM741.37 356.54h1.35v0.9h-1.35zM742.72 336.92h1.35v0.9h-1.35zM744.07 329.32h1.35v0.9h-1.35zM745.41 316.59h1.35v0.9h-1.35zM746.76 323.13h1.35v0.9h-1.35zM748.11 351.94h1.35v0.9h-1.35zM749.45 428.66h1.35v0.9h-1.35zM750.8 409.76h1.35v0.9h-1.35zM752.15 367.68h1.35v0.9h-1.35zM753.5 339.56h1.35v0.9h-1.35zM754.84 374.57h1.35v0.9h-1.35zM756.19 406.21h1.35v0.9h-1.35zM757.54 400.92h1.35v0.9h-1.35zM758.88 432.2h1.35v0.9h-1.35zM760.23 443.68h1.35v0.9h-1.35zM761.58 426.54h1.35v0.9h-1.35zM762.92 438.21h1.35v0.9h-1.35zM152.73 540.38h1.35v0.45h-1.35zM203.92 538.79h1.35v0.45h-1.35zM206.61 538.79h1.35v0.9h-1.35zM207.96 534.02h1.35v0.9h-1.35zM209.31 534.55h1.35v0.45h-1.35zM210.65 538.79h1.35v0.45h-1.35zM216.04 531.36h1.35v0.9h-1.35zM218.74 537.2h1.35v0.9h-1.35zM221.43 537.2h1.35v0.45h-1.35zM222.78 536.14h1.35v0.9h-1.35zM225.47 537.2h1.35v0.9h-1.35zM226.82 538.79h1.35v0.45h-1.35zM228.17 538.26h1.35v0.9h-1.35zM229.51 538.79h1.35v0.45h-1.35zM230.86 537.73h1.35v0.9h-1.35zM234.9 538.79h1.35v0.9h-1.35zM329.19 540.38h1.35v0.45h-1.35zM396.54 539.32h1.35v0.45h-1.35zM424.83 535.08h1.35v0.9h-1.35zM426.17 539.32h1.35v0.45h-1.35zM432.91 537.2h1.35v0.9h-1.35zM434.26 536.67h1.35v0.45h-1.35zM435.6 538.26h1.35v0.9h-1.35zM438.3 537.2h1.35v0.9h-1.35zM440.99 531.89h1.35v0.9h-1.35zM442.34 536.67h1.35v0.9h-1.35zM443.69 534.55h1.35v0.9h-1.35zM450.42 537.2h1.35v0.9h-1.35zM458.5 534.02h1.35v0.45h-1.35zM461.2 531.36h1.35v0.9h-1.35zM462.54 527.12h1.35v0.9h-1.35zM463.89 526.59h1.35v0.9h-1.35zM465.24 531.36h1.35v0.9h-1.35zM466.58 534.02h1.35v0.9h-1.35zM467.93 535.08h1.35v0.9h-1.35zM469.28 527.65h1.35v0.9h-1.35zM470.62 526.06h1.35v0.9h-1.35zM471.97 522.88h1.35v0.9h-1.35zM473.32 520.23h1.35v0.9h-1.35zM474.67 526.06h1.35v0.9h-1.35zM476.01 517.58h1.35v0.9h-1.35zM477.36 520.23h1.35v0.9h-1.35zM478.71 518.64h1.35v0.9h-1.35zM480.05 503.61h1.35v0.9h-1.35zM481.4 512.45h1.35v0.9h-1.35zM482.75 482.4h1.35v0.9h-1.35zM484.09 495.12h1.35v0.9h-1.35zM485.44 472.15h1.35v0.9h-1.35zM486.79 488.76h1.35v0.9h-1.35zM488.14 489.46h1.35v0.9h-1.35zM489.48 483.64h1.35v0.9h-1.35zM490.83 477.1h1.35v0.9h-1.35zM492.18 476.56h1.35v0.9h-1.35zM493.52 486.28h1.35v0.9h-1.35zM494.87 493.88h1.35v0.9h-1.35zM496.22 495.3h1.35v0.9h-1.35zM497.56 475.68h1.35v0.9h-1.35zM498.91 476.74h1.35v0.9h-1.35zM500.26 470.03h1.35v0.9h-1.35zM501.61 485.4h1.35v0.9h-1.35zM502.95 483.11h1.35v0.9h-1.35zM504.3 500.96h1.35v0.9h-1.35zM505.65 485.76h1.35v0.9h-1.35zM506.99 505.73h1.35v0.9h-1.35zM508.34 484.7h1.35v0.9h-1.35zM509.69 485.4h1.35v0.9h-1.35zM511.03 474.8h1.35v0.9h-1.35zM512.38 503.78h1.35v0.9h-1.35zM513.73 508.39h1.35v0.9h-1.35zM515.08 495.3h1.35v0.9h-1.35zM516.42 507.68h1.35v0.9h-1.35zM517.77 503.08h1.35v0.9h-1.35zM519.12 497.6h1.35v0.9h-1.35zM520.46 506.79h1.35v0.9h-1.35zM521.81 501.49h1.35v0.9h-1.35zM523.16 517.22h1.35v0.9h-1.35zM524.5 491.07h1.35v0.9h-1.35zM525.85 503.96h1.35v0.9h-1.35zM527.2 486.29h1.35v0.9h-1.35zM528.55 509.8h1.35v0.9h-1.35zM529.89 512.27h1.35v0.9h-1.35zM531.24 515.29h1.35v0.9h-1.35zM532.59 526.06h1.35v0.9h-1.35zM533.93 522.35h1.35v0.9h-1.35zM535.28 522.35h1.35v0.9h-1.35zM536.63 522.88h1.35v0.9h-1.35zM537.98 511.39h1.35v0.9h-1.35zM539.32 514.39h1.35v0.9h-1.35zM540.67 521.82h1.35v0.9h-1.35zM542.02 523.94h1.35v0.9h-1.35zM543.36 526.59h1.35v0.9h-1.35zM544.71 525h1.35v0.9h-1.35zM546.06 531.89h1.35v0.9h-1.35zM547.4 516.87h1.35v0.9h-1.35zM548.75 526.59h1.35v0.45h-1.35zM550.1 517.75h1.35v0.9h-1.35zM552.79 526.59h1.35v0.9h-1.35zM554.14 523.41h1.35v0.9h-1.35zM555.49 508.39h1.35v0.9h-1.35zM556.83 528.71h1.35v0.9h-1.35zM558.18 524.47h1.35v0.9h-1.35zM559.53 528.18h1.35v0.9h-1.35zM560.87 520.76h1.35v0.9h-1.35zM562.22 526.06h1.35v0.9h-1.35zM563.57 522.35h1.35v0.9h-1.35zM564.91 506.61h1.35v0.9h-1.35zM566.26 508.03h1.35v0.9h-1.35zM567.61 490.53h1.35v0.9h-1.35zM568.96 514.22h1.35v0.9h-1.35zM570.3 522.88h1.35v0.9h-1.35zM571.65 508.92h1.35v0.9h-1.35zM573 516.52h1.35v0.9h-1.35zM574.34 497.25h1.35v0.9h-1.35zM575.69 505.55h1.35v0.9h-1.35zM577.04 503.97h1.35v0.9h-1.35zM578.38 519.34h1.35v0.9h-1.35zM579.73 523.94h1.35v0.9h-1.35zM581.08 517.76h1.35v0.9h-1.35zM582.43 517.4h1.35v0.9h-1.35zM583.77 517.93h1.35v0.9h-1.35zM585.12 520.76h1.35v0.9h-1.35zM586.47 513.51h1.35v0.9h-1.35zM587.81 521.29h1.35v0.9h-1.35zM589.16 526.06h1.35v0.9h-1.35zM590.51 516.34h1.35v0.9h-1.35zM591.86 513.15h1.35v0.9h-1.35zM593.2 522.88h1.35v0.9h-1.35zM594.55 520.23h1.35v0.9h-1.35zM595.9 525.53h1.35v0.9h-1.35zM597.24 522h1.35v0.9h-1.35zM598.59 525h1.35v0.9h-1.35zM599.94 520.41h1.35v0.9h-1.35zM601.28 517.58h1.35v0.9h-1.35zM602.63 527.12h1.35v0.9h-1.35zM603.98 523.94h1.35v0.9h-1.35zM605.33 526.06h1.35v0.9h-1.35zM606.67 529.77h1.35v0.9h-1.35zM608.02 530.3h1.35v0.9h-1.35zM609.37 538.26h1.35v0.9h-1.35zM610.71 525h1.35v0.9h-1.35zM612.06 515.98h1.35v0.9h-1.35zM613.41 527.12h1.35v0.9h-1.35zM614.75 534.55h1.35v0.9h-1.35zM616.1 529.24h1.35v0.9h-1.35zM617.45 534.55h1.35v0.45h-1.35zM618.8 534.02h1.35v0.9h-1.35zM620.14 529.77h1.35v0.9h-1.35zM621.49 536.14h1.35v0.9h-1.35zM622.84 531.89h1.35v0.9h-1.35zM625.53 528.71h1.35v0.9h-1.35zM628.22 532.95h1.35v0.9h-1.35zM629.57 533.48h1.35v0.9h-1.35zM630.92 531.36h1.35v0.9h-1.35zM632.26 535.61h1.35v0.9h-1.35zM633.61 532.42h1.35v0.9h-1.35zM634.96 535.08h1.35v0.45h-1.35zM636.31 536.67h1.35v0.9h-1.35zM639 527.65h1.35v0.9h-1.35zM640.35 527.12h1.35v0.9h-1.35zM641.69 524.47h1.35v0.9h-1.35zM644.39 522.35h1.35v0.9h-1.35zM645.74 532.42h1.35v0.9h-1.35zM647.08 525.53h1.35v0.9h-1.35zM648.43 530.3h1.35v0.9h-1.35zM649.78 527.65h1.35v0.9h-1.35zM651.12 532.42h1.35v0.9h-1.35zM652.47 531.36h1.35v0.9h-1.35zM653.82 534.55h1.35v0.45h-1.35zM655.16 532.42h1.35v0.9h-1.35zM656.51 526.59h1.35v0.9h-1.35zM657.86 528.18h1.35v0.9h-1.35zM659.21 522.35h1.35v0.9h-1.35zM660.55 526.59h1.35v0.9h-1.35zM661.9 531.89h1.35v0.9h-1.35zM663.25 531.89h1.35v0.9h-1.35zM664.59 529.77h1.35v0.9h-1.35zM665.94 526.59h1.35v0.9h-1.35zM667.29 523.94h1.35v0.9h-1.35zM668.63 525h1.35v0.9h-1.35zM669.98 526.06h1.35v0.9h-1.35zM671.33 525h1.35v0.9h-1.35zM672.68 529.24h1.35v0.9h-1.35zM675.37 530.83h1.35v0.9h-1.35zM678.06 528.18h1.35v0.9h-1.35zM679.41 528.18h1.35v0.9h-1.35zM680.76 531.89h1.35v0.9h-1.35zM682.1 529.77h1.35v0.9h-1.35zM683.45 527.12h1.35v0.9h-1.35zM684.8 526.59h1.35v0.9h-1.35zM686.14 525h1.35v0.9h-1.35zM687.49 523.94h1.35v0.9h-1.35zM688.84 521.82h1.35v0.9h-1.35zM690.19 511.39h1.35v0.9h-1.35zM691.53 522.35h1.35v0.9h-1.35zM692.88 531.36h1.35v0.45h-1.35zM694.23 529.24h1.35v0.9h-1.35zM695.57 522.35h1.35v0.9h-1.35zM696.92 515.1h1.35v0.9h-1.35zM698.27 517.94h1.35v0.9h-1.35zM699.62 509.09h1.35v0.9h-1.35zM700.96 519.17h1.35v0.9h-1.35zM702.31 514.21h1.35v0.9h-1.35zM703.66 518.81h1.35v0.9h-1.35zM705 506.79h1.35v0.9h-1.35zM706.35 502.91h1.35v0.9h-1.35zM707.7 502.73h1.35v0.9h-1.35zM709.04 495.48h1.35v0.9h-1.35zM710.39 504.15h1.35v0.9h-1.35zM711.74 508.38h1.35v0.9h-1.35zM713.09 501.66h1.35v0.9h-1.35zM714.43 479.75h1.35v0.9h-1.35zM715.78 496.54h1.35v0.9h-1.35zM717.13 492.65h1.35v0.9h-1.35zM718.47 494.95h1.35v0.9h-1.35zM719.82 456.59h1.35v0.9h-1.35zM721.17 492.47h1.35v0.9h-1.35zM722.51 482.93h1.35v0.9h-1.35zM723.86 491.77h1.35v0.9h-1.35zM725.21 462.07h1.35v0.9h-1.35zM726.56 479.21h1.35v0.9h-1.35zM727.9 424.42h1.35v0.9h-1.35zM729.25 401.8h1.35v0.9h-1.35zM730.6 427.95h1.35v0.9h-1.35zM731.94 417.88h1.35v0.9h-1.35zM733.29 411.34h1.35v0.9h-1.35zM734.64 341.87h1.35v0.9h-1.35zM735.98 368.21h1.35v0.9h-1.35zM737.33 403.38h1.35v0.9h-1.35zM738.68 420.35h1.35v0.9h-1.35zM740.02 417.88h1.35v0.9h-1.35zM741.37 383.94h1.35v0.9h-1.35zM742.72 376.87h1.35v0.9h-1.35zM744.07 366.8h1.35v0.9h-1.35zM745.41 349.82h1.35v0.9h-1.35zM746.76 365.55h1.35v0.9h-1.35zM748.11 373.51h1.35v0.9h-1.35zM749.45 443.33h1.35v0.9h-1.35zM750.8 433.26h1.35v0.9h-1.35zM752.15 412.93h1.35v0.9h-1.35zM753.5 373.33h1.35v0.9h-1.35zM754.84 405.5h1.35v0.9h-1.35zM756.19 438.91h1.35v0.9h-1.35zM757.54 428.67h1.35v0.9h-1.35zM758.88 452.35h1.35v0.9h-1.35zM760.23 458h1.35v0.9h-1.35zM761.58 440.51h1.35v0.9h-1.35zM762.92 460.65h1.35v0.9h-1.35zM201.22 539.85h1.35v0.45h-1.35zM205.27 538.26h1.35v0.9h-1.35zM207.96 536.67h1.35v0.45h-1.35zM209.31 536.14h1.35v0.9h-1.35zM210.65 540.38h1.35v0.45h-1.35zM216.04 536.14h1.35v0.9h-1.35zM217.39 539.32h1.35v0.45h-1.35zM221.43 538.79h1.35v0.9h-1.35zM224.12 538.26h1.35v0.45h-1.35zM230.86 540.38h1.35v0.9h-1.35zM241.63 540.38h1.35v0.45h-1.35zM327.84 538.79h1.35v0.9h-1.35zM346.7 539.85h1.35v0.45h-1.35zM349.39 539.32h1.35v0.45h-1.35zM357.48 539.32h1.35v0.9h-1.35zM362.87 538.79h1.35v0.45h-1.35zM374.99 540.38h1.35v0.45h-1.35zM376.33 536.14h1.35v0.9h-1.35zM379.03 537.73h1.35v0.45h-1.35zM414.05 538.79h1.35v0.45h-1.35zM418.09 538.79h1.35v0.45h-1.35zM427.52 538.79h1.35v0.45h-1.35zM430.21 537.73h1.35v0.45h-1.35zM432.91 539.32h1.35v0.9h-1.35zM434.26 538.26h1.35v0.9h-1.35zM436.95 538.79h1.35v0.45h-1.35zM438.3 539.32h1.35v0.9h-1.35zM440.99 536.14h1.35v0.9h-1.35zM443.69 538.26h1.35v0.9h-1.35zM446.38 534.55h1.35v0.9h-1.35zM451.77 535.61h1.35v0.9h-1.35zM453.11 537.73h1.35v0.45h-1.35zM454.46 536.14h1.35v0.9h-1.35zM455.81 537.2h1.35v0.9h-1.35zM458.5 535.61h1.35v0.9h-1.35zM461.2 534.02h1.35v0.45h-1.35zM462.54 532.42h1.35v0.9h-1.35zM463.89 528.71h1.35v0.9h-1.35zM465.24 533.48h1.35v0.9h-1.35zM466.58 539.32h1.35v0.45h-1.35zM469.28 531.89h1.35v0.9h-1.35zM470.62 529.24h1.35v0.9h-1.35zM471.97 528.71h1.35v0.9h-1.35zM473.32 526.59h1.35v0.9h-1.35zM474.67 530.3h1.35v0.9h-1.35zM476.01 524.47h1.35v0.9h-1.35zM477.36 525h1.35v0.9h-1.35zM478.71 521.82h1.35v0.9h-1.35zM480.05 513.16h1.35v0.9h-1.35zM481.4 521.99h1.35v0.9h-1.35zM482.75 498.49h1.35v0.9h-1.35zM484.09 506.08h1.35v0.9h-1.35zM485.44 494.07h1.35v0.9h-1.35zM486.79 502.73h1.35v0.9h-1.35zM488.14 506.26h1.35v0.9h-1.35zM489.48 503.79h1.35v0.9h-1.35zM490.83 494.25h1.35v0.9h-1.35zM492.18 498.3h1.35v0.9h-1.35zM493.52 502.55h1.35v0.9h-1.35zM494.87 507.67h1.35v0.9h-1.35zM496.22 508.03h1.35v0.9h-1.35zM497.56 487.17h1.35v0.9h-1.35zM498.91 496.19h1.35v0.9h-1.35zM500.26 488.23h1.35v0.9h-1.35zM501.61 501.14h1.35v0.9h-1.35zM502.95 499.38h1.35v0.9h-1.35zM504.3 511.39h1.35v0.9h-1.35zM505.65 503.62h1.35v0.9h-1.35zM506.99 518.29h1.35v0.9h-1.35zM508.34 501.14h1.35v0.9h-1.35zM509.69 502.73h1.35v0.9h-1.35zM511.03 490.71h1.35v0.9h-1.35zM512.38 514.39h1.35v0.9h-1.35zM513.73 514.75h1.35v0.9h-1.35zM515.08 505.37h1.35v0.9h-1.35zM516.42 516.87h1.35v0.9h-1.35zM517.77 511.92h1.35v0.9h-1.35zM519.12 509.27h1.35v0.9h-1.35zM520.46 517.57h1.35v0.9h-1.35zM521.81 510.68h1.35v0.9h-1.35zM523.16 521.46h1.35v0.9h-1.35zM524.5 497.96h1.35v0.9h-1.35zM525.85 512.98h1.35v0.9h-1.35zM527.2 499.72h1.35v0.9h-1.35zM528.55 518.29h1.35v0.9h-1.35zM529.89 521.99h1.35v0.9h-1.35zM531.24 522.88h1.35v0.9h-1.35zM532.59 531.36h1.35v0.9h-1.35zM533.93 526.06h1.35v0.9h-1.35zM535.28 528.18h1.35v0.9h-1.35zM536.63 526.59h1.35v0.9h-1.35zM537.98 519.87h1.35v0.9h-1.35zM539.32 520.4h1.35v0.9h-1.35zM540.67 525h1.35v0.9h-1.35zM542.02 528.01h1.35v0.9h-1.35zM543.36 530.83h1.35v0.9h-1.35zM544.71 531.36h1.35v0.9h-1.35zM546.06 535.61h1.35v0.9h-1.35zM547.4 524.29h1.35v0.9h-1.35zM548.75 528.18h1.35v0.9h-1.35zM550.1 521.99h1.35v0.9h-1.35zM551.45 537.2h1.35v0.9h-1.35zM552.79 530.83h1.35v0.9h-1.35zM554.14 526.06h1.35v0.9h-1.35zM555.49 515.99h1.35v0.9h-1.35zM556.83 530.83h1.35v0.9h-1.35zM558.18 527.65h1.35v0.9h-1.35zM559.53 530.3h1.35v0.9h-1.35zM560.87 524.47h1.35v0.9h-1.35zM562.22 530.3h1.35v0.9h-1.35zM563.57 525.53h1.35v0.9h-1.35zM564.91 515.45h1.35v0.9h-1.35zM566.26 514.75h1.35v0.9h-1.35zM567.61 504.49h1.35v0.9h-1.35zM568.96 520.41h1.35v0.9h-1.35zM570.3 526.59h1.35v0.9h-1.35zM571.65 516.52h1.35v0.9h-1.35zM573 523.58h1.35v0.9h-1.35zM574.34 506.62h1.35v0.9h-1.35zM575.69 511.74h1.35v0.9h-1.35zM577.04 513.34h1.35v0.9h-1.35zM578.38 525.53h1.35v0.9h-1.35zM579.73 527.12h1.35v0.9h-1.35zM581.08 523.23h1.35v0.9h-1.35zM582.43 524.82h1.35v0.9h-1.35zM583.77 523.76h1.35v0.9h-1.35zM585.12 523.94h1.35v0.9h-1.35zM586.47 519.17h1.35v0.9h-1.35zM587.81 524.47h1.35v0.9h-1.35zM589.16 528.71h1.35v0.9h-1.35zM590.51 520.76h1.35v0.9h-1.35zM591.86 518.81h1.35v0.9h-1.35zM593.2 527.65h1.35v0.9h-1.35zM594.55 528.18h1.35v0.9h-1.35zM595.9 530.83h1.35v0.9h-1.35zM597.24 525.89h1.35v0.9h-1.35zM598.59 530.3h1.35v0.9h-1.35zM599.94 525.71h1.35v0.9h-1.35zM601.28 524.47h1.35v0.9h-1.35zM602.63 532.95h1.35v0.9h-1.35zM603.98 526.06h1.35v0.9h-1.35zM605.33 528.18h1.35v0.9h-1.35zM606.67 533.48h1.35v0.45h-1.35zM608.02 534.55h1.35v0.9h-1.35zM610.71 530.83h1.35v0.9h-1.35zM612.06 523.93h1.35v0.9h-1.35zM613.41 529.77h1.35v0.9h-1.35zM614.75 537.2h1.35v0.9h-1.35zM616.1 531.36h1.35v0.9h-1.35zM617.45 536.14h1.35v0.9h-1.35zM618.8 536.67h1.35v0.9h-1.35zM621.49 538.26h1.35v0.9h-1.35zM622.84 534.55h1.35v0.9h-1.35zM625.53 532.42h1.35v0.9h-1.35zM626.88 537.2h1.35v0.45h-1.35zM628.22 536.67h1.35v0.45h-1.35zM629.57 536.14h1.35v0.9h-1.35zM630.92 534.02h1.35v0.45h-1.35zM633.61 535.61h1.35v0.9h-1.35zM634.96 536.67h1.35v0.45h-1.35zM636.31 539.32h1.35v0.45h-1.35zM637.65 536.14h1.35v0.9h-1.35zM639 531.36h1.35v0.9h-1.35zM640.35 529.24h1.35v0.9h-1.35zM641.69 527.65h1.35v0.9h-1.35zM644.39 525.53h1.35v0.9h-1.35zM645.74 534.55h1.35v0.45h-1.35zM647.08 531.36h1.35v0.9h-1.35zM648.43 533.48h1.35v0.9h-1.35zM649.78 530.3h1.35v0.9h-1.35zM651.12 534.55h1.35v0.9h-1.35zM652.47 534.02h1.35v0.9h-1.35zM655.16 536.14h1.35v0.9h-1.35zM656.51 530.3h1.35v0.9h-1.35zM657.86 531.89h1.35v0.9h-1.35zM659.21 527.65h1.35v0.9h-1.35zM660.55 529.24h1.35v0.9h-1.35zM661.9 536.14h1.35v0.45h-1.35zM663.25 535.08h1.35v0.9h-1.35zM664.59 532.42h1.35v0.9h-1.35zM665.94 530.3h1.35v0.9h-1.35zM667.29 529.77h1.35v0.9h-1.35zM668.63 527.12h1.35v0.9h-1.35zM669.98 530.83h1.35v0.9h-1.35zM671.33 529.77h1.35v0.9h-1.35zM676.72 532.95h1.35v0.9h-1.35zM678.06 530.3h1.35v0.9h-1.35zM679.41 531.36h1.35v0.9h-1.35zM680.76 536.67h1.35v0.45h-1.35zM682.1 534.02h1.35v0.9h-1.35zM683.45 529.24h1.35v0.9h-1.35zM684.8 529.77h1.35v0.9h-1.35zM686.14 528.18h1.35v0.9h-1.35zM687.49 529.24h1.35v0.9h-1.35zM688.84 525.53h1.35v0.9h-1.35zM690.19 520.41h1.35v0.9h-1.35zM691.53 529.24h1.35v0.9h-1.35zM692.88 532.95h1.35v0.9h-1.35zM694.23 532.95h1.35v0.9h-1.35zM695.57 526.59h1.35v0.9h-1.35zM696.92 522h1.35v0.9h-1.35zM698.27 522.35h1.35v0.9h-1.35zM699.62 515.1h1.35v0.9h-1.35zM700.96 522.35h1.35v0.9h-1.35zM702.31 523.05h1.35v0.9h-1.35zM703.66 522.52h1.35v0.9h-1.35zM705 512.27h1.35v0.9h-1.35zM706.35 511.39h1.35v0.9h-1.35zM707.7 515.99h1.35v0.9h-1.35zM709.04 505.03h1.35v0.9h-1.35zM710.39 510.16h1.35v0.9h-1.35zM711.74 516.16h1.35v0.9h-1.35zM713.09 511.56h1.35v0.9h-1.35zM714.43 492.48h1.35v0.9h-1.35zM715.78 503.61h1.35v0.9h-1.35zM717.13 504.14h1.35v0.9h-1.35zM718.47 503.08h1.35v0.9h-1.35zM719.82 477.09h1.35v0.9h-1.35zM721.17 501.84h1.35v0.9h-1.35zM722.51 490.88h1.35v0.9h-1.35zM723.86 502.73h1.35v0.9h-1.35zM725.21 477.1h1.35v0.9h-1.35zM726.56 491.77h1.35v0.9h-1.35zM727.9 449.52h1.35v0.9h-1.35zM729.25 431.32h1.35v0.9h-1.35zM730.6 451.11h1.35v0.9h-1.35zM731.94 442.27h1.35v0.9h-1.35zM733.29 427.42h1.35v0.9h-1.35zM734.64 365.56h1.35v0.9h-1.35zM735.98 424.6h1.35v0.9h-1.35zM737.33 438.21h1.35v0.9h-1.35zM738.68 450.4h1.35v0.9h-1.35zM740.02 440.33h1.35v0.9h-1.35zM741.37 421.06h1.35v0.9h-1.35zM742.72 420.53h1.35v0.9h-1.35zM744.07 399.32h1.35v0.9h-1.35zM745.41 389.42h1.35v0.9h-1.35zM746.76 408.5h1.35v0.9h-1.35zM748.11 407.27h1.35v0.9h-1.35zM749.45 468.61h1.35v0.9h-1.35zM750.8 463.14h1.35v0.9h-1.35zM752.15 435.73h1.35v0.9h-1.35zM753.5 421.94h1.35v0.9h-1.35zM754.84 427.77h1.35v0.9h-1.35zM756.19 464.9h1.35v0.9h-1.35zM757.54 456.77h1.35v0.9h-1.35zM758.88 467.9h1.35v0.9h-1.35zM760.23 472.15h1.35v0.9h-1.35zM761.58 453.06h1.35v0.9h-1.35zM762.92 476.92h1.35v0.9h-1.35zM207.96 538.26h1.35v0.9h-1.35zM209.31 538.79h1.35v0.9h-1.35zM214.69 539.85h1.35v0.9h-1.35zM216.04 540.38h1.35v0.45h-1.35zM217.39 540.91h1.35v0.45h-1.35zM218.74 540.38h1.35v0.9h-1.35zM220.08 539.32h1.35v0.9h-1.35zM221.43 540.91h1.35v0.45h-1.35zM222.78 539.85h1.35v0.45h-1.35zM224.12 539.85h1.35v0.45h-1.35zM225.47 539.85h1.35v0.9h-1.35zM228.17 540.91h1.35v0.45h-1.35zM327.84 540.91h1.35v0.45h-1.35zM330.54 540.38h1.35v0.9h-1.35zM331.88 540.38h1.35v0.9h-1.35zM345.35 540.91h1.35v0.45h-1.35zM348.05 540.38h1.35v0.9h-1.35zM349.39 540.91h1.35v0.45h-1.35zM350.74 538.26h1.35v0.9h-1.35zM352.09 539.32h1.35v0.9h-1.35zM353.44 538.79h1.35v0.9h-1.35zM354.78 539.85h1.35v0.45h-1.35zM360.17 540.91h1.35v0.45h-1.35zM361.52 540.38h1.35v0.9h-1.35zM362.87 540.38h1.35v0.9h-1.35zM364.21 539.85h1.35v0.9h-1.35zM365.56 540.38h1.35v0.9h-1.35zM373.64 540.91h1.35v0.45h-1.35zM376.33 538.26h1.35v0.9h-1.35zM379.03 539.32h1.35v0.9h-1.35zM384.42 540.38h1.35v0.45h-1.35zM385.76 540.38h1.35v0.9h-1.35zM387.11 539.85h1.35v0.9h-1.35zM392.5 539.85h1.35v0.9h-1.35zM404.62 540.38h1.35v0.45h-1.35zM405.97 540.91h1.35v0.45h-1.35zM414.05 540.38h1.35v0.9h-1.35zM416.75 538.79h1.35v0.9h-1.35zM418.09 540.38h1.35v0.45h-1.35zM422.13 540.91h1.35v0.45h-1.35zM423.48 540.38h1.35v0.45h-1.35zM424.83 538.26h1.35v0.9h-1.35zM427.52 540.38h1.35v0.45h-1.35zM430.21 539.32h1.35v0.9h-1.35zM436.95 540.38h1.35v0.9h-1.35zM439.64 540.38h1.35v0.9h-1.35zM440.99 538.79h1.35v0.45h-1.35zM442.34 539.32h1.35v0.9h-1.35zM445.03 538.79h1.35v0.9h-1.35zM446.38 537.73h1.35v0.9h-1.35zM447.73 539.85h1.35v0.9h-1.35zM449.07 539.32h1.35v0.9h-1.35zM451.77 538.26h1.35v0.9h-1.35zM453.11 539.32h1.35v0.9h-1.35zM454.46 538.79h1.35v0.9h-1.35zM457.15 538.79h1.35v0.9h-1.35zM458.5 537.73h1.35v0.9h-1.35zM459.85 539.32h1.35v0.9h-1.35zM461.2 535.61h1.35v0.9h-1.35zM462.54 534.55h1.35v0.9h-1.35zM463.89 532.95h1.35v0.9h-1.35zM465.24 536.67h1.35v0.9h-1.35zM467.93 537.73h1.35v0.9h-1.35zM469.28 534.55h1.35v0.9h-1.35zM470.62 531.36h1.35v0.9h-1.35zM471.97 532.95h1.35v0.9h-1.35zM473.32 529.24h1.35v0.9h-1.35zM474.67 536.14h1.35v0.9h-1.35zM476.01 527.65h1.35v0.9h-1.35zM477.36 530.3h1.35v0.9h-1.35zM478.71 526.59h1.35v0.9h-1.35zM480.05 525h1.35v0.9h-1.35zM481.4 529.77h1.35v0.9h-1.35zM482.75 515.45h1.35v0.9h-1.35zM484.09 515.8h1.35v0.9h-1.35zM485.44 509.27h1.35v0.9h-1.35zM486.79 517.22h1.35v0.9h-1.35zM488.14 519.87h1.35v0.9h-1.35zM489.48 514.04h1.35v0.9h-1.35zM490.83 516.7h1.35v0.9h-1.35zM492.18 510.33h1.35v0.9h-1.35zM493.52 516.87h1.35v0.9h-1.35zM494.87 523.93h1.35v0.9h-1.35zM496.22 519.34h1.35v0.9h-1.35zM497.56 505.02h1.35v0.9h-1.35zM498.91 509.8h1.35v0.9h-1.35zM500.26 507.86h1.35v0.9h-1.35zM501.61 512.63h1.35v0.9h-1.35zM502.95 514.93h1.35v0.9h-1.35zM504.3 521.82h1.35v0.9h-1.35zM505.65 510.69h1.35v0.9h-1.35zM506.99 526.24h1.35v0.9h-1.35zM508.34 517.05h1.35v0.9h-1.35zM509.69 516.34h1.35v0.9h-1.35zM511.03 503.96h1.35v0.9h-1.35zM512.38 525.35h1.35v0.9h-1.35zM513.73 522.35h1.35v0.9h-1.35zM515.08 518.1h1.35v0.9h-1.35zM516.42 528.18h1.35v0.9h-1.35zM517.77 520.58h1.35v0.9h-1.35zM519.12 521.29h1.35v0.9h-1.35zM520.46 526.94h1.35v0.9h-1.35zM521.81 520.58h1.35v0.9h-1.35zM523.16 528.53h1.35v0.9h-1.35zM524.5 512.45h1.35v0.9h-1.35zM525.85 522.35h1.35v0.9h-1.35zM527.2 509.09h1.35v0.9h-1.35zM528.55 525.71h1.35v0.9h-1.35zM529.89 525.18h1.35v0.9h-1.35zM531.24 527.13h1.35v0.9h-1.35zM532.59 536.67h1.35v0.9h-1.35zM533.93 532.42h1.35v0.9h-1.35zM535.28 531.36h1.35v0.9h-1.35zM536.63 531.89h1.35v0.9h-1.35zM537.98 524.11h1.35v0.9h-1.35zM539.32 528.18h1.35v0.9h-1.35zM540.67 528.18h1.35v0.9h-1.35zM542.02 532.25h1.35v0.9h-1.35zM543.36 535.61h1.35v0.9h-1.35zM544.71 535.61h1.35v0.9h-1.35zM546.06 537.73h1.35v0.9h-1.35zM547.4 530.3h1.35v0.9h-1.35zM548.75 535.61h1.35v0.9h-1.35zM550.1 526.59h1.35v0.9h-1.35zM551.45 539.85h1.35v0.9h-1.35zM552.79 536.67h1.35v0.9h-1.35zM554.14 532.42h1.35v0.9h-1.35zM555.49 523.94h1.35v0.9h-1.35zM556.83 534.55h1.35v0.9h-1.35zM558.18 532.42h1.35v0.9h-1.35zM559.53 532.42h1.35v0.9h-1.35zM560.87 528.18h1.35v0.9h-1.35zM562.22 534.02h1.35v0.9h-1.35zM563.57 528.18h1.35v0.9h-1.35zM564.91 523.23h1.35v0.9h-1.35zM566.26 520.05h1.35v0.9h-1.35zM567.61 513.86h1.35v0.9h-1.35zM568.96 525.89h1.35v0.9h-1.35zM570.3 531.36h1.35v0.9h-1.35zM571.65 521.29h1.35v0.9h-1.35zM573 529.06h1.35v0.9h-1.35zM574.34 518.46h1.35v0.9h-1.35zM575.69 519.7h1.35v0.9h-1.35zM577.04 521.47h1.35v0.9h-1.35zM578.38 528.36h1.35v0.9h-1.35zM579.73 530.3h1.35v0.9h-1.35zM581.08 529.07h1.35v0.9h-1.35zM582.43 529.59h1.35v0.9h-1.35zM583.77 527.65h1.35v0.9h-1.35zM585.12 531.36h1.35v0.9h-1.35zM586.47 524.29h1.35v0.9h-1.35zM587.81 530.3h1.35v0.9h-1.35zM589.16 535.61h1.35v0.9h-1.35zM590.51 525h1.35v0.9h-1.35zM591.86 526.24h1.35v0.9h-1.35zM593.2 529.77h1.35v0.9h-1.35zM594.55 531.36h1.35v0.9h-1.35zM595.9 534.02h1.35v0.9h-1.35zM597.24 531.89h1.35v0.9h-1.35zM598.59 534.02h1.35v0.9h-1.35zM599.94 530.48h1.35v0.9h-1.35zM601.28 531.36h1.35v0.9h-1.35zM602.63 535.08h1.35v0.9h-1.35zM603.98 531.36h1.35v0.9h-1.35zM605.33 531.89h1.35v0.9h-1.35zM606.67 535.08h1.35v0.9h-1.35zM609.37 540.38h1.35v0.45h-1.35zM610.71 534.55h1.35v0.9h-1.35zM612.06 528h1.35v0.9h-1.35zM613.41 532.42h1.35v0.9h-1.35zM614.75 539.32h1.35v0.9h-1.35zM616.1 535.61h1.35v0.9h-1.35zM617.45 538.26h1.35v0.9h-1.35zM620.14 534.55h1.35v0.9h-1.35zM622.84 536.67h1.35v0.9h-1.35zM624.18 537.73h1.35v0.9h-1.35zM625.53 536.67h1.35v0.9h-1.35zM628.22 538.26h1.35v0.9h-1.35zM629.57 539.32h1.35v0.9h-1.35zM630.92 535.61h1.35v0.9h-1.35zM632.26 538.79h1.35v0.9h-1.35zM633.61 537.73h1.35v0.9h-1.35zM634.96 538.26h1.35v0.9h-1.35zM636.31 540.91h1.35v0.45h-1.35zM639 534.02h1.35v0.9h-1.35zM640.35 532.95h1.35v0.9h-1.35zM641.69 531.36h1.35v0.9h-1.35zM643.04 534.55h1.35v0.9h-1.35zM644.39 528.71h1.35v0.9h-1.35zM645.74 536.14h1.35v0.9h-1.35zM647.08 535.08h1.35v0.9h-1.35zM648.43 537.73h1.35v0.9h-1.35zM649.78 534.02h1.35v0.9h-1.35zM651.12 536.67h1.35v0.9h-1.35zM652.47 536.14h1.35v0.9h-1.35zM653.82 536.67h1.35v0.9h-1.35zM655.16 538.79h1.35v0.9h-1.35zM656.51 535.61h1.35v0.9h-1.35zM657.86 535.08h1.35v0.9h-1.35zM659.21 532.42h1.35v0.9h-1.35zM660.55 534.55h1.35v0.9h-1.35zM661.9 537.73h1.35v0.9h-1.35zM663.25 537.2h1.35v0.9h-1.35zM664.59 537.2h1.35v0.9h-1.35zM665.94 535.08h1.35v0.9h-1.35zM667.29 534.55h1.35v0.9h-1.35zM668.63 530.83h1.35v0.9h-1.35zM669.98 532.95h1.35v0.9h-1.35zM671.33 534.55h1.35v0.9h-1.35zM672.68 533.48h1.35v0.9h-1.35zM674.02 537.2h1.35v0.9h-1.35zM675.37 537.2h1.35v0.9h-1.35zM676.72 535.61h1.35v0.9h-1.35zM678.06 536.14h1.35v0.9h-1.35zM679.41 535.08h1.35v0.9h-1.35zM680.76 538.26h1.35v0.9h-1.35zM682.1 537.73h1.35v0.9h-1.35zM683.45 532.95h1.35v0.9h-1.35zM684.8 532.95h1.35v0.9h-1.35zM686.14 530.3h1.35v0.9h-1.35zM687.49 535.08h1.35v0.9h-1.35zM688.84 531.36h1.35v0.9h-1.35zM690.19 528.54h1.35v0.9h-1.35zM691.53 532.95h1.35v0.9h-1.35zM692.88 536.67h1.35v0.9h-1.35zM694.23 536.67h1.35v0.9h-1.35zM695.57 531.36h1.35v0.9h-1.35zM696.92 528.89h1.35v0.9h-1.35zM698.27 529.25h1.35v0.9h-1.35zM699.62 522.52h1.35v0.9h-1.35zM700.96 526.06h1.35v0.9h-1.35zM702.31 528.71h1.35v0.9h-1.35zM703.66 528.53h1.35v0.9h-1.35zM705 524.82h1.35v0.9h-1.35zM706.35 517.4h1.35v0.9h-1.35zM707.7 521.99h1.35v0.9h-1.35zM709.04 515.28h1.35v0.9h-1.35zM710.39 521.47h1.35v0.9h-1.35zM711.74 527.83h1.35v0.9h-1.35zM713.09 519.69h1.35v0.9h-1.35zM714.43 511.39h1.35v0.9h-1.35zM715.78 511.39h1.35v0.9h-1.35zM717.13 515.28h1.35v0.9h-1.35zM718.47 518.28h1.35v0.9h-1.35zM719.82 495.65h1.35v0.9h-1.35zM721.17 513.15h1.35v0.9h-1.35zM722.51 503.08h1.35v0.9h-1.35zM723.86 510.33h1.35v0.9h-1.35zM725.21 500.08h1.35v0.9h-1.35zM726.56 500.78h1.35v0.9h-1.35zM727.9 471.79h1.35v0.9h-1.35zM729.25 465.43h1.35v0.9h-1.35zM730.6 477.09h1.35v0.9h-1.35zM731.94 471.08h1.35v0.9h-1.35zM733.29 459.42h1.35v0.9h-1.35zM734.64 417.17h1.35v0.9h-1.35zM735.98 454.83h1.35v0.9h-1.35zM737.33 468.26h1.35v0.9h-1.35zM738.68 472.85h1.35v0.9h-1.35zM740.02 460.3h1.35v0.9h-1.35zM741.37 449.34h1.35v0.9h-1.35zM742.72 452.35h1.35v0.9h-1.35zM744.07 442.98h1.35v0.9h-1.35zM745.41 431.14h1.35v0.9h-1.35zM746.76 452.87h1.35v0.9h-1.35zM748.11 447.58h1.35v0.9h-1.35zM749.45 481.7h1.35v0.9h-1.35zM750.8 484.52h1.35v0.9h-1.35zM752.15 457.83h1.35v0.9h-1.35zM753.5 449.87h1.35v0.9h-1.35zM754.84 463.66h1.35v0.9h-1.35zM756.19 484.87h1.35v0.9h-1.35zM757.54 494.07h1.35v0.9h-1.35zM758.88 486.99h1.35v0.9h-1.35zM760.23 499.55h1.35v0.9h-1.35zM761.58 474.27h1.35v0.9h-1.35zM762.92 494.77h1.35v0.9h-1.35zM440.99 540.38h1.35v0.45h-1.35zM455.81 540.38h1.35v0.45h-1.35zM462.54 539.85h1.35v0.9h-1.35zM467.93 540.38h1.35v0.9h-1.35zM469.28 540.91h1.35v0.45h-1.35zM470.62 538.26h1.35v0.9h-1.35zM473.32 537.73h1.35v0.9h-1.35zM474.67 540.38h1.35v0.9h-1.35zM476.01 538.79h1.35v0.9h-1.35zM477.36 539.32h1.35v0.9h-1.35zM478.71 540.38h1.35v0.45h-1.35zM480.05 535.96h1.35v0.9h-1.35zM481.4 539.32h1.35v0.9h-1.35zM482.75 535.96h1.35v0.9h-1.35zM484.09 534.19h1.35v0.9h-1.35zM485.44 527.48h1.35v0.9h-1.35zM486.79 534.55h1.35v0.9h-1.35zM488.14 535.61h1.35v0.9h-1.35zM489.48 534.72h1.35v0.9h-1.35zM490.83 532.78h1.35v0.9h-1.35zM492.18 532.07h1.35v0.9h-1.35zM493.52 534.37h1.35v0.9h-1.35zM494.87 538.61h1.35v0.9h-1.35zM496.22 533.83h1.35v0.9h-1.35zM497.56 534.72h1.35v0.9h-1.35zM498.91 535.43h1.35v0.9h-1.35zM500.26 531.36h1.35v0.9h-1.35zM501.61 532.42h1.35v0.9h-1.35zM502.95 533.13h1.35v0.9h-1.35zM504.3 537.02h1.35v0.9h-1.35zM505.65 533.67h1.35v0.9h-1.35zM506.99 538.61h1.35v0.9h-1.35zM508.34 532.07h1.35v0.9h-1.35zM509.69 536.67h1.35v0.9h-1.35zM511.03 531.36h1.35v0.9h-1.35zM512.38 536.31h1.35v0.9h-1.35zM513.73 535.96h1.35v0.9h-1.35zM515.08 534.37h1.35v0.9h-1.35zM516.42 537.2h1.35v0.9h-1.35zM517.77 534.19h1.35v0.9h-1.35zM519.12 535.08h1.35v0.9h-1.35zM520.46 537.37h1.35v0.9h-1.35zM521.81 535.78h1.35v0.9h-1.35zM523.16 538.43h1.35v0.9h-1.35zM524.5 533.84h1.35v0.9h-1.35zM525.85 537.2h1.35v0.9h-1.35zM527.2 532.42h1.35v0.9h-1.35zM528.55 536.85h1.35v0.9h-1.35zM529.89 535.78h1.35v0.9h-1.35zM531.24 536.85h1.35v0.9h-1.35zM532.59 540.38h1.35v0.9h-1.35zM533.93 537.73h1.35v0.9h-1.35zM535.28 539.85h1.35v0.9h-1.35zM536.63 539.14h1.35v0.9h-1.35zM537.98 536.67h1.35v0.9h-1.35zM539.32 538.26h1.35v0.9h-1.35zM540.67 535.61h1.35v0.9h-1.35zM542.02 540.2h1.35v0.9h-1.35zM543.36 538.26h1.35v0.9h-1.35zM544.71 540.38h1.35v0.45h-1.35zM547.4 538.26h1.35v0.9h-1.35zM548.75 539.32h1.35v0.9h-1.35zM550.1 537.73h1.35v0.9h-1.35zM554.14 540.91h1.35v0.45h-1.35zM555.49 536.67h1.35v0.9h-1.35zM558.18 539.32h1.35v0.9h-1.35zM559.53 540.38h1.35v0.45h-1.35zM560.87 537.73h1.35v0.9h-1.35zM562.22 538.26h1.35v0.9h-1.35zM563.57 539.85h1.35v0.9h-1.35zM564.91 535.78h1.35v0.9h-1.35zM566.26 537.73h1.35v0.9h-1.35zM567.61 536.84h1.35v0.9h-1.35zM568.96 538.61h1.35v0.9h-1.35zM570.3 540.38h1.35v0.9h-1.35zM571.65 534.19h1.35v0.9h-1.35zM573 540.02h1.35v0.45h-1.35zM574.34 533.84h1.35v0.9h-1.35zM575.69 537.55h1.35v0.9h-1.35zM577.04 534.9h1.35v0.9h-1.35zM578.38 538.08h1.35v0.9h-1.35zM579.73 539.32h1.35v0.9h-1.35zM581.08 538.26h1.35v0.9h-1.35zM582.43 537.37h1.35v0.9h-1.35zM583.77 538.08h1.35v0.9h-1.35zM585.12 538.79h1.35v0.9h-1.35zM586.47 537.91h1.35v0.9h-1.35zM587.81 539.32h1.35v0.9h-1.35zM590.51 537.02h1.35v0.9h-1.35zM591.86 537.9h1.35v0.9h-1.35zM593.2 538.26h1.35v0.9h-1.35zM594.55 537.73h1.35v0.9h-1.35zM595.9 540.91h1.35v0.45h-1.35zM597.24 539.67h1.35v0.9h-1.35zM598.59 539.32h1.35v0.9h-1.35zM599.94 538.61h1.35v0.9h-1.35zM602.63 540.38h1.35v0.45h-1.35zM603.98 537.2h1.35v0.9h-1.35zM605.33 540.38h1.35v0.45h-1.35zM606.67 539.85h1.35v0.9h-1.35zM608.02 538.26h1.35v0.9h-1.35zM612.06 536.84h1.35v0.9h-1.35zM613.41 539.85h1.35v0.9h-1.35zM616.1 540.91h1.35v0.45h-1.35zM620.14 539.85h1.35v0.9h-1.35zM621.49 540.91h1.35v0.45h-1.35zM622.84 539.32h1.35v0.9h-1.35zM626.88 539.85h1.35v0.9h-1.35zM628.22 540.38h1.35v0.9h-1.35zM639 539.32h1.35v0.9h-1.35zM640.35 538.79h1.35v0.9h-1.35zM641.69 538.26h1.35v0.9h-1.35zM643.04 539.85h1.35v0.9h-1.35zM644.39 537.2h1.35v0.9h-1.35zM645.74 540.38h1.35v0.9h-1.35zM647.08 540.38h1.35v0.9h-1.35zM649.78 537.2h1.35v0.9h-1.35zM653.82 540.91h1.35v0.45h-1.35zM657.86 539.32h1.35v0.9h-1.35zM659.21 538.26h1.35v0.9h-1.35zM660.55 538.79h1.35v0.9h-1.35zM661.9 539.85h1.35v0.9h-1.35zM663.25 540.91h1.35v0.45h-1.35zM664.59 540.38h1.35v0.9h-1.35zM667.29 540.38h1.35v0.9h-1.35zM668.63 538.26h1.35v0.9h-1.35zM669.98 538.26h1.35v0.9h-1.35zM671.33 540.38h1.35v0.45h-1.35zM675.37 540.38h1.35v0.45h-1.35zM676.72 539.85h1.35v0.9h-1.35zM678.06 540.91h1.35v0.45h-1.35zM679.41 538.79h1.35v0.9h-1.35zM682.1 540.38h1.35v0.9h-1.35zM683.45 539.32h1.35v0.9h-1.35zM684.8 538.79h1.35v0.9h-1.35zM686.14 537.73h1.35v0.9h-1.35zM687.49 539.85h1.35v0.9h-1.35zM688.84 539.32h1.35v0.9h-1.35zM690.19 536.14h1.35v0.9h-1.35zM691.53 539.32h1.35v0.9h-1.35zM694.23 540.91h1.35v0.45h-1.35zM695.57 539.85h1.35v0.9h-1.35zM696.92 538.08h1.35v0.9h-1.35zM698.27 537.91h1.35v0.9h-1.35zM699.62 536.49h1.35v0.9h-1.35zM700.96 539.85h1.35v0.9h-1.35zM702.31 537.73h1.35v0.9h-1.35zM703.66 536.49h1.35v0.9h-1.35zM705 537.37h1.35v0.9h-1.35zM706.35 537.02h1.35v0.9h-1.35zM707.7 535.25h1.35v0.9h-1.35zM709.04 534.9h1.35v0.9h-1.35zM710.39 537.55h1.35v0.9h-1.35zM711.74 538.08h1.35v0.9h-1.35zM713.09 537.55h1.35v0.9h-1.35zM714.43 535.96h1.35v0.9h-1.35zM715.78 531.18h1.35v0.9h-1.35zM717.13 530.83h1.35v0.9h-1.35zM718.47 532.6h1.35v0.9h-1.35zM719.82 531.71h1.35v0.9h-1.35zM721.17 532.07h1.35v0.9h-1.35zM722.51 531.71h1.35v0.9h-1.35zM723.86 532.95h1.35v0.9h-1.35zM725.21 523.23h1.35v0.9h-1.35zM726.56 528.18h1.35v0.9h-1.35zM727.9 520.93h1.35v0.9h-1.35zM729.25 520.05h1.35v0.9h-1.35zM730.6 525.18h1.35v0.9h-1.35zM731.94 522.35h1.35v0.9h-1.35zM733.29 513.33h1.35v0.9h-1.35zM734.64 513.33h1.35v0.9h-1.35zM735.98 505.91h1.35v0.9h-1.35zM737.33 519.7h1.35v0.9h-1.35zM738.68 522.7h1.35v0.9h-1.35zM740.02 522.35h1.35v0.9h-1.35zM741.37 520.76h1.35v0.9h-1.35zM742.72 519.34h1.35v0.9h-1.35zM744.07 516.7h1.35v0.9h-1.35zM745.41 512.45h1.35v0.9h-1.35zM746.76 522.7h1.35v0.9h-1.35zM748.11 519.52h1.35v0.9h-1.35zM749.45 523.23h1.35v0.9h-1.35zM750.8 530.3h1.35v0.9h-1.35zM752.15 518.99h1.35v0.9h-1.35zM753.5 509.62h1.35v0.9h-1.35zM754.84 523.94h1.35v0.9h-1.35zM756.19 520.76h1.35v0.9h-1.35zM757.54 528.71h1.35v0.9h-1.35zM758.88 530.83h1.35v0.9h-1.35zM760.23 531.54h1.35v0.9h-1.35zM761.58 528.89h1.35v0.9h-1.35zM762.92 524.11h1.35v0.9h-1.35zM485.44 541.26h1.35v0.45h-1.35zM490.83 540.73h1.35v0.45h-1.35zM498.91 540.73h1.35v0.45h-1.35zM500.26 541.26h1.35v0.45h-1.35zM501.61 540.73h1.35v0.45h-1.35zM502.95 541.26h1.35v0.45h-1.35zM508.34 541.08h1.35v0.45h-1.35zM509.69 541.26h1.35v0.45h-1.35zM511.03 540.2h1.35v0.9h-1.35zM513.73 541.26h1.35v0.45h-1.35zM515.08 540.55h1.35v0.45h-1.35zM524.5 540.91h1.35v0.45h-1.35zM527.2 541.08h1.35v0.45h-1.35zM528.55 540.73h1.35v0.45h-1.35zM531.24 541.26h1.35v0.45h-1.35zM537.98 540.91h1.35v0.45h-1.35zM547.4 540.91h1.35v0.45h-1.35zM555.49 541.08h1.35v0.45h-1.35zM560.87 540.91h1.35v0.45h-1.35zM564.91 541.08h1.35v0.45h-1.35zM577.04 541.26h1.35v0.45h-1.35zM582.43 540.91h1.35v0.45h-1.35zM599.94 541.26h1.35v0.45h-1.35zM630.92 540.91h1.35v0.45h-1.35zM659.21 540.91h1.35v0.45h-1.35zM707.7 541.08h1.35v0.45h-1.35zM715.78 541.08h1.35v0.45h-1.35zM717.13 540.73h1.35v0.45h-1.35zM719.82 540.55h1.35v0.45h-1.35zM721.17 540.55h1.35v0.45h-1.35zM723.86 541.26h1.35v0.45h-1.35zM725.21 540.2h1.35v0.9h-1.35zM726.56 541.08h1.35v0.45h-1.35zM727.9 538.79h1.35v0.9h-1.35zM729.25 539.85h1.35v0.9h-1.35zM730.6 539.85h1.35v0.9h-1.35zM731.94 540.38h1.35v0.9h-1.35zM733.29 540.55h1.35v0.45h-1.35zM734.64 540.38h1.35v0.9h-1.35zM735.98 538.96h1.35v0.9h-1.35zM737.33 540.2h1.35v0.9h-1.35zM738.68 540.02h1.35v0.9h-1.35zM740.02 540.73h1.35v0.45h-1.35zM741.37 540.38h1.35v0.9h-1.35zM742.72 539.49h1.35v0.9h-1.35zM744.07 537.02h1.35v0.9h-1.35zM745.41 539.32h1.35v0.9h-1.35zM746.76 541.08h1.35v0.45h-1.35zM748.11 540.38h1.35v0.9h-1.35zM749.45 540.38h1.35v0.9h-1.35zM750.8 540.02h1.35v0.9h-1.35zM752.15 538.96h1.35v0.9h-1.35zM753.5 539.14h1.35v0.9h-1.35zM754.84 540.38h1.35v0.9h-1.35zM756.19 540.38h1.35v0.9h-1.35zM757.54 539.67h1.35v0.9h-1.35zM761.58 541.26h1.35v0.45h-1.35z"/>
<path fill="#fdba21" d="M479.65 481.52h2.15V480.3h-2.15zM502.55 421.6h2.15V413.48h-2.15zM503.9 437.5h2.15V434.15h-2.15zM505.25 432.73h2.15V428.86h-2.15zM506.59 458.19h2.15V447.42h-2.15zM509.29 410.99h2.15V409.76h-2.15zM514.68 435.9h2.15V434.15h-2.15zM516.02 459.77h2.15V450.07h-2.15zM517.37 435.9h2.15V434.15h-2.15zM518.72 433.25h2.15V432.03h-2.15zM520.06 447.57h2.15V446.35h-2.15zM521.41 445.46h2.15V444.23h-2.15zM522.76 478.33h2.15V477.64h-2.15zM524.11 438.57h2.15V435.22h-2.15zM526.8 416.82h2.15V415.6h-2.15zM529.49 444.92h2.15V443.17h-2.15zM530.84 458.19h2.15V456.44h-2.15zM537.58 469.84h2.15V468.62h-2.15zM538.92 475.16h2.15V474.47h-2.15zM544.31 484.7h2.15V483.48h-2.15zM545.66 479.92h2.15V478.7h-2.15zM548.35 461.36h2.15V458.55h-2.15zM553.74 484.17h2.15V474.46h-2.15zM555.09 462.95h2.15V455.9h-2.15zM556.43 493.18h2.15V491.96h-2.15zM560.47 495.3h2.15V494.08h-2.15zM563.17 484.17h2.15V482.95h-2.15zM564.51 458.7h2.15V458.01h-2.15zM565.86 449.16h2.15V447.41h-2.15zM568.56 444.92h2.15V443.7h-2.15zM569.9 473.56h2.15V472.87h-2.15zM571.25 468.26h2.15V467.57h-2.15zM572.6 487.35h2.15V486.13h-2.15zM573.94 443.33h2.15V442.11h-2.15zM576.64 444.4h2.15V443.18h-2.15zM577.99 480.45h2.15V479.23h-2.15zM582.03 459.24h2.15V457.49h-2.15zM583.37 477.27h2.15V476.05h-2.15zM586.07 473.03h2.15V471.81h-2.15zM587.41 495.83h2.15V495.14h-2.15zM590.11 490.01h2.15V488.78h-2.15zM594.15 486.82h2.15V485.6h-2.15zM719.42 372.27h2.15V370.52h-2.15zM722.11 421.06h2.15V419.83h-2.15zM740.97 262.5h2.15V260.74h-2.15zM746.36 196.21h2.15V194.46h-2.15z"/>
</g>
<text x="150.1" y="576.3" font-size="18.8" letter-spacing="-0.48" text-anchor="middle">3/5</text>
<text x="183.8" y="576.3" font-size="18.8" letter-spacing="-0.48" text-anchor="middle">3/30</text>
<text x="217.5" y="576.3" font-size="18.8" letter-spacing="-0.48" text-anchor="middle">4/24</text>
<text x="251.1" y="576.3" font-size="18.8" letter-spacing="-0.48" text-anchor="middle">5/19</text>
<text x="284.8" y="576.3" font-size="18.8" letter-spacing="-0.48" text-anchor="middle">6/13</text>
<text x="318.5" y="576.3" font-size="18.8" letter-spacing="-0.48" text-anchor="middle">7/8</text>
<text x="352.2" y="576.3" font-size="18.8" letter-spacing="-0.48" text-anchor="middle">8/2</text>
<text x="385.8" y="576.3" font-size="18.8" letter-spacing="-0.48" text-anchor="middle">8/27</text>
<text x="419.5" y="576.3" font-size="18.8" letter-spacing="-0.48" text-anchor="middle">9/21</text>
<text x="453.2" y="576.3" font-size="18.8" letter-spacing="-0.48" text-anchor="middle">10/16</text>
<text x="486.9" y="576.3" font-size="18.8" letter-spacing="-0.48" text-anchor="middle">11/10</text>
<text x="520.5" y="576.3" font-size="18.8" letter-spacing="-0.48" text-anchor="middle">12/5</text>
<text x="554.2" y="576.3" font-size="18.8" letter-spacing="-0.48" text-anchor="middle">12/30</text>
<text x="587.9" y="576.3" font-size="18.8" letter-spacing="-0.48" text-anchor="middle">1/24</text>
<text x="621.6" y="576.3" font-size="18.8" letter-spacing="-0.48" text-anchor="middle">2/18</text>
<text x="655.2" y="576.3" font-size="18.8" letter-spacing="-0.48" text-anchor="middle">3/15</text>
<text x="763.0" y="576.3" font-size="18.8" letter-spacing="-0.48" text-anchor="middle">6/3</text>
</svg></body></html>
